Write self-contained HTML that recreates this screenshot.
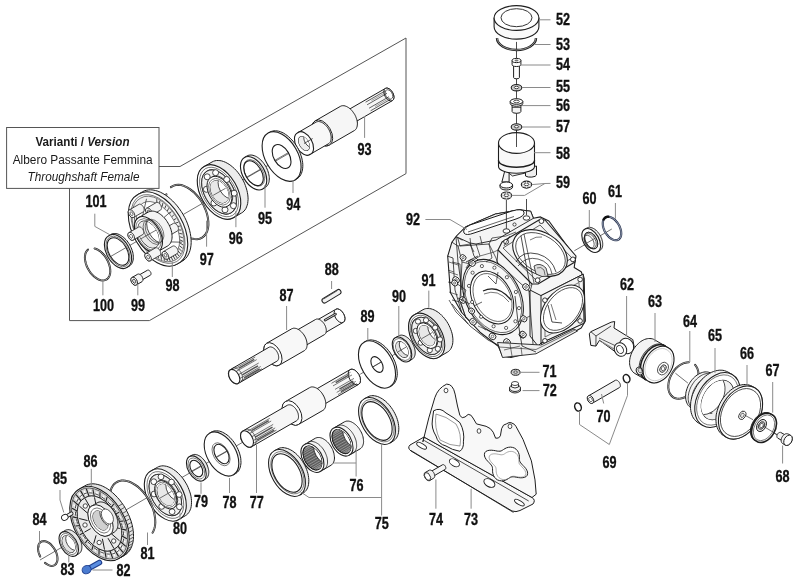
<!DOCTYPE html>
<html><head><meta charset="utf-8"><style>
html,body{margin:0;padding:0;background:#fff;}
svg{display:block;will-change:transform;}
.lb{font-family:"Liberation Sans",sans-serif;font-weight:bold;font-size:16.5px;fill:#111;text-anchor:middle;stroke:#111;stroke-width:0.35px;}
.bx{font-family:"Liberation Sans",sans-serif;font-size:12.6px;fill:#1a1a1a;text-anchor:middle;}
</style></head><body>
<svg width="800" height="587" viewBox="0 0 800 587">
<rect width="800" height="587" fill="#fff"/>
<polyline points="406,38 406,173.6 149.4,320.6 69.5,320.6 69.5,188.4" fill="none" stroke="#555" stroke-width="1"/>
<polyline points="159,166.5 180,166.5 406,38" fill="none" stroke="#555" stroke-width="1"/>
<rect x="6.6" y="127.5" width="152.4" height="60.9" fill="none" stroke="#555" stroke-width="1"/>
<polygon points="456,236.6 466,226.7 495.5,214 519.4,209.8 530.6,211.2 533.4,218.3 540.5,216.9 548.9,221 575.6,257.6 574.2,267.5 581.2,271.7 584,278.7 585.4,321 581.2,328 546,347.6 527.8,353.3 511,357.5 502.5,356 498.3,346.2 480,332.2 461.7,312.5 450.5,292.8 447.7,256.2 451.9,242.2" fill="#f6f6f6" stroke="#1e1e1e" stroke-width="1.1" stroke-linejoin="round"/>
<polyline points="451.9,242.2 458,246 462,262 460,300 466,318" fill="none" stroke="#1e1e1e" stroke-width="0.8" stroke-linejoin="round"/>
<polyline points="456,236.6 462,240 468,238 476,236" fill="none" stroke="#1e1e1e" stroke-width="0.8" stroke-linejoin="round"/>
<polyline points="447.7,256.2 453,258 455,290 461.7,312.5" fill="none" stroke="#1e1e1e" stroke-width="0.8" stroke-linejoin="round"/>
<polyline points="458,246 470,244 474,252" fill="none" stroke="#1e1e1e" stroke-width="0.7" stroke-linejoin="round"/>
<polyline points="449,262 458,265" fill="none" stroke="#1e1e1e" stroke-width="0.6" stroke-linejoin="round"/>
<polyline points="449,272 458,275" fill="none" stroke="#1e1e1e" stroke-width="0.6" stroke-linejoin="round"/>
<polyline points="449,282 458,285" fill="none" stroke="#1e1e1e" stroke-width="0.6" stroke-linejoin="round"/>
<polyline points="449,292 458,295" fill="none" stroke="#1e1e1e" stroke-width="0.6" stroke-linejoin="round"/>
<polyline points="462,262 470,264 472,276" fill="none" stroke="#1e1e1e" stroke-width="0.7" stroke-linejoin="round"/>
<polyline points="452,300 460,302 466,318 474,326" fill="none" stroke="#1e1e1e" stroke-width="0.7" stroke-linejoin="round"/>
<polygon points="456,236.6 466,226.7 495.5,214 519.4,209.8 530.6,211.2 533.4,218.3 520,226 496,240 476,244 470,243" fill="#f4f4f4" stroke="#1e1e1e" stroke-width="0.9" stroke-linejoin="round"/>
<path d="M464,233 Q462,229 470,225 L512,211 Q522,208 524,212 Q525,216 516,219 L474,233 Q466,236 464,233 Z" fill="#fff" stroke="#1e1e1e" stroke-width="1.0"/>
<path d="M468,232 L514,216.5" fill="none" stroke="#1e1e1e" stroke-width="0.7"/>
<polyline points="457.7,238 460,246 489,244 492,238" fill="none" stroke="#1e1e1e" stroke-width="0.8" stroke-linejoin="round"/>
<polyline points="470,238 471,246" fill="none" stroke="#1e1e1e" stroke-width="0.7" stroke-linejoin="round"/>
<polyline points="480,236 482,244" fill="none" stroke="#1e1e1e" stroke-width="0.7" stroke-linejoin="round"/>
<polyline points="470,243 474,256 480,262" fill="none" stroke="#1e1e1e" stroke-width="0.8" stroke-linejoin="round"/>
<polyline points="489,244 496,258 500,270" fill="none" stroke="#1e1e1e" stroke-width="0.7" stroke-linejoin="round"/>
<polyline points="492,238 506,236 516,232" fill="none" stroke="#1e1e1e" stroke-width="0.7" stroke-linejoin="round"/>
<circle cx="514.5" cy="224.5" r="1.6" fill="#fff" stroke="#1e1e1e" stroke-width="0.8"/>
<polyline points="506.4,200.0 506.4,229.0" fill="none" stroke="#1e1e1e" stroke-width="0.8" stroke-linejoin="round"/>
<polyline points="526.5,199.0 526.5,215.0" fill="none" stroke="#1e1e1e" stroke-width="0.8" stroke-linejoin="round"/>
<ellipse cx="506.4" cy="231" rx="3.4" ry="2.2" transform="rotate(0 506.4 231)" fill="#fff" stroke="#1e1e1e" stroke-width="0.9"/>
<ellipse cx="526.5" cy="218" rx="3.4" ry="2.2" transform="rotate(0 526.5 218)" fill="#fff" stroke="#1e1e1e" stroke-width="0.9"/>
<polygon points="498,250 502,242 539,220 545,220 576,256 575,262 538,284 532,284" fill="#f4f4f4" stroke="#1e1e1e" stroke-width="1.1" stroke-linejoin="round"/>
<polyline points="503,248 540,225 572,258 536,280 503,248" fill="none" stroke="#1e1e1e" stroke-width="0.7" stroke-linejoin="round"/>
<polyline points="498,250 497,262 530,292 532,284" fill="none" stroke="#1e1e1e" stroke-width="0.8" stroke-linejoin="round"/>
<ellipse cx="540" cy="253" rx="29.5" ry="20.5" transform="rotate(32 540 253)" fill="#fff" stroke="#1e1e1e" stroke-width="1.1"/>
<ellipse cx="540.5" cy="253.5" rx="27" ry="18" transform="rotate(32 540.5 253.5)" fill="none" stroke="#1e1e1e" stroke-width="0.7"/>
<path d="M521,236 L530,286" stroke="#1e1e1e" stroke-width="0.8"/>
<path d="M524,234 L534,283" stroke="#1e1e1e" stroke-width="0.7"/>
<path d="M516,262 Q522,250 538,254 Q552,258 556,272" fill="none" stroke="#1e1e1e" stroke-width="0.8"/>
<path d="M518,266 Q526,256 538,259 Q550,262 552,274" fill="none" stroke="#1e1e1e" stroke-width="0.7"/>
<path d="M534,266 Q540,262 546,268 L548,276 Q542,278 536,274 Z" fill="#ddd" stroke="#1e1e1e" stroke-width="0.8"/>
<path d="M537,268 Q541,266 544,270 L545,275" fill="none" stroke="#1e1e1e" stroke-width="0.6"/>
<path d="M530,240 Q536,236 542,237" fill="none" stroke="#1e1e1e" stroke-width="0.6"/>
<circle cx="506.1" cy="241.8" r="2.4" fill="#fff" stroke="#1e1e1e" stroke-width="0.9"/>
<circle cx="541.4" cy="221.1" r="2.4" fill="#fff" stroke="#1e1e1e" stroke-width="0.9"/>
<circle cx="572.9" cy="259.4" r="2.4" fill="#fff" stroke="#1e1e1e" stroke-width="0.9"/>
<circle cx="537.6" cy="280.2" r="2.4" fill="#fff" stroke="#1e1e1e" stroke-width="0.9"/>
<ellipse cx="493" cy="297" rx="40" ry="27" transform="rotate(62 493 297)" fill="#f8f8f8" stroke="#1e1e1e" stroke-width="1.1"/>
<ellipse cx="493" cy="297" rx="38" ry="25.5" transform="rotate(62 493 297)" fill="none" stroke="#1e1e1e" stroke-width="0.6"/>
<ellipse cx="492" cy="297.5" rx="28" ry="19.5" transform="rotate(62 492 297.5)" fill="#fff" stroke="#1e1e1e" stroke-width="1.0"/>
<ellipse cx="492.5" cy="297.5" rx="25.5" ry="17.5" transform="rotate(62 492.5 297.5)" fill="none" stroke="#1e1e1e" stroke-width="0.6"/>
<path d="M483,291 Q498,284 511,300" fill="none" stroke="#1e1e1e" stroke-width="1.2"/>
<path d="M484,294 Q498,288 509,302" fill="none" stroke="#1e1e1e" stroke-width="0.6"/>
<polyline points="488,276 496,284 498,272" fill="none" stroke="#1e1e1e" stroke-width="0.7" stroke-linejoin="round"/>
<polyline points="474,306 482,302" fill="none" stroke="#1e1e1e" stroke-width="0.7" stroke-linejoin="round"/>
<circle cx="506.1" cy="327.9" r="1.6" fill="#fff" stroke="#1e1e1e" stroke-width="0.7"/>
<circle cx="493.6" cy="326.3" r="1.6" fill="#fff" stroke="#1e1e1e" stroke-width="0.7"/>
<circle cx="481.1" cy="316.8" r="1.6" fill="#fff" stroke="#1e1e1e" stroke-width="0.7"/>
<circle cx="472.1" cy="302.0" r="1.6" fill="#fff" stroke="#1e1e1e" stroke-width="0.7"/>
<circle cx="469.0" cy="285.9" r="1.6" fill="#fff" stroke="#1e1e1e" stroke-width="0.7"/>
<circle cx="472.6" cy="272.7" r="1.6" fill="#fff" stroke="#1e1e1e" stroke-width="0.7"/>
<circle cx="481.9" cy="266.1" r="1.6" fill="#fff" stroke="#1e1e1e" stroke-width="0.7"/>
<circle cx="494.4" cy="267.7" r="1.6" fill="#fff" stroke="#1e1e1e" stroke-width="0.7"/>
<circle cx="506.9" cy="277.2" r="1.6" fill="#fff" stroke="#1e1e1e" stroke-width="0.7"/>
<circle cx="515.9" cy="292.0" r="1.6" fill="#fff" stroke="#1e1e1e" stroke-width="0.7"/>
<circle cx="519.0" cy="308.1" r="1.6" fill="#fff" stroke="#1e1e1e" stroke-width="0.7"/>
<circle cx="515.4" cy="321.3" r="1.6" fill="#fff" stroke="#1e1e1e" stroke-width="0.7"/>
<ellipse cx="472" cy="263" rx="3.6" ry="3.0" transform="rotate(40 472 263)" fill="#fff" stroke="#1e1e1e" stroke-width="0.9"/>
<circle cx="472" cy="263" r="1.3" fill="#fff" stroke="#1e1e1e" stroke-width="0.6"/>
<ellipse cx="456" cy="280" rx="3.6" ry="3.0" transform="rotate(40 456 280)" fill="#fff" stroke="#1e1e1e" stroke-width="0.9"/>
<circle cx="456" cy="280" r="1.3" fill="#fff" stroke="#1e1e1e" stroke-width="0.6"/>
<ellipse cx="462.7" cy="300" rx="3.6" ry="3.0" transform="rotate(40 462.7 300)" fill="#fff" stroke="#1e1e1e" stroke-width="0.9"/>
<circle cx="462.7" cy="300" r="1.3" fill="#fff" stroke="#1e1e1e" stroke-width="0.6"/>
<ellipse cx="473" cy="321.8" rx="3.6" ry="3.0" transform="rotate(40 473 321.8)" fill="#fff" stroke="#1e1e1e" stroke-width="0.9"/>
<circle cx="473" cy="321.8" r="1.3" fill="#fff" stroke="#1e1e1e" stroke-width="0.6"/>
<ellipse cx="492.5" cy="336.4" rx="3.6" ry="3.0" transform="rotate(40 492.5 336.4)" fill="#fff" stroke="#1e1e1e" stroke-width="0.9"/>
<circle cx="492.5" cy="336.4" r="1.3" fill="#fff" stroke="#1e1e1e" stroke-width="0.6"/>
<ellipse cx="507" cy="342" rx="3.6" ry="3.0" transform="rotate(40 507 342)" fill="#fff" stroke="#1e1e1e" stroke-width="0.9"/>
<circle cx="507" cy="342" r="1.3" fill="#fff" stroke="#1e1e1e" stroke-width="0.6"/>
<ellipse cx="522.5" cy="334.8" rx="3.6" ry="3.0" transform="rotate(40 522.5 334.8)" fill="#fff" stroke="#1e1e1e" stroke-width="0.9"/>
<circle cx="522.5" cy="334.8" r="1.3" fill="#fff" stroke="#1e1e1e" stroke-width="0.6"/>
<ellipse cx="526" cy="287" rx="3.6" ry="3.0" transform="rotate(40 526 287)" fill="#fff" stroke="#1e1e1e" stroke-width="0.9"/>
<circle cx="526" cy="287" r="1.3" fill="#fff" stroke="#1e1e1e" stroke-width="0.6"/>
<ellipse cx="545" cy="344" rx="3.6" ry="3.0" transform="rotate(40 545 344)" fill="#fff" stroke="#1e1e1e" stroke-width="0.9"/>
<circle cx="545" cy="344" r="1.3" fill="#fff" stroke="#1e1e1e" stroke-width="0.6"/>
<polyline points="466,262 478,256" fill="none" stroke="#1e1e1e" stroke-width="0.8" stroke-linejoin="round"/>
<polyline points="458,298 470,304" fill="none" stroke="#1e1e1e" stroke-width="0.8" stroke-linejoin="round"/>
<polyline points="452,304 470,326 488,340 500,346" fill="none" stroke="#1e1e1e" stroke-width="0.8" stroke-linejoin="round"/>
<polyline points="474,318 486,330" fill="none" stroke="#777" stroke-width="1.6" stroke-linejoin="round"/>
<polyline points="478,326 496,334" fill="none" stroke="#1e1e1e" stroke-width="0.6" stroke-linejoin="round"/>
<polyline points="456,283 466,290 462,300" fill="none" stroke="#1e1e1e" stroke-width="0.7" stroke-linejoin="round"/>
<polyline points="452,262 460,264 461,296" fill="none" stroke="#1e1e1e" stroke-width="0.7" stroke-linejoin="round"/>
<polyline points="448,270 454,272" fill="none" stroke="#1e1e1e" stroke-width="0.6" stroke-linejoin="round"/>
<polyline points="448,282 455,284" fill="none" stroke="#1e1e1e" stroke-width="0.6" stroke-linejoin="round"/>
<polygon points="530,290 541,295.6 583.2,274.2 584,278 584,323.2 541,343 538,346 530,336" fill="#f2f2f2" stroke="#1e1e1e" stroke-width="1.0" stroke-linejoin="round"/>
<polygon points="541,295.6 583.2,274.2 584,323.2 541,343" fill="#f4f4f4" stroke="#1e1e1e" stroke-width="1.0" stroke-linejoin="round"/>
<polyline points="545,300 579,282.5 580,319 545,337 545,300" fill="none" stroke="#1e1e1e" stroke-width="0.6" stroke-linejoin="round"/>
<ellipse cx="562.5" cy="309" rx="27.4" ry="17.6" transform="rotate(-51 562.5 309)" fill="#fff" stroke="#1e1e1e" stroke-width="1.0"/>
<ellipse cx="563" cy="309" rx="24.5" ry="15.5" transform="rotate(-51 563 309)" fill="none" stroke="#1e1e1e" stroke-width="0.7"/>
<polyline points="548,305 552,322 562,323" fill="none" stroke="#1e1e1e" stroke-width="0.8" stroke-linejoin="round"/>
<polyline points="551,304 556,320" fill="none" stroke="#1e1e1e" stroke-width="0.6" stroke-linejoin="round"/>
<circle cx="544.9" cy="300.2" r="2.3" fill="#fff" stroke="#1e1e1e" stroke-width="0.9"/>
<circle cx="580.1" cy="279.5" r="2.3" fill="#fff" stroke="#1e1e1e" stroke-width="0.9"/>
<circle cx="580.1" cy="320.9" r="2.3" fill="#fff" stroke="#1e1e1e" stroke-width="0.9"/>
<circle cx="544.9" cy="340.8" r="2.3" fill="#fff" stroke="#1e1e1e" stroke-width="0.9"/>
<polygon points="497.5,342.5 502.5,357.5 536,353.8 577.5,331 574,329 541,345" fill="#f0f0f0" stroke="#1e1e1e" stroke-width="0.9" stroke-linejoin="round"/>
<polyline points="499,347 536,349.5 575,330" fill="none" stroke="#1e1e1e" stroke-width="0.6" stroke-linejoin="round"/>
<polyline points="510,344 512,356" fill="none" stroke="#1e1e1e" stroke-width="0.6" stroke-linejoin="round"/>
<polyline points="521,347 522,355" fill="none" stroke="#1e1e1e" stroke-width="0.6" stroke-linejoin="round"/>
<polyline points="504,350 520,346" fill="none" stroke="#1e1e1e" stroke-width="0.6" stroke-linejoin="round"/>
<polyline points="515,296 518,322 522,346 536,352" fill="none" stroke="#1e1e1e" stroke-width="0.8" stroke-linejoin="round"/>
<polyline points="529,291 531,318 533,344" fill="none" stroke="#1e1e1e" stroke-width="0.8" stroke-linejoin="round"/>
<polyline points="518,322 530,316" fill="none" stroke="#1e1e1e" stroke-width="0.7" stroke-linejoin="round"/>
<ellipse cx="523.75" cy="318.75" rx="3.4" ry="2.8" transform="rotate(40 523.75 318.75)" fill="#fff" stroke="#1e1e1e" stroke-width="0.9"/>
<circle cx="523.75" cy="318.75" r="1.2" fill="#fff" stroke="#1e1e1e" stroke-width="0.6"/>
<ellipse cx="523.1" cy="334.4" rx="3.4" ry="2.8" transform="rotate(40 523.1 334.4)" fill="#fff" stroke="#1e1e1e" stroke-width="0.9"/>
<circle cx="523.1" cy="334.4" r="1.2" fill="#fff" stroke="#1e1e1e" stroke-width="0.6"/>
<polyline points="456,237 458,262 462,290" fill="none" stroke="#1e1e1e" stroke-width="0.8" stroke-linejoin="round"/>
<polyline points="476,244 480,256 470,262 466,268" fill="none" stroke="#1e1e1e" stroke-width="0.7" stroke-linejoin="round"/>
<polyline points="489,244 492,258 486,262" fill="none" stroke="#1e1e1e" stroke-width="0.7" stroke-linejoin="round"/>
<polyline points="480,256 494,252" fill="none" stroke="#1e1e1e" stroke-width="0.6" stroke-linejoin="round"/>
<polyline points="494,252 498,250" fill="none" stroke="#1e1e1e" stroke-width="0.6" stroke-linejoin="round"/>
<polyline points="449,300 456,312 468,324" fill="none" stroke="#1e1e1e" stroke-width="0.7" stroke-linejoin="round"/>
<ellipse cx="463" cy="257.6" rx="3.2" ry="2.7" transform="rotate(40 463 257.6)" fill="#fff" stroke="#1e1e1e" stroke-width="0.9"/>
<circle cx="463" cy="257.6" r="1.1" fill="#fff" stroke="#1e1e1e" stroke-width="0.6"/>
<ellipse cx="454.7" cy="283" rx="3.2" ry="2.7" transform="rotate(40 454.7 283)" fill="#fff" stroke="#1e1e1e" stroke-width="0.9"/>
<circle cx="454.7" cy="283" r="1.1" fill="#fff" stroke="#1e1e1e" stroke-width="0.6"/>
<ellipse cx="471.6" cy="311" rx="3.2" ry="2.7" transform="rotate(40 471.6 311)" fill="#fff" stroke="#1e1e1e" stroke-width="0.9"/>
<circle cx="471.6" cy="311" r="1.1" fill="#fff" stroke="#1e1e1e" stroke-width="0.6"/>
<polyline points="510,236 504,246" fill="none" stroke="#1e1e1e" stroke-width="0.7" stroke-linejoin="round"/>
<polyline points="108.0,258.0 312.0,140.0" fill="none" stroke="#333" stroke-width="0.7" stroke-linejoin="round"/>
<path d="M350.8,124.6 L350.5,124.7 L350.1,124.8 L349.7,124.9 L349.3,124.9 L348.9,124.9 L348.5,124.8 L348.1,124.7 L347.6,124.5 L347.2,124.3 L346.8,124.0 L346.3,123.7 L345.9,123.3 L345.5,123.0 L345.1,122.5 L344.7,122.1 L344.3,121.6 L344.0,121.1 L343.7,120.6 L343.4,120.1 L343.1,119.5 L342.9,119.0 L342.7,118.4 L342.5,117.8 L342.4,117.3 L342.3,116.7 L342.3,116.2 L342.3,115.7 L342.3,115.2 L342.3,114.7 L342.5,114.3 L342.6,113.9 L342.8,113.5 L343.0,113.2 L343.2,112.9 L343.5,112.6 L343.8,112.4 L385.4,88.4 L385.7,88.3 L386.1,88.2 L386.4,88.1 L386.8,88.1 L387.2,88.1 L387.7,88.2 L388.1,88.3 L388.5,88.5 L389.0,88.7 L389.4,89.0 L389.8,89.3 L390.3,89.7 L390.7,90.0 L391.1,90.5 L391.5,90.9 L391.8,91.4 L392.2,91.9 L392.5,92.4 L392.8,92.9 L393.1,93.5 L393.3,94.0 L393.5,94.6 L393.6,95.2 L393.8,95.7 L393.9,96.3 L393.9,96.8 L393.9,97.3 L393.9,97.8 L393.8,98.3 L393.7,98.7 L393.6,99.1 L393.4,99.5 L393.2,99.8 L392.9,100.1 L392.7,100.4 L392.4,100.6Z" fill="#f6f6f6" stroke="#1e1e1e" stroke-width="1.0" stroke-linejoin="round" />
<path d="M392.4,100.6 A7.0,4.2 60.0 1 0 385.4,88.4 A7.0,4.2 60.0 1 0 392.4,100.6Z" fill="#fff" stroke="#1e1e1e" stroke-width="1" stroke-linejoin="round" />
<path d="M391.4,98.8 A5.0,3.0 60.0 1 0 386.4,90.2 A5.0,3.0 60.0 1 0 391.4,98.8Z" fill="#fff" stroke="#1e1e1e" stroke-width="0.7" stroke-linejoin="round" />
<line x1="365.6" y1="102.2" x2="385.5" y2="90.7" stroke="#1e1e1e" stroke-width="0.7"/>
<line x1="367.1" y1="104.8" x2="387.0" y2="93.3" stroke="#1e1e1e" stroke-width="0.7"/>
<line x1="369.1" y1="108.2" x2="389.0" y2="96.7" stroke="#1e1e1e" stroke-width="0.7"/>
<line x1="370.6" y1="110.8" x2="390.5" y2="99.3" stroke="#1e1e1e" stroke-width="0.7"/>
<line x1="371.5" y1="100.5" x2="386.3" y2="92.0" stroke="#666" stroke-width="0.6"/>
<line x1="375.0" y1="106.5" x2="389.8" y2="98.0" stroke="#666" stroke-width="0.6"/>
<path d="M329.2,145.1 L328.5,145.4 L327.8,145.7 L327.1,145.8 L326.3,145.8 L325.5,145.8 L324.6,145.6 L323.7,145.3 L322.9,145.0 L322.0,144.5 L321.1,144.0 L320.2,143.4 L319.4,142.7 L318.6,141.9 L317.7,141.1 L317.0,140.2 L316.2,139.2 L315.5,138.2 L314.9,137.2 L314.3,136.1 L313.8,135.0 L313.3,133.9 L313.0,132.8 L312.6,131.7 L312.4,130.6 L312.2,129.5 L312.1,128.4 L312.1,127.4 L312.1,126.4 L312.3,125.5 L312.5,124.6 L312.8,123.8 L313.1,123.0 L313.5,122.4 L314.0,121.8 L314.6,121.3 L315.2,120.9 L340.3,106.4 L341.0,106.1 L341.7,105.8 L342.4,105.7 L343.2,105.7 L344.0,105.7 L344.9,105.9 L345.7,106.2 L346.6,106.5 L347.5,107.0 L348.4,107.5 L349.2,108.1 L350.1,108.8 L350.9,109.6 L351.7,110.4 L352.5,111.3 L353.2,112.3 L353.9,113.3 L354.6,114.3 L355.2,115.4 L355.7,116.5 L356.1,117.6 L356.5,118.7 L356.9,119.8 L357.1,120.9 L357.3,122.0 L357.4,123.1 L357.4,124.1 L357.3,125.1 L357.2,126.0 L357.0,126.9 L356.7,127.7 L356.4,128.5 L355.9,129.1 L355.5,129.7 L354.9,130.2 L354.3,130.6Z" fill="#f6f6f6" stroke="#1e1e1e" stroke-width="1.0" stroke-linejoin="round" />
<path d="M329.2,145.1 A14.0,8.4 60.0 1 0 315.2,120.9 A14.0,8.4 60.0 1 0 329.2,145.1Z" fill="#fff" stroke="#1e1e1e" stroke-width="1" stroke-linejoin="round" />
<path d="M310.2,154.3 L309.7,154.6 L309.0,154.8 L308.4,154.9 L307.7,155.0 L306.9,154.9 L306.2,154.8 L305.4,154.5 L304.6,154.2 L303.8,153.8 L303.0,153.3 L302.3,152.8 L301.5,152.2 L300.8,151.5 L300.0,150.7 L299.3,149.9 L298.7,149.1 L298.1,148.2 L297.5,147.2 L297.0,146.3 L296.5,145.3 L296.1,144.3 L295.8,143.3 L295.5,142.3 L295.2,141.3 L295.1,140.4 L295.0,139.4 L295.0,138.5 L295.0,137.6 L295.2,136.8 L295.3,136.0 L295.6,135.3 L295.9,134.6 L296.3,134.0 L296.7,133.5 L297.2,133.0 L297.8,132.7 L315.9,122.2 L316.5,121.9 L317.2,121.7 L317.8,121.6 L318.5,121.5 L319.3,121.6 L320.0,121.8 L320.8,122.0 L321.6,122.3 L322.4,122.7 L323.1,123.2 L323.9,123.7 L324.7,124.3 L325.4,125.0 L326.2,125.8 L326.8,126.6 L327.5,127.4 L328.1,128.3 L328.7,129.2 L329.2,130.2 L329.7,131.2 L330.1,132.2 L330.4,133.2 L330.7,134.2 L330.9,135.2 L331.1,136.1 L331.2,137.1 L331.2,138.0 L331.1,138.9 L331.0,139.7 L330.8,140.5 L330.6,141.2 L330.3,141.9 L329.9,142.5 L329.5,143.0 L329.0,143.5 L328.4,143.8Z" fill="#f8f8f8" stroke="#1e1e1e" stroke-width="1.0" stroke-linejoin="round" />
<path d="M310.2,154.3 A12.5,7.5 60.0 1 0 297.8,132.7 A12.5,7.5 60.0 1 0 310.2,154.3ZM307.8,150.0 A7.5,4.5 60.0 1 0 300.2,137.0 A7.5,4.5 60.0 1 0 307.8,150.0Z" fill="#fff" stroke="#1e1e1e" stroke-width="1.1" stroke-linejoin="round" fill-rule="evenodd"/>
<path d="M307.8,150.0 A7.5,4.5 60.0 1 0 300.2,137.0 A7.5,4.5 60.0 1 0 307.8,150.0Z" fill="#eee" stroke="#1e1e1e" stroke-width="0" stroke-linejoin="round" />
<clipPath id="k1"><path d="M307.8,150.0 A7.5,4.5 60.0 1 0 300.2,137.0 A7.5,4.5 60.0 1 0 307.8,150.0Z"/></clipPath>
<path d="M312.9,147.0 A7.5,4.5 60.0 1 0 305.4,134.0 A7.5,4.5 60.0 1 0 312.9,147.0Z" fill="#fff" stroke="#1e1e1e" stroke-width="0.8" stroke-linejoin="round" clip-path="url(#k1)"/>
<line x1="304.0" y1="143.5" x2="312.7" y2="138.5" stroke="#1e1e1e" stroke-width="0.7"/>
<path d="M295.1,179.9 L293.8,180.5 L292.5,180.9 L291.0,181.2 L289.5,181.2 L287.9,181.1 L286.3,180.8 L284.6,180.3 L282.9,179.6 L281.2,178.8 L279.5,177.7 L277.9,176.5 L276.2,175.2 L274.6,173.7 L273.0,172.1 L271.5,170.4 L270.1,168.5 L268.8,166.6 L267.6,164.6 L266.4,162.5 L265.4,160.4 L264.6,158.3 L263.8,156.1 L263.2,154.0 L262.7,151.8 L262.4,149.7 L262.2,147.7 L262.1,145.7 L262.2,143.8 L262.5,142.0 L262.9,140.3 L263.4,138.7 L264.1,137.3 L264.9,136.0 L265.9,134.9 L266.9,133.9 L268.1,133.1 L269.8,132.1 L271.1,131.5 L272.5,131.1 L273.9,130.8 L275.4,130.8 L277.0,130.9 L278.7,131.2 L280.3,131.7 L282.0,132.4 L283.7,133.2 L285.4,134.3 L287.1,135.5 L288.7,136.8 L290.3,138.3 L291.9,139.9 L293.4,141.6 L294.8,143.5 L296.1,145.4 L297.4,147.4 L298.5,149.5 L299.5,151.6 L300.4,153.7 L301.1,155.9 L301.8,158.0 L302.2,160.2 L302.6,162.3 L302.8,164.3 L302.8,166.3 L302.7,168.2 L302.4,170.0 L302.0,171.7 L301.5,173.3 L300.8,174.7 L300.0,176.0 L299.1,177.1 L298.0,178.1 L296.8,178.9ZM288.1,167.8 A13.0,7.8 60.0 1 0 275.1,145.2 A13.0,7.8 60.0 1 0 288.1,167.8Z" fill="#eee" stroke="none" stroke-width="0" stroke-linejoin="round" fill-rule="evenodd"/>
<polyline points="269.8,132.1 271.1,131.5 272.5,131.1 273.9,130.8 275.4,130.8 277.0,130.9 278.7,131.2 280.3,131.7 282.0,132.4 283.7,133.2 285.4,134.3 287.1,135.5 288.7,136.8 290.3,138.3 291.9,139.9 293.4,141.6 294.8,143.5 296.1,145.4 297.4,147.4 298.5,149.5 299.5,151.6 300.4,153.7 301.1,155.9 301.8,158.0 302.2,160.2 302.6,162.3 302.8,164.3 302.8,166.3 302.7,168.2 302.4,170.0 302.0,171.7 301.5,173.3 300.8,174.7 300.0,176.0 299.1,177.1 298.0,178.1 296.8,178.9" fill="none" stroke="#1e1e1e" stroke-width="1.0"/>
<line x1="295.1" y1="179.9" x2="296.8" y2="178.9" stroke="#1e1e1e" stroke-width="1.0"/>
<line x1="268.1" y1="133.1" x2="269.8" y2="132.1" stroke="#1e1e1e" stroke-width="1.0"/>
<path d="M295.1,179.9 A27.0,16.2 60.0 1 0 268.1,133.1 A27.0,16.2 60.0 1 0 295.1,179.9ZM288.1,167.8 A13.0,7.8 60.0 1 0 275.1,145.2 A13.0,7.8 60.0 1 0 288.1,167.8Z" fill="#fff" stroke="#1e1e1e" stroke-width="1.1" stroke-linejoin="round" fill-rule="evenodd"/>
<line x1="274.8" y1="160.4" x2="288.4" y2="152.6" stroke="#333" stroke-width="0.7"/>
<path d="M262.7,189.0 L261.8,189.4 L260.9,189.7 L259.9,189.8 L258.9,189.9 L257.9,189.8 L256.8,189.6 L255.6,189.2 L254.5,188.8 L253.3,188.2 L252.2,187.5 L251.1,186.7 L250.0,185.8 L248.9,184.8 L247.8,183.7 L246.8,182.6 L245.9,181.3 L245.0,180.0 L244.1,178.7 L243.4,177.3 L242.7,175.8 L242.1,174.4 L241.6,172.9 L241.2,171.5 L240.9,170.0 L240.6,168.6 L240.5,167.3 L240.5,165.9 L240.6,164.6 L240.7,163.4 L241.0,162.3 L241.4,161.2 L241.8,160.3 L242.4,159.4 L243.0,158.6 L243.7,158.0 L244.5,157.4 L247.1,155.9 L248.0,155.5 L248.9,155.2 L249.9,155.1 L250.9,155.0 L251.9,155.1 L253.0,155.3 L254.2,155.7 L255.3,156.1 L256.5,156.7 L257.6,157.4 L258.7,158.2 L259.8,159.1 L260.9,160.1 L262.0,161.2 L263.0,162.3 L263.9,163.6 L264.8,164.9 L265.7,166.2 L266.4,167.6 L267.1,169.1 L267.7,170.5 L268.2,172.0 L268.6,173.4 L268.9,174.9 L269.2,176.3 L269.3,177.6 L269.3,179.0 L269.2,180.3 L269.1,181.5 L268.8,182.6 L268.4,183.7 L268.0,184.6 L267.4,185.5 L266.8,186.3 L266.1,186.9 L265.3,187.5ZM260.3,184.9 A13.5,8.1 60.0 1 0 246.8,161.5 A13.5,8.1 60.0 1 0 260.3,184.9Z" fill="#eee" stroke="none" stroke-width="0" stroke-linejoin="round" fill-rule="evenodd"/>
<polyline points="247.1,155.9 248.0,155.5 248.9,155.2 249.9,155.1 250.9,155.0 251.9,155.1 253.0,155.3 254.2,155.7 255.3,156.1 256.5,156.7 257.6,157.4 258.7,158.2 259.8,159.1 260.9,160.1 262.0,161.2 263.0,162.3 263.9,163.6 264.8,164.9 265.7,166.2 266.4,167.6 267.1,169.1 267.7,170.5 268.2,172.0 268.6,173.4 268.9,174.9 269.2,176.3 269.3,177.6 269.3,179.0 269.2,180.3 269.1,181.5 268.8,182.6 268.4,183.7 268.0,184.6 267.4,185.5 266.8,186.3 266.1,186.9 265.3,187.5" fill="none" stroke="#1e1e1e" stroke-width="1.0"/>
<line x1="262.7" y1="189.0" x2="265.3" y2="187.5" stroke="#1e1e1e" stroke-width="1.0"/>
<line x1="244.5" y1="157.4" x2="247.1" y2="155.9" stroke="#1e1e1e" stroke-width="1.0"/>
<path d="M262.7,189.0 A18.2,10.9 60.0 1 0 244.5,157.4 A18.2,10.9 60.0 1 0 262.7,189.0ZM260.3,184.9 A13.5,8.1 60.0 1 0 246.8,161.5 A13.5,8.1 60.0 1 0 260.3,184.9Z" fill="#fff" stroke="#1e1e1e" stroke-width="1.1" stroke-linejoin="round" fill-rule="evenodd"/>
<path d="M261.4,185.5 A14.5,8.7 60.0 1 0 246.9,160.3 A14.5,8.7 60.0 1 0 261.4,185.5Z" fill="none" stroke="#1e1e1e" stroke-width="0.6" stroke-linejoin="round" />
<line x1="246.6" y1="177.2" x2="260.6" y2="169.1" stroke="#333" stroke-width="0.7"/>
<path d="M233.8,217.5 L232.4,218.2 L230.9,218.7 L229.3,219.0 L227.6,219.0 L225.9,218.9 L224.1,218.6 L222.3,218.0 L220.4,217.3 L218.6,216.3 L216.7,215.2 L214.9,213.9 L213.1,212.4 L211.3,210.8 L209.6,209.1 L208.0,207.2 L206.5,205.2 L205.0,203.0 L203.7,200.8 L202.4,198.6 L201.3,196.3 L200.4,193.9 L199.6,191.6 L198.9,189.2 L198.3,186.9 L198.0,184.6 L197.8,182.4 L197.7,180.2 L197.8,178.1 L198.1,176.1 L198.6,174.3 L199.2,172.6 L199.9,171.0 L200.8,169.6 L201.8,168.4 L203.0,167.3 L204.2,166.5 L212.0,162.0 L213.4,161.3 L214.9,160.8 L216.5,160.5 L218.2,160.5 L219.9,160.6 L221.7,160.9 L223.5,161.5 L225.3,162.2 L227.2,163.2 L229.1,164.3 L230.9,165.6 L232.7,167.1 L234.5,168.7 L236.2,170.4 L237.8,172.3 L239.3,174.3 L240.8,176.5 L242.1,178.7 L243.4,180.9 L244.5,183.2 L245.4,185.6 L246.2,187.9 L246.9,190.3 L247.4,192.6 L247.8,194.9 L248.0,197.1 L248.1,199.3 L247.9,201.4 L247.7,203.4 L247.2,205.2 L246.6,206.9 L245.9,208.5 L245.0,209.9 L244.0,211.1 L242.8,212.2 L241.5,213.0Z" fill="#ececec" stroke="#1e1e1e" stroke-width="1.0" stroke-linejoin="round" />
<path d="M233.8,217.5 A29.5,17.7 60.0 1 0 204.2,166.5 A29.5,17.7 60.0 1 0 233.8,217.5ZM231.0,212.8 A24.0,14.4 60.0 1 0 207.0,171.2 A24.0,14.4 60.0 1 0 231.0,212.8Z" fill="#fff" stroke="#1e1e1e" stroke-width="1.1" stroke-linejoin="round" fill-rule="evenodd"/>
<path d="M232.5,215.4 A27.0,16.2 60.0 1 0 205.5,168.6 A27.0,16.2 60.0 1 0 232.5,215.4Z" fill="none" stroke="#1e1e1e" stroke-width="0.6" stroke-linejoin="round" />
<path d="M231.0,212.8 A24.0,14.4 60.0 1 0 207.0,171.2 A24.0,14.4 60.0 1 0 231.0,212.8ZM228.5,205.5 A16.5,9.9 60.0 1 0 212.0,177.0 A16.5,9.9 60.0 1 0 228.5,205.5Z" fill="#f0f0f0" stroke="#1e1e1e" stroke-width="0.8" stroke-linejoin="round" fill-rule="evenodd"/>
<circle cx="233.4" cy="205.7" r="3.0" fill="#fff" stroke="#1e1e1e" stroke-width="0.8"/>
<circle cx="234.1" cy="193.2" r="3.0" fill="#fff" stroke="#1e1e1e" stroke-width="0.8"/>
<circle cx="226.7" cy="179.5" r="3.0" fill="#fff" stroke="#1e1e1e" stroke-width="0.8"/>
<circle cx="215.6" cy="172.7" r="3.0" fill="#fff" stroke="#1e1e1e" stroke-width="0.8"/>
<circle cx="207.2" cy="176.8" r="3.0" fill="#fff" stroke="#1e1e1e" stroke-width="0.8"/>
<circle cx="206.4" cy="189.3" r="3.0" fill="#fff" stroke="#1e1e1e" stroke-width="0.8"/>
<circle cx="213.9" cy="203.0" r="3.0" fill="#fff" stroke="#1e1e1e" stroke-width="0.8"/>
<circle cx="225.0" cy="209.8" r="3.0" fill="#fff" stroke="#1e1e1e" stroke-width="0.8"/>
<path d="M227.7,206.0 A16.5,9.9 60.0 1 0 211.2,177.5 A16.5,9.9 60.0 1 0 227.7,206.0ZM225.4,202.1 A12.0,7.2 60.0 1 0 213.4,181.4 A12.0,7.2 60.0 1 0 225.4,202.1Z" fill="#fff" stroke="#1e1e1e" stroke-width="1" stroke-linejoin="round" fill-rule="evenodd"/>
<path d="M226.5,204.0 A14.2,8.5 60.0 1 0 212.3,179.5 A14.2,8.5 60.0 1 0 226.5,204.0Z" fill="none" stroke="#1e1e1e" stroke-width="0.6" stroke-linejoin="round" />
<path d="M225.4,202.1 A12.0,7.2 60.0 1 0 213.4,181.4 A12.0,7.2 60.0 1 0 225.4,202.1Z" fill="#e8e8e8" stroke="#1e1e1e" stroke-width="0" stroke-linejoin="round" />
<clipPath id="k2"><path d="M225.4,202.1 A12.0,7.2 60.0 1 0 213.4,181.4 A12.0,7.2 60.0 1 0 225.4,202.1Z"/></clipPath>
<path d="M233.2,197.6 A12.0,7.2 60.0 1 0 221.2,176.9 A12.0,7.2 60.0 1 0 233.2,197.6Z" fill="#fff" stroke="#1e1e1e" stroke-width="0.8" stroke-linejoin="round" clip-path="url(#k2)"/>
<line x1="213.2" y1="195.3" x2="225.7" y2="188.2" stroke="#333" stroke-width="0.7"/>
<polyline points="166.4,194.2 165.8,197.4 165.6,200.9 165.8,204.6 166.6,208.5 167.7,212.5 169.3,216.4 171.2,220.3 173.5,224.0 176.1,227.4 178.9,230.5 181.8,233.2 184.9,235.5 188.0,237.2 191.1,238.5 194.2,239.1 197.0,239.2 199.7,238.7 202.1,237.6 204.1,236.0 205.8,233.9 207.1,231.3 208.0,228.2 208.4,224.9 208.3,221.3 207.8,217.4 206.9,213.5 205.5,209.5 203.8,205.6 201.7,201.8 199.2,198.2 196.5,195.0 193.7,192.1 190.6,189.6 187.5,187.6 184.4,186.1 181.3,185.1 178.4,184.8 175.6,185.0 173.1,185.8 170.9,187.2" fill="none" stroke="#1e1e1e" stroke-width="2.0" stroke-linecap="round"/>
<polyline points="166.4,194.2 165.8,197.4 165.6,200.9 165.8,204.6 166.6,208.5 167.7,212.5 169.3,216.4 171.2,220.3 173.5,224.0 176.1,227.4 178.9,230.5 181.8,233.2 184.9,235.5 188.0,237.2 191.1,238.5 194.2,239.1 197.0,239.2 199.7,238.7 202.1,237.6 204.1,236.0 205.8,233.9 207.1,231.3 208.0,228.2 208.4,224.9 208.3,221.3 207.8,217.4 206.9,213.5 205.5,209.5 203.8,205.6 201.7,201.8 199.2,198.2 196.5,195.0 193.7,192.1 190.6,189.6 187.5,187.6 184.4,186.1 181.3,185.1 178.4,184.8 175.6,185.0 173.1,185.8 170.9,187.2" fill="none" stroke="#eee" stroke-width="0.6" stroke-linecap="round"/>
<path d="M178.0,263.6 L176.1,264.6 L174.1,265.2 L171.9,265.6 L169.7,265.7 L167.3,265.5 L164.9,265.0 L162.5,264.3 L160.0,263.3 L157.4,262.0 L154.9,260.5 L152.4,258.7 L150.0,256.7 L147.6,254.5 L145.3,252.1 L143.1,249.6 L141.0,246.8 L139.0,244.0 L137.2,241.0 L135.6,237.9 L134.1,234.8 L132.7,231.6 L131.6,228.4 L130.7,225.2 L130.0,222.1 L129.5,219.0 L129.2,215.9 L129.2,213.0 L129.3,210.2 L129.7,207.5 L130.3,205.0 L131.1,202.7 L132.1,200.6 L133.3,198.6 L134.7,197.0 L136.3,195.5 L138.0,194.4 L142.3,191.9 L144.2,190.9 L146.2,190.3 L148.4,189.9 L150.6,189.8 L153.0,190.0 L155.4,190.5 L157.9,191.2 L160.4,192.2 L162.9,193.5 L165.4,195.0 L167.9,196.8 L170.3,198.8 L172.7,201.0 L175.0,203.4 L177.2,205.9 L179.3,208.7 L181.3,211.5 L183.1,214.5 L184.8,217.6 L186.3,220.7 L187.6,223.9 L188.7,227.1 L189.6,230.3 L190.3,233.4 L190.8,236.5 L191.1,239.6 L191.2,242.5 L191.0,245.3 L190.6,248.0 L190.0,250.5 L189.2,252.8 L188.2,254.9 L187.0,256.9 L185.6,258.5 L184.1,260.0 L182.3,261.1Z" fill="#f2f2f2" stroke="#1e1e1e" stroke-width="1.0" stroke-linejoin="round" />
<path d="M178.0,263.6 A40.0,24.0 60.0 1 0 138.0,194.4 A40.0,24.0 60.0 1 0 178.0,263.6Z" fill="#fff" stroke="#1e1e1e" stroke-width="1.1" stroke-linejoin="round" />
<path d="M176.8,261.5 A37.5,22.5 60.0 1 0 139.2,196.5 A37.5,22.5 60.0 1 0 176.8,261.5Z" fill="none" stroke="#1e1e1e" stroke-width="0.6" stroke-linejoin="round" />
<path d="M175.8,259.7 A35.5,21.3 60.0 1 0 140.2,198.3 A35.5,21.3 60.0 1 0 175.8,259.7ZM173.0,255.0 A30.0,18.0 60.0 1 0 143.0,203.0 A30.0,18.0 60.0 1 0 173.0,255.0Z" fill="#f0f0f0" stroke="#1e1e1e" stroke-width="0.6" stroke-linejoin="round" fill-rule="evenodd"/>
<line x1="155.7" y1="253.0" x2="155.3" y2="256.5" stroke="#333" stroke-width="0.9"/>
<line x1="158.3" y1="254.6" x2="158.4" y2="258.3" stroke="#333" stroke-width="0.9"/>
<line x1="161.0" y1="255.7" x2="161.5" y2="259.7" stroke="#333" stroke-width="0.9"/>
<line x1="163.7" y1="256.5" x2="164.5" y2="260.6" stroke="#333" stroke-width="0.9"/>
<line x1="166.2" y1="256.9" x2="167.4" y2="261.0" stroke="#333" stroke-width="0.9"/>
<line x1="168.6" y1="256.9" x2="170.2" y2="261.0" stroke="#333" stroke-width="0.9"/>
<line x1="170.9" y1="256.4" x2="172.8" y2="260.5" stroke="#333" stroke-width="0.9"/>
<line x1="173.0" y1="255.6" x2="175.2" y2="259.5" stroke="#333" stroke-width="0.9"/>
<line x1="174.8" y1="254.3" x2="177.3" y2="258.0" stroke="#333" stroke-width="0.9"/>
<line x1="176.4" y1="252.7" x2="179.1" y2="256.2" stroke="#333" stroke-width="0.9"/>
<line x1="177.8" y1="250.7" x2="180.7" y2="253.9" stroke="#333" stroke-width="0.9"/>
<line x1="178.8" y1="248.4" x2="181.8" y2="251.2" stroke="#333" stroke-width="0.9"/>
<line x1="179.5" y1="245.8" x2="182.7" y2="248.3" stroke="#333" stroke-width="0.9"/>
<line x1="179.9" y1="242.9" x2="183.1" y2="245.0" stroke="#333" stroke-width="0.9"/>
<line x1="180.0" y1="239.9" x2="183.2" y2="241.5" stroke="#333" stroke-width="0.9"/>
<line x1="179.7" y1="236.7" x2="182.9" y2="237.8" stroke="#333" stroke-width="0.9"/>
<line x1="179.2" y1="233.3" x2="182.3" y2="234.0" stroke="#333" stroke-width="0.9"/>
<line x1="178.3" y1="229.9" x2="181.3" y2="230.1" stroke="#333" stroke-width="0.9"/>
<line x1="177.1" y1="226.5" x2="179.9" y2="226.1" stroke="#333" stroke-width="0.9"/>
<line x1="175.6" y1="223.1" x2="178.2" y2="222.3" stroke="#333" stroke-width="0.9"/>
<line x1="173.8" y1="219.8" x2="176.2" y2="218.5" stroke="#333" stroke-width="0.9"/>
<line x1="171.9" y1="216.7" x2="173.9" y2="214.9" stroke="#333" stroke-width="0.9"/>
<line x1="169.7" y1="213.7" x2="171.4" y2="211.5" stroke="#333" stroke-width="0.9"/>
<line x1="167.3" y1="211.0" x2="168.7" y2="208.3" stroke="#333" stroke-width="0.9"/>
<line x1="164.8" y1="208.5" x2="165.8" y2="205.5" stroke="#333" stroke-width="0.9"/>
<line x1="162.2" y1="206.4" x2="162.9" y2="203.0" stroke="#333" stroke-width="0.9"/>
<line x1="159.6" y1="204.5" x2="159.8" y2="200.9" stroke="#333" stroke-width="0.9"/>
<line x1="156.9" y1="203.1" x2="156.7" y2="199.2" stroke="#333" stroke-width="0.9"/>
<line x1="161.5" y1="241.7" x2="181.8" y2="242.2" stroke="#1e1e1e" stroke-width="0.7"/>
<line x1="155.2" y1="225.2" x2="170.3" y2="212.0" stroke="#1e1e1e" stroke-width="0.7"/>
<line x1="142.2" y1="218.0" x2="146.5" y2="198.8" stroke="#1e1e1e" stroke-width="0.7"/>
<line x1="135.5" y1="227.3" x2="134.2" y2="215.8" stroke="#1e1e1e" stroke-width="0.7"/>
<line x1="141.8" y1="243.8" x2="145.7" y2="246.0" stroke="#1e1e1e" stroke-width="0.7"/>
<line x1="154.7" y1="251.0" x2="169.5" y2="259.2" stroke="#1e1e1e" stroke-width="0.7"/>
<path d="M167.6,259.1 L167.4,259.2 L167.2,259.3 L167.0,259.3 L166.7,259.3 L166.5,259.3 L166.2,259.2 L165.9,259.2 L165.7,259.1 L165.4,258.9 L165.1,258.8 L164.9,258.6 L164.6,258.3 L164.3,258.1 L164.1,257.9 L163.9,257.6 L163.6,257.3 L163.4,257.0 L163.2,256.7 L163.0,256.3 L162.9,256.0 L162.7,255.7 L162.6,255.3 L162.5,255.0 L162.4,254.6 L162.4,254.3 L162.4,254.0 L162.4,253.6 L162.4,253.3 L162.4,253.1 L162.5,252.8 L162.6,252.5 L162.7,252.3 L162.8,252.1 L162.9,251.9 L163.1,251.8 L163.3,251.6 L172.8,246.1 L173.0,246.0 L173.3,246.0 L173.5,245.9 L173.7,245.9 L174.0,245.9 L174.2,246.0 L174.5,246.1 L174.8,246.2 L175.0,246.3 L175.3,246.5 L175.6,246.7 L175.8,246.9 L176.1,247.1 L176.3,247.4 L176.6,247.7 L176.8,248.0 L177.0,248.3 L177.2,248.6 L177.4,248.9 L177.6,249.2 L177.7,249.6 L177.8,249.9 L177.9,250.3 L178.0,250.6 L178.0,250.9 L178.1,251.3 L178.1,251.6 L178.1,251.9 L178.0,252.2 L178.0,252.4 L177.9,252.7 L177.8,252.9 L177.6,253.1 L177.5,253.3 L177.3,253.5 L177.1,253.6Z" fill="#f4f4f4" stroke="#1e1e1e" stroke-width="0.8" stroke-linejoin="round" />
<path d="M167.6,259.1 A4.3,2.6 60.0 1 0 163.3,251.6 A4.3,2.6 60.0 1 0 167.6,259.1Z" fill="#fff" stroke="#1e1e1e" stroke-width="0.9" stroke-linejoin="round" />
<path d="M166.5,257.1 A2.0,1.2 60.0 1 0 164.5,253.6 A2.0,1.2 60.0 1 0 166.5,257.1Z" fill="#fff" stroke="#1e1e1e" stroke-width="0.7" stroke-linejoin="round" />
<path d="M168.0,236.4 L167.8,236.5 L167.6,236.6 L167.3,236.6 L167.1,236.6 L166.8,236.6 L166.6,236.6 L166.3,236.5 L166.0,236.4 L165.8,236.2 L165.5,236.1 L165.2,235.9 L165.0,235.7 L164.7,235.4 L164.5,235.2 L164.2,234.9 L164.0,234.6 L163.8,234.3 L163.6,234.0 L163.4,233.7 L163.3,233.3 L163.1,233.0 L163.0,232.6 L162.9,232.3 L162.8,232.0 L162.8,231.6 L162.7,231.3 L162.7,231.0 L162.8,230.7 L162.8,230.4 L162.9,230.1 L162.9,229.9 L163.1,229.6 L163.2,229.4 L163.3,229.3 L163.5,229.1 L163.7,229.0 L173.2,223.5 L173.4,223.4 L173.6,223.3 L173.9,223.3 L174.1,223.3 L174.4,223.3 L174.6,223.3 L174.9,223.4 L175.2,223.5 L175.4,223.6 L175.7,223.8 L176.0,224.0 L176.2,224.2 L176.5,224.5 L176.7,224.7 L177.0,225.0 L177.2,225.3 L177.4,225.6 L177.6,225.9 L177.8,226.2 L177.9,226.6 L178.1,226.9 L178.2,227.3 L178.3,227.6 L178.4,227.9 L178.4,228.3 L178.5,228.6 L178.5,228.9 L178.4,229.2 L178.4,229.5 L178.3,229.8 L178.3,230.0 L178.1,230.3 L178.0,230.5 L177.9,230.6 L177.7,230.8 L177.5,230.9Z" fill="#f4f4f4" stroke="#1e1e1e" stroke-width="0.8" stroke-linejoin="round" />
<path d="M168.0,236.4 A4.3,2.6 60.0 1 0 163.7,229.0 A4.3,2.6 60.0 1 0 168.0,236.4Z" fill="#fff" stroke="#1e1e1e" stroke-width="0.9" stroke-linejoin="round" />
<path d="M166.8,234.4 A2.0,1.2 60.0 1 0 164.8,231.0 A2.0,1.2 60.0 1 0 166.8,234.4Z" fill="#fff" stroke="#1e1e1e" stroke-width="0.7" stroke-linejoin="round" />
<path d="M151.0,215.6 L150.8,215.6 L150.6,215.7 L150.4,215.8 L150.1,215.8 L149.9,215.7 L149.6,215.7 L149.3,215.6 L149.1,215.5 L148.8,215.4 L148.5,215.2 L148.3,215.0 L148.0,214.8 L147.7,214.6 L147.5,214.3 L147.3,214.0 L147.0,213.7 L146.8,213.4 L146.6,213.1 L146.4,212.8 L146.3,212.4 L146.1,212.1 L146.0,211.8 L145.9,211.4 L145.8,211.1 L145.8,210.7 L145.8,210.4 L145.8,210.1 L145.8,209.8 L145.8,209.5 L145.9,209.2 L146.0,209.0 L146.1,208.8 L146.2,208.6 L146.3,208.4 L146.5,208.2 L146.7,208.1 L156.2,202.6 L156.4,202.5 L156.7,202.4 L156.9,202.4 L157.1,202.4 L157.4,202.4 L157.6,202.5 L157.9,202.5 L158.2,202.6 L158.4,202.8 L158.7,202.9 L159.0,203.1 L159.2,203.3 L159.5,203.6 L159.7,203.8 L160.0,204.1 L160.2,204.4 L160.4,204.7 L160.6,205.0 L160.8,205.4 L161.0,205.7 L161.1,206.0 L161.2,206.4 L161.3,206.7 L161.4,207.1 L161.4,207.4 L161.5,207.7 L161.5,208.0 L161.5,208.3 L161.4,208.6 L161.4,208.9 L161.3,209.2 L161.2,209.4 L161.0,209.6 L160.9,209.8 L160.7,209.9 L160.5,210.1Z" fill="#f4f4f4" stroke="#1e1e1e" stroke-width="0.8" stroke-linejoin="round" />
<path d="M151.0,215.6 A4.3,2.6 60.0 1 0 146.7,208.1 A4.3,2.6 60.0 1 0 151.0,215.6Z" fill="#fff" stroke="#1e1e1e" stroke-width="0.9" stroke-linejoin="round" />
<path d="M149.9,213.6 A2.0,1.2 60.0 1 0 147.9,210.1 A2.0,1.2 60.0 1 0 149.9,213.6Z" fill="#fff" stroke="#1e1e1e" stroke-width="0.7" stroke-linejoin="round" />
<path d="M158.2,251.4 L157.3,251.8 L156.3,252.1 L155.3,252.3 L154.2,252.4 L153.0,252.3 L151.9,252.1 L150.6,251.7 L149.4,251.2 L148.2,250.6 L147.0,249.8 L145.8,249.0 L144.6,248.0 L143.4,246.9 L142.3,245.8 L141.2,244.5 L140.2,243.2 L139.2,241.8 L138.3,240.3 L137.5,238.9 L136.8,237.3 L136.2,235.8 L135.6,234.2 L135.2,232.7 L134.8,231.1 L134.6,229.6 L134.4,228.1 L134.4,226.7 L134.5,225.3 L134.7,224.0 L135.0,222.8 L135.4,221.7 L135.8,220.6 L136.4,219.7 L137.1,218.9 L137.9,218.2 L138.7,217.6 L148.2,212.1 L149.2,211.7 L150.2,211.4 L151.2,211.2 L152.3,211.1 L153.4,211.2 L154.6,211.4 L155.8,211.8 L157.0,212.3 L158.3,212.9 L159.5,213.7 L160.7,214.5 L161.9,215.5 L163.1,216.6 L164.2,217.7 L165.3,219.0 L166.3,220.3 L167.2,221.7 L168.1,223.2 L168.9,224.6 L169.7,226.2 L170.3,227.7 L170.9,229.3 L171.3,230.8 L171.7,232.4 L171.9,233.9 L172.0,235.4 L172.1,236.8 L172.0,238.2 L171.8,239.5 L171.5,240.7 L171.1,241.8 L170.6,242.9 L170.0,243.8 L169.4,244.6 L168.6,245.3 L167.8,245.9Z" fill="#f4f4f4" stroke="#1e1e1e" stroke-width="1.0" stroke-linejoin="round" />
<path d="M158.2,251.4 A19.5,11.7 60.0 1 0 138.7,217.6 A19.5,11.7 60.0 1 0 158.2,251.4ZM155.7,247.1 A14.5,8.7 60.0 1 0 141.2,221.9 A14.5,8.7 60.0 1 0 155.7,247.1Z" fill="#fff" stroke="#1e1e1e" stroke-width="1.1" stroke-linejoin="round" fill-rule="evenodd"/>
<path d="M157.0,249.2 A17.0,10.2 60.0 1 0 140.0,219.8 A17.0,10.2 60.0 1 0 157.0,249.2Z" fill="none" stroke="#1e1e1e" stroke-width="0.6" stroke-linejoin="round" />
<path d="M155.7,247.1 A14.5,8.7 60.0 1 0 141.2,221.9 A14.5,8.7 60.0 1 0 155.7,247.1Z" fill="#eaeaea" stroke="#1e1e1e" stroke-width="0" stroke-linejoin="round" />
<clipPath id="k3"><path d="M155.7,247.1 A14.5,8.7 60.0 1 0 141.2,221.9 A14.5,8.7 60.0 1 0 155.7,247.1Z"/></clipPath>
<path d="M164.4,242.1 A14.5,8.7 60.0 1 0 149.9,216.9 A14.5,8.7 60.0 1 0 164.4,242.1Z" fill="#fff" stroke="#1e1e1e" stroke-width="0.8" stroke-linejoin="round" clip-path="url(#k3)"/>
<path d="M159.6,243.7 A13.5,8.1 60.0 1 0 146.1,220.3 A13.5,8.1 60.0 1 0 159.6,243.7Z" fill="none" stroke="#1e1e1e" stroke-width="0.6" stroke-linejoin="round" />
<path d="M160.8,241.8 A12.5,7.5 60.0 1 0 148.3,220.2 A12.5,7.5 60.0 1 0 160.8,241.8Z" fill="none" stroke="#1e1e1e" stroke-width="0.6" stroke-linejoin="round" />
<path d="M133.6,217.4 L133.4,217.5 L133.2,217.5 L133.0,217.6 L132.8,217.6 L132.5,217.6 L132.2,217.5 L132.0,217.4 L131.7,217.3 L131.4,217.2 L131.2,217.0 L130.9,216.8 L130.6,216.6 L130.4,216.4 L130.1,216.1 L129.9,215.8 L129.7,215.5 L129.5,215.2 L129.3,214.9 L129.1,214.6 L128.9,214.3 L128.8,213.9 L128.7,213.6 L128.6,213.2 L128.5,212.9 L128.4,212.6 L128.4,212.2 L128.4,211.9 L128.4,211.6 L128.5,211.3 L128.5,211.1 L128.6,210.8 L128.7,210.6 L128.8,210.4 L129.0,210.2 L129.2,210.0 L129.3,209.9 L138.9,204.4 L139.1,204.3 L139.3,204.2 L139.5,204.2 L139.8,204.2 L140.0,204.2 L140.3,204.3 L140.5,204.3 L140.8,204.4 L141.1,204.6 L141.3,204.7 L141.6,204.9 L141.9,205.2 L142.1,205.4 L142.4,205.6 L142.6,205.9 L142.8,206.2 L143.1,206.5 L143.3,206.8 L143.4,207.2 L143.6,207.5 L143.7,207.8 L143.9,208.2 L144.0,208.5 L144.0,208.9 L144.1,209.2 L144.1,209.5 L144.1,209.9 L144.1,210.2 L144.1,210.4 L144.0,210.7 L143.9,211.0 L143.8,211.2 L143.7,211.4 L143.5,211.6 L143.4,211.7 L143.2,211.9Z" fill="#f4f4f4" stroke="#1e1e1e" stroke-width="0.8" stroke-linejoin="round" />
<path d="M133.6,217.4 A4.3,2.6 60.0 1 0 129.3,209.9 A4.3,2.6 60.0 1 0 133.6,217.4Z" fill="#fff" stroke="#1e1e1e" stroke-width="0.9" stroke-linejoin="round" />
<path d="M132.5,215.4 A2.0,1.2 60.0 1 0 130.5,211.9 A2.0,1.2 60.0 1 0 132.5,215.4Z" fill="#fff" stroke="#1e1e1e" stroke-width="0.7" stroke-linejoin="round" />
<path d="M133.3,240.0 L133.1,240.1 L132.8,240.2 L132.6,240.2 L132.4,240.2 L132.1,240.2 L131.9,240.2 L131.6,240.1 L131.3,240.0 L131.1,239.9 L130.8,239.7 L130.5,239.5 L130.3,239.3 L130.0,239.0 L129.7,238.8 L129.5,238.5 L129.3,238.2 L129.1,237.9 L128.9,237.6 L128.7,237.3 L128.5,236.9 L128.4,236.6 L128.3,236.2 L128.2,235.9 L128.1,235.6 L128.0,235.2 L128.0,234.9 L128.0,234.6 L128.0,234.3 L128.1,234.0 L128.1,233.7 L128.2,233.5 L128.3,233.2 L128.5,233.0 L128.6,232.9 L128.8,232.7 L129.0,232.6 L138.5,227.1 L138.7,227.0 L138.9,226.9 L139.1,226.9 L139.4,226.9 L139.6,226.9 L139.9,226.9 L140.2,227.0 L140.4,227.1 L140.7,227.3 L141.0,227.4 L141.2,227.6 L141.5,227.8 L141.8,228.1 L142.0,228.3 L142.2,228.6 L142.5,228.9 L142.7,229.2 L142.9,229.5 L143.1,229.8 L143.2,230.2 L143.4,230.5 L143.5,230.9 L143.6,231.2 L143.6,231.5 L143.7,231.9 L143.7,232.2 L143.7,232.5 L143.7,232.8 L143.7,233.1 L143.6,233.4 L143.5,233.6 L143.4,233.9 L143.3,234.1 L143.1,234.2 L143.0,234.4 L142.8,234.5Z" fill="#f4f4f4" stroke="#1e1e1e" stroke-width="0.8" stroke-linejoin="round" />
<path d="M133.3,240.0 A4.3,2.6 60.0 1 0 129.0,232.6 A4.3,2.6 60.0 1 0 133.3,240.0Z" fill="#fff" stroke="#1e1e1e" stroke-width="0.9" stroke-linejoin="round" />
<path d="M132.1,238.0 A2.0,1.2 60.0 1 0 130.1,234.6 A2.0,1.2 60.0 1 0 132.1,238.0Z" fill="#fff" stroke="#1e1e1e" stroke-width="0.7" stroke-linejoin="round" />
<path d="M150.2,260.9 L150.0,261.0 L149.8,261.1 L149.6,261.1 L149.3,261.1 L149.1,261.1 L148.8,261.0 L148.6,261.0 L148.3,260.9 L148.0,260.7 L147.8,260.6 L147.5,260.4 L147.2,260.2 L147.0,259.9 L146.7,259.7 L146.5,259.4 L146.3,259.1 L146.1,258.8 L145.9,258.5 L145.7,258.1 L145.5,257.8 L145.4,257.5 L145.3,257.1 L145.2,256.8 L145.1,256.4 L145.0,256.1 L145.0,255.8 L145.0,255.5 L145.0,255.2 L145.0,254.9 L145.1,254.6 L145.2,254.3 L145.3,254.1 L145.4,253.9 L145.6,253.7 L145.8,253.6 L145.9,253.4 L155.5,247.9 L155.7,247.9 L155.9,247.8 L156.1,247.7 L156.4,247.7 L156.6,247.8 L156.9,247.8 L157.1,247.9 L157.4,248.0 L157.7,248.1 L157.9,248.3 L158.2,248.5 L158.5,248.7 L158.7,248.9 L159.0,249.2 L159.2,249.5 L159.4,249.8 L159.7,250.1 L159.9,250.4 L160.0,250.7 L160.2,251.1 L160.3,251.4 L160.5,251.7 L160.6,252.1 L160.6,252.4 L160.7,252.8 L160.7,253.1 L160.7,253.4 L160.7,253.7 L160.7,254.0 L160.6,254.3 L160.5,254.5 L160.4,254.7 L160.3,254.9 L160.1,255.1 L160.0,255.3 L159.8,255.4Z" fill="#f4f4f4" stroke="#1e1e1e" stroke-width="0.8" stroke-linejoin="round" />
<path d="M150.2,260.9 A4.3,2.6 60.0 1 0 145.9,253.4 A4.3,2.6 60.0 1 0 150.2,260.9Z" fill="#fff" stroke="#1e1e1e" stroke-width="0.9" stroke-linejoin="round" />
<path d="M149.1,258.9 A2.0,1.2 60.0 1 0 147.1,255.4 A2.0,1.2 60.0 1 0 149.1,258.9Z" fill="#fff" stroke="#1e1e1e" stroke-width="0.7" stroke-linejoin="round" />
<line x1="140.9" y1="238.8" x2="156.0" y2="230.2" stroke="#333" stroke-width="0.7"/>
<path d="M140.8,280.7 L140.7,280.8 L140.6,280.8 L140.4,280.9 L140.2,280.9 L140.1,280.8 L139.9,280.8 L139.7,280.8 L139.5,280.7 L139.4,280.6 L139.2,280.5 L139.0,280.4 L138.8,280.2 L138.6,280.0 L138.5,279.9 L138.3,279.7 L138.2,279.5 L138.0,279.3 L137.9,279.1 L137.8,278.8 L137.7,278.6 L137.6,278.4 L137.5,278.2 L137.4,277.9 L137.4,277.7 L137.3,277.5 L137.3,277.3 L137.3,277.0 L137.3,276.8 L137.3,276.6 L137.4,276.5 L137.4,276.3 L137.5,276.1 L137.6,276.0 L137.7,275.9 L137.8,275.8 L137.9,275.7 L147.5,270.2 L147.6,270.1 L147.8,270.1 L147.9,270.0 L148.1,270.0 L148.2,270.1 L148.4,270.1 L148.6,270.1 L148.8,270.2 L149.0,270.3 L149.1,270.4 L149.3,270.5 L149.5,270.7 L149.7,270.9 L149.8,271.0 L150.0,271.2 L150.2,271.4 L150.3,271.6 L150.4,271.8 L150.5,272.1 L150.7,272.3 L150.8,272.5 L150.8,272.7 L150.9,273.0 L151.0,273.2 L151.0,273.4 L151.0,273.6 L151.0,273.9 L151.0,274.1 L151.0,274.3 L150.9,274.4 L150.9,274.6 L150.8,274.8 L150.7,274.9 L150.6,275.0 L150.5,275.1 L150.4,275.2Z" fill="#f6f6f6" stroke="#1e1e1e" stroke-width="1.0" stroke-linejoin="round" />
<path d="M140.8,280.7 A2.9,1.7 60.0 1 0 137.9,275.7 A2.9,1.7 60.0 1 0 140.8,280.7Z" fill="#fff" stroke="#1e1e1e" stroke-width="1.0" stroke-linejoin="round" />
<path d="M136.3,284.9 L136.1,285.0 L135.9,285.1 L135.7,285.1 L135.5,285.1 L135.2,285.1 L134.9,285.1 L134.7,285.0 L134.4,284.9 L134.1,284.7 L133.9,284.6 L133.6,284.4 L133.3,284.2 L133.1,283.9 L132.8,283.7 L132.6,283.4 L132.4,283.1 L132.2,282.8 L132.0,282.5 L131.8,282.2 L131.6,281.8 L131.5,281.5 L131.4,281.1 L131.3,280.8 L131.2,280.5 L131.1,280.1 L131.1,279.8 L131.1,279.5 L131.1,279.2 L131.2,278.9 L131.2,278.6 L131.3,278.4 L131.4,278.1 L131.5,277.9 L131.7,277.8 L131.9,277.6 L132.0,277.5 L137.7,274.2 L137.9,274.1 L138.1,274.1 L138.3,274.0 L138.6,274.0 L138.8,274.0 L139.1,274.1 L139.3,274.2 L139.6,274.3 L139.9,274.4 L140.2,274.6 L140.4,274.8 L140.7,275.0 L140.9,275.2 L141.2,275.5 L141.4,275.7 L141.7,276.0 L141.9,276.3 L142.1,276.7 L142.2,277.0 L142.4,277.3 L142.5,277.7 L142.7,278.0 L142.8,278.4 L142.8,278.7 L142.9,279.0 L142.9,279.4 L142.9,279.7 L142.9,280.0 L142.9,280.3 L142.8,280.5 L142.7,280.8 L142.6,281.0 L142.5,281.2 L142.3,281.4 L142.2,281.5 L142.0,281.7Z" fill="#f4f4f4" stroke="#1e1e1e" stroke-width="1.0" stroke-linejoin="round" />
<path d="M136.3,284.9 A4.3,2.6 60.0 1 0 132.0,277.5 A4.3,2.6 60.0 1 0 136.3,284.9Z" fill="#fff" stroke="#1e1e1e" stroke-width="1.0" stroke-linejoin="round" />
<path d="M135.3,283.1 A2.2,1.3 60.0 1 0 133.1,279.3 A2.2,1.3 60.0 1 0 135.3,283.1Z" fill="#ddd" stroke="#1e1e1e" stroke-width="0.8" stroke-linejoin="round" />
<path d="M127.2,267.3 L126.3,267.8 L125.4,268.1 L124.4,268.2 L123.3,268.3 L122.3,268.2 L121.2,268.0 L120.0,267.6 L118.9,267.2 L117.7,266.6 L116.6,265.9 L115.5,265.1 L114.3,264.2 L113.2,263.2 L112.2,262.1 L111.2,260.9 L110.2,259.7 L109.3,258.4 L108.5,257.0 L107.7,255.6 L107.0,254.2 L106.4,252.7 L105.9,251.2 L105.5,249.8 L105.2,248.3 L105.0,246.9 L104.8,245.5 L104.8,244.2 L104.9,242.9 L105.1,241.7 L105.3,240.5 L105.7,239.5 L106.1,238.5 L106.7,237.6 L107.3,236.8 L108.1,236.2 L108.8,235.7 L111.0,234.4 L111.9,234.0 L112.8,233.7 L113.8,233.5 L114.8,233.5 L115.9,233.6 L117.0,233.8 L118.1,234.1 L119.3,234.6 L120.4,235.2 L121.6,235.9 L122.7,236.7 L123.8,237.6 L124.9,238.6 L126.0,239.7 L127.0,240.8 L127.9,242.1 L128.8,243.4 L129.7,244.8 L130.4,246.2 L131.1,247.6 L131.7,249.0 L132.2,250.5 L132.7,252.0 L133.0,253.4 L133.2,254.8 L133.3,256.2 L133.4,257.6 L133.3,258.9 L133.1,260.1 L132.8,261.2 L132.5,262.3 L132.0,263.3 L131.5,264.1 L130.8,264.9 L130.1,265.6 L129.3,266.1ZM125.5,264.5 A15.0,9.0 60.0 1 0 110.5,238.5 A15.0,9.0 60.0 1 0 125.5,264.5Z" fill="#e8e8e8" stroke="none" stroke-width="0" stroke-linejoin="round" fill-rule="evenodd"/>
<polyline points="111.0,234.4 111.9,234.0 112.8,233.7 113.8,233.5 114.8,233.5 115.9,233.6 117.0,233.8 118.1,234.1 119.3,234.6 120.4,235.2 121.6,235.9 122.7,236.7 123.8,237.6 124.9,238.6 126.0,239.7 127.0,240.8 127.9,242.1 128.8,243.4 129.7,244.8 130.4,246.2 131.1,247.6 131.7,249.0 132.2,250.5 132.7,252.0 133.0,253.4 133.2,254.8 133.3,256.2 133.4,257.6 133.3,258.9 133.1,260.1 132.8,261.2 132.5,262.3 132.0,263.3 131.5,264.1 130.8,264.9 130.1,265.6 129.3,266.1" fill="none" stroke="#1e1e1e" stroke-width="1.0"/>
<line x1="127.2" y1="267.3" x2="129.3" y2="266.1" stroke="#1e1e1e" stroke-width="1.0"/>
<line x1="108.8" y1="235.7" x2="111.0" y2="234.4" stroke="#1e1e1e" stroke-width="1.0"/>
<path d="M127.2,267.3 A18.3,11.0 60.0 1 0 108.8,235.7 A18.3,11.0 60.0 1 0 127.2,267.3ZM125.5,264.5 A15.0,9.0 60.0 1 0 110.5,238.5 A15.0,9.0 60.0 1 0 125.5,264.5Z" fill="#fff" stroke="#1e1e1e" stroke-width="1.1" stroke-linejoin="round" fill-rule="evenodd"/>
<path d="M126.3,266.0 A16.7,10.0 60.0 1 0 109.7,237.0 A16.7,10.0 60.0 1 0 126.3,266.0Z" fill="none" stroke="#1e1e1e" stroke-width="0.6" stroke-linejoin="round" />
<polyline points="88.0,249.6 87.0,250.7 86.1,252.0 85.4,253.6 85.1,255.4 84.9,257.4 85.0,259.5 85.4,261.8 86.0,264.0 86.8,266.3 87.9,268.6 89.2,270.7 90.6,272.8 92.1,274.6 93.8,276.3 95.6,277.7 97.4,278.8 99.2,279.7 100.9,280.2 102.6,280.4 104.2,280.3 105.7,279.9 107.0,279.2 108.1,278.1 109.0,276.8 109.7,275.3 110.1,273.5 110.3,271.5 110.2,269.4 109.9,267.2 109.3,264.9 108.5,262.6 107.5,260.4 106.3,258.2 104.9,256.1 103.3,254.3 101.6,252.6 99.9,251.1 98.1,249.9 96.3,249.0 94.6,248.5" fill="none" stroke="#1e1e1e" stroke-width="2.0" stroke-linecap="round"/>
<polyline points="88.0,249.6 87.0,250.7 86.1,252.0 85.4,253.6 85.1,255.4 84.9,257.4 85.0,259.5 85.4,261.8 86.0,264.0 86.8,266.3 87.9,268.6 89.2,270.7 90.6,272.8 92.1,274.6 93.8,276.3 95.6,277.7 97.4,278.8 99.2,279.7 100.9,280.2 102.6,280.4 104.2,280.3 105.7,279.9 107.0,279.2 108.1,278.1 109.0,276.8 109.7,275.3 110.1,273.5 110.3,271.5 110.2,269.4 109.9,267.2 109.3,264.9 108.5,262.6 107.5,260.4 106.3,258.2 104.9,256.1 103.3,254.3 101.6,252.6 99.9,251.1 98.1,249.9 96.3,249.0 94.6,248.5" fill="none" stroke="#eee" stroke-width="0.6" stroke-linecap="round"/>
<polyline points="516.5,41.9 516.5,140.0" fill="none" stroke="#1e1e1e" stroke-width="0.8" stroke-linejoin="round"/>
<path d="M497.0,38 A19.5 12 0 0 0 536.0,38" fill="none" stroke="#1e1e1e" stroke-width="2.4" stroke-linejoin="round" />
<path d="M497.0,38 A19.5 12 0 0 0 536.0,38" fill="none" stroke="#bbb" stroke-width="0.7" stroke-linejoin="round" />
<path d="M494.1,18 L494.1,26.7 A22.4 12.4 0 0 0 538.9,26.7 L538.9,18 Z" fill="#fafafa" stroke="#1e1e1e" stroke-width="1.1" stroke-linejoin="round" />
<ellipse cx="516.5" cy="18" rx="22.4" ry="12.4" fill="#fff" stroke="#1e1e1e" stroke-width="1.1"/>
<ellipse cx="516.5" cy="17.7" rx="15.5" ry="9" fill="#fff" stroke="#1e1e1e" stroke-width="0.9"/>
<path d="M513.6,64 L513.6,77.5 A2.9 1.3 0 0 0 519.4,77.5 L519.4,64 Z" fill="#fff" stroke="#1e1e1e" stroke-width="1" stroke-linejoin="round" />
<path d="M512.1,60.5 L512.1,64.5 A4.4 2 0 0 0 520.9,64.5 L520.9,60.5 Z" fill="#fff" stroke="#1e1e1e" stroke-width="1" stroke-linejoin="round" />
<ellipse cx="516.5" cy="60.5" rx="4.4" ry="2.1" fill="#fff" stroke="#1e1e1e" stroke-width="1"/>
<ellipse cx="516.5" cy="60.5" rx="2" ry="1" fill="#777"/>
<ellipse cx="516.5" cy="87.7" rx="5.3" ry="3.2" fill="#ccc" stroke="#1e1e1e" stroke-width="1.1"/>
<ellipse cx="516.5" cy="87.5" rx="2.2" ry="1.2" fill="#fff" stroke="#1e1e1e" stroke-width="0.8"/>
<path d="M512.1,105 L512.1,111.5 A4.4 1.8 0 0 0 520.9,111.5 L520.9,105 Z" fill="#f4f4f4" stroke="#1e1e1e" stroke-width="1" stroke-linejoin="round" />
<polyline points="512.1,107.5 520.9,107.5" fill="none" stroke="#1e1e1e" stroke-width="0.7" stroke-linejoin="round"/>
<path d="M510.2,101.5 L510.2,103.5 A6.3 2.8 0 0 0 522.8,103.5 L522.8,101.5 Z" fill="#eee" stroke="#1e1e1e" stroke-width="1" stroke-linejoin="round" />
<ellipse cx="516.5" cy="101.5" rx="6.3" ry="2.8" fill="#fff" stroke="#1e1e1e" stroke-width="1"/>
<ellipse cx="516.5" cy="101.5" rx="2.8" ry="1.3" fill="#fff" stroke="#1e1e1e" stroke-width="0.8"/>
<ellipse cx="516.5" cy="126.9" rx="5.3" ry="3.2" fill="#ccc" stroke="#1e1e1e" stroke-width="1.1"/>
<ellipse cx="516.5" cy="126.7" rx="2.2" ry="1.2" fill="#fff" stroke="#1e1e1e" stroke-width="0.8"/>
<path d="M525.5,168 L525.5,176 A6 2.5 0 0 0 536.5,175 L536.5,166 Z" fill="#eee" stroke="#1e1e1e" stroke-width="1" stroke-linejoin="round" />
<path d="M502.5,168 L512.5,176 L525.5,173 L526.5,168 Z" fill="#eee" stroke="#1e1e1e" stroke-width="0.9" stroke-linejoin="round" />
<path d="M505.5,168 L501.9,182 L509.1,182 L509.1,168 Z" fill="#f4f4f4" stroke="#1e1e1e" stroke-width="1" stroke-linejoin="round" />
<path d="M500,185 L500,187 A6.3 3 0 0 0 512.6,187 L512.6,185 Z" fill="#eee" stroke="#1e1e1e" stroke-width="1" stroke-linejoin="round" />
<ellipse cx="506.3" cy="185" rx="6.3" ry="3" fill="#fff" stroke="#1e1e1e" stroke-width="1"/>
<path d="M498.5,143 L498.5,166.5 A18 6.8 0 0 0 534.5,166.5 L534.5,143 Z" fill="#f8f8f8" stroke="#1e1e1e" stroke-width="1.1" stroke-linejoin="round" />
<path d="M498.5,160.5 A18 6.8 0 0 0 534.5,160.5" fill="none" stroke="#1e1e1e" stroke-width="1.5" stroke-linejoin="round" />
<ellipse cx="516.5" cy="143" rx="18" ry="10.4" fill="#fff" stroke="#1e1e1e" stroke-width="1.1"/>
<polyline points="516.5,130.0 516.5,147.0" fill="none" stroke="#1e1e1e" stroke-width="0.8" stroke-linejoin="round"/>
<ellipse cx="526.5" cy="184.6" rx="5.2" ry="3.5" fill="#ccc" stroke="#1e1e1e" stroke-width="1.1"/>
<ellipse cx="526.5" cy="184.29999999999998" rx="2.2" ry="1.4" fill="#fff" stroke="#1e1e1e" stroke-width="0.8"/>
<line x1="528.8" y1="185.4" x2="530.7" y2="186.2" stroke="#fff" stroke-width="0.9"/>
<line x1="526.5" y1="186.3" x2="526.5" y2="187.7" stroke="#fff" stroke-width="0.9"/>
<line x1="524.2" y1="185.4" x2="522.3" y2="186.2" stroke="#fff" stroke-width="0.9"/>
<line x1="524.2" y1="183.8" x2="522.3" y2="183.0" stroke="#fff" stroke-width="0.9"/>
<line x1="526.5" y1="182.9" x2="526.5" y2="181.5" stroke="#fff" stroke-width="0.9"/>
<line x1="528.8" y1="183.8" x2="530.7" y2="183.0" stroke="#fff" stroke-width="0.9"/>
<ellipse cx="506.4" cy="195.5" rx="5.2" ry="3.5" fill="#ccc" stroke="#1e1e1e" stroke-width="1.1"/>
<ellipse cx="506.4" cy="195.2" rx="2.2" ry="1.4" fill="#fff" stroke="#1e1e1e" stroke-width="0.8"/>
<line x1="508.7" y1="196.3" x2="510.6" y2="197.1" stroke="#fff" stroke-width="0.9"/>
<line x1="506.4" y1="197.2" x2="506.4" y2="198.6" stroke="#fff" stroke-width="0.9"/>
<line x1="504.1" y1="196.3" x2="502.2" y2="197.1" stroke="#fff" stroke-width="0.9"/>
<line x1="504.1" y1="194.7" x2="502.2" y2="193.9" stroke="#fff" stroke-width="0.9"/>
<line x1="506.4" y1="193.8" x2="506.4" y2="192.4" stroke="#fff" stroke-width="0.9"/>
<line x1="508.7" y1="194.7" x2="510.6" y2="193.9" stroke="#fff" stroke-width="0.9"/>
<polyline points="360.2,374.2 440.0,328.0" fill="none" stroke="#333" stroke-width="0.7" stroke-linejoin="round"/>
<path d="M438.9,357.1 L437.7,357.7 L436.5,358.1 L435.1,358.3 L433.8,358.4 L432.3,358.2 L430.8,357.9 L429.3,357.5 L427.8,356.9 L426.3,356.1 L424.7,355.2 L423.2,354.1 L421.7,352.9 L420.2,351.5 L418.8,350.1 L417.5,348.5 L416.2,346.8 L415.0,345.1 L413.9,343.2 L412.9,341.4 L411.9,339.5 L411.1,337.5 L410.4,335.5 L409.9,333.6 L409.5,331.7 L409.1,329.8 L409.0,327.9 L408.9,326.1 L409.0,324.4 L409.3,322.7 L409.6,321.2 L410.1,319.8 L410.7,318.5 L411.5,317.3 L412.3,316.3 L413.3,315.4 L414.4,314.7 L423.0,309.7 L424.2,309.1 L425.4,308.7 L426.7,308.5 L428.1,308.4 L429.5,308.6 L431.0,308.8 L432.5,309.3 L434.1,309.9 L435.6,310.7 L437.1,311.6 L438.7,312.7 L440.2,313.9 L441.6,315.3 L443.0,316.7 L444.4,318.3 L445.7,320.0 L446.9,321.7 L448.0,323.5 L449.0,325.4 L449.9,327.3 L450.7,329.3 L451.4,331.3 L452.0,333.2 L452.4,335.1 L452.7,337.0 L452.9,338.9 L452.9,340.7 L452.8,342.4 L452.6,344.1 L452.2,345.6 L451.7,347.0 L451.1,348.3 L450.4,349.5 L449.5,350.5 L448.6,351.4 L447.5,352.1Z" fill="#ececec" stroke="#1e1e1e" stroke-width="1.0" stroke-linejoin="round" />
<path d="M438.9,357.1 A24.5,14.7 60.0 1 0 414.4,314.7 A24.5,14.7 60.0 1 0 438.9,357.1ZM436.6,353.2 A20.0,12.0 60.0 1 0 416.6,318.6 A20.0,12.0 60.0 1 0 436.6,353.2Z" fill="#fff" stroke="#1e1e1e" stroke-width="1.1" stroke-linejoin="round" fill-rule="evenodd"/>
<path d="M437.8,355.2 A22.3,13.4 60.0 1 0 415.5,316.6 A22.3,13.4 60.0 1 0 437.8,355.2Z" fill="none" stroke="#1e1e1e" stroke-width="0.6" stroke-linejoin="round" />
<path d="M436.6,353.2 A20.0,12.0 60.0 1 0 416.6,318.6 A20.0,12.0 60.0 1 0 436.6,353.2ZM434.9,347.3 A14.0,8.4 60.0 1 0 420.9,323.0 A14.0,8.4 60.0 1 0 434.9,347.3Z" fill="#f0f0f0" stroke="#1e1e1e" stroke-width="0.8" stroke-linejoin="round" fill-rule="evenodd"/>
<circle cx="437.8" cy="348.8" r="2.6" fill="#fff" stroke="#1e1e1e" stroke-width="0.8"/>
<circle cx="440.0" cy="339.4" r="2.6" fill="#fff" stroke="#1e1e1e" stroke-width="0.8"/>
<circle cx="435.1" cy="327.6" r="2.6" fill="#fff" stroke="#1e1e1e" stroke-width="0.8"/>
<circle cx="426.0" cy="320.2" r="2.6" fill="#fff" stroke="#1e1e1e" stroke-width="0.8"/>
<circle cx="418.0" cy="321.5" r="2.6" fill="#fff" stroke="#1e1e1e" stroke-width="0.8"/>
<circle cx="415.8" cy="330.9" r="2.6" fill="#fff" stroke="#1e1e1e" stroke-width="0.8"/>
<circle cx="420.7" cy="342.7" r="2.6" fill="#fff" stroke="#1e1e1e" stroke-width="0.8"/>
<circle cx="429.8" cy="350.1" r="2.6" fill="#fff" stroke="#1e1e1e" stroke-width="0.8"/>
<path d="M434.0,347.8 A14.0,8.4 60.0 1 0 420.0,323.5 A14.0,8.4 60.0 1 0 434.0,347.8ZM432.5,345.2 A11.0,6.6 60.0 1 0 421.5,326.1 A11.0,6.6 60.0 1 0 432.5,345.2Z" fill="#fff" stroke="#1e1e1e" stroke-width="1" stroke-linejoin="round" fill-rule="evenodd"/>
<path d="M432.5,345.2 A11.0,6.6 60.0 1 0 421.5,326.1 A11.0,6.6 60.0 1 0 432.5,345.2Z" fill="#e8e8e8" stroke="#1e1e1e" stroke-width="0" stroke-linejoin="round" />
<clipPath id="k4"><path d="M432.5,345.2 A11.0,6.6 60.0 1 0 421.5,326.1 A11.0,6.6 60.0 1 0 432.5,345.2Z"/></clipPath>
<path d="M441.2,340.2 A11.0,6.6 60.0 1 0 430.2,321.1 A11.0,6.6 60.0 1 0 441.2,340.2Z" fill="#fff" stroke="#1e1e1e" stroke-width="0.8" stroke-linejoin="round" clip-path="url(#k4)"/>
<line x1="421.3" y1="338.9" x2="432.7" y2="332.3" stroke="#333" stroke-width="0.7"/>
<path d="M408.8,361.2 L408.1,361.5 L407.4,361.7 L406.7,361.8 L405.9,361.9 L405.2,361.8 L404.3,361.6 L403.5,361.4 L402.7,361.1 L401.8,360.6 L401.0,360.1 L400.1,359.5 L399.3,358.9 L398.5,358.1 L397.7,357.3 L397.0,356.4 L396.3,355.5 L395.6,354.6 L395.0,353.6 L394.4,352.5 L393.9,351.5 L393.5,350.4 L393.1,349.3 L392.8,348.2 L392.6,347.2 L392.4,346.1 L392.3,345.1 L392.3,344.1 L392.3,343.1 L392.4,342.2 L392.6,341.4 L392.9,340.6 L393.3,339.9 L393.7,339.3 L394.1,338.7 L394.7,338.2 L395.2,337.8 L398.7,335.8 L399.4,335.5 L400.0,335.3 L400.8,335.2 L401.5,335.1 L402.3,335.2 L403.1,335.4 L404.0,335.6 L404.8,335.9 L405.7,336.4 L406.5,336.9 L407.3,337.5 L408.2,338.1 L409.0,338.9 L409.7,339.7 L410.5,340.6 L411.2,341.5 L411.9,342.4 L412.5,343.4 L413.0,344.5 L413.5,345.5 L414.0,346.6 L414.4,347.7 L414.7,348.8 L414.9,349.8 L415.1,350.9 L415.2,351.9 L415.2,352.9 L415.1,353.9 L415.0,354.8 L414.8,355.6 L414.5,356.4 L414.2,357.1 L413.8,357.7 L413.3,358.3 L412.8,358.8 L412.2,359.2ZM406.2,356.9 A8.5,5.1 60.0 1 0 397.8,342.1 A8.5,5.1 60.0 1 0 406.2,356.9Z" fill="#e6e6e6" stroke="none" stroke-width="0" stroke-linejoin="round" fill-rule="evenodd"/>
<polyline points="398.7,335.8 399.4,335.5 400.0,335.3 400.8,335.2 401.5,335.1 402.3,335.2 403.1,335.4 404.0,335.6 404.8,335.9 405.7,336.4 406.5,336.9 407.3,337.5 408.2,338.1 409.0,338.9 409.7,339.7 410.5,340.6 411.2,341.5 411.9,342.4 412.5,343.4 413.0,344.5 413.5,345.5 414.0,346.6 414.4,347.7 414.7,348.8 414.9,349.8 415.1,350.9 415.2,351.9 415.2,352.9 415.1,353.9 415.0,354.8 414.8,355.6 414.5,356.4 414.2,357.1 413.8,357.7 413.3,358.3 412.8,358.8 412.2,359.2" fill="none" stroke="#1e1e1e" stroke-width="1.0"/>
<line x1="408.8" y1="361.2" x2="412.2" y2="359.2" stroke="#1e1e1e" stroke-width="1.0"/>
<line x1="395.2" y1="337.8" x2="398.7" y2="335.8" stroke="#1e1e1e" stroke-width="1.0"/>
<path d="M408.8,361.2 A13.5,8.1 60.0 1 0 395.2,337.8 A13.5,8.1 60.0 1 0 408.8,361.2ZM406.2,356.9 A8.5,5.1 60.0 1 0 397.8,342.1 A8.5,5.1 60.0 1 0 406.2,356.9Z" fill="#fff" stroke="#1e1e1e" stroke-width="1.1" stroke-linejoin="round" fill-rule="evenodd"/>
<path d="M407.9,359.7 A11.8,7.1 60.0 1 0 396.1,339.3 A11.8,7.1 60.0 1 0 407.9,359.7Z" fill="none" stroke="#1e1e1e" stroke-width="0.6" stroke-linejoin="round" />
<path d="M406.2,356.9 A8.5,5.1 60.0 1 0 397.8,342.1 A8.5,5.1 60.0 1 0 406.2,356.9Z" fill="#e2e2e2" stroke="#1e1e1e" stroke-width="0" stroke-linejoin="round" />
<clipPath id="k5"><path d="M406.2,356.9 A8.5,5.1 60.0 1 0 397.8,342.1 A8.5,5.1 60.0 1 0 406.2,356.9Z"/></clipPath>
<path d="M409.7,354.9 A8.5,5.1 60.0 1 0 401.2,340.1 A8.5,5.1 60.0 1 0 409.7,354.9Z" fill="#fff" stroke="#1e1e1e" stroke-width="0.8" stroke-linejoin="round" clip-path="url(#k5)"/>
<line x1="397.6" y1="352.1" x2="406.4" y2="346.9" stroke="#333" stroke-width="0.7"/>
<path d="M389.9,386.8 L388.6,387.3 L387.3,387.8 L386.0,388.0 L384.5,388.1 L383.0,387.9 L381.5,387.6 L379.9,387.2 L378.3,386.5 L376.6,385.7 L375.0,384.7 L373.4,383.6 L371.9,382.3 L370.3,380.9 L368.8,379.4 L367.4,377.7 L366.1,376.0 L364.8,374.1 L363.6,372.2 L362.6,370.2 L361.6,368.2 L360.8,366.2 L360.1,364.1 L359.5,362.1 L359.0,360.0 L358.7,358.0 L358.5,356.1 L358.5,354.2 L358.6,352.4 L358.8,350.7 L359.2,349.1 L359.7,347.6 L360.4,346.2 L361.1,345.0 L362.0,343.9 L363.0,343.0 L364.1,342.2 L365.9,341.2 L367.1,340.7 L368.4,340.2 L369.8,340.0 L371.2,339.9 L372.7,340.1 L374.3,340.4 L375.9,340.8 L377.5,341.5 L379.1,342.3 L380.7,343.3 L382.3,344.4 L383.9,345.7 L385.4,347.1 L386.9,348.6 L388.3,350.3 L389.7,352.0 L390.9,353.9 L392.1,355.8 L393.2,357.8 L394.1,359.8 L395.0,361.8 L395.7,363.9 L396.3,365.9 L396.7,368.0 L397.0,370.0 L397.2,371.9 L397.3,373.8 L397.2,375.6 L396.9,377.3 L396.5,378.9 L396.0,380.4 L395.4,381.8 L394.6,383.0 L393.7,384.1 L392.7,385.0 L391.6,385.8ZM381.2,371.9 A8.5,5.1 60.0 1 0 372.8,357.1 A8.5,5.1 60.0 1 0 381.2,371.9Z" fill="#eee" stroke="none" stroke-width="0" stroke-linejoin="round" fill-rule="evenodd"/>
<polyline points="365.9,341.2 367.1,340.7 368.4,340.2 369.8,340.0 371.2,339.9 372.7,340.1 374.3,340.4 375.9,340.8 377.5,341.5 379.1,342.3 380.7,343.3 382.3,344.4 383.9,345.7 385.4,347.1 386.9,348.6 388.3,350.3 389.7,352.0 390.9,353.9 392.1,355.8 393.2,357.8 394.1,359.8 395.0,361.8 395.7,363.9 396.3,365.9 396.7,368.0 397.0,370.0 397.2,371.9 397.3,373.8 397.2,375.6 396.9,377.3 396.5,378.9 396.0,380.4 395.4,381.8 394.6,383.0 393.7,384.1 392.7,385.0 391.6,385.8" fill="none" stroke="#1e1e1e" stroke-width="1.0"/>
<line x1="389.9" y1="386.8" x2="391.6" y2="385.8" stroke="#1e1e1e" stroke-width="1.0"/>
<line x1="364.1" y1="342.2" x2="365.9" y2="341.2" stroke="#1e1e1e" stroke-width="1.0"/>
<path d="M389.9,386.8 A25.7,15.4 60.0 1 0 364.1,342.2 A25.7,15.4 60.0 1 0 389.9,386.8ZM381.2,371.9 A8.5,5.1 60.0 1 0 372.8,357.1 A8.5,5.1 60.0 1 0 381.2,371.9Z" fill="#fff" stroke="#1e1e1e" stroke-width="1.1" stroke-linejoin="round" fill-rule="evenodd"/>
<line x1="372.6" y1="367.1" x2="381.4" y2="361.9" stroke="#333" stroke-width="0.7"/>
<path d="M324.5,300.5 L338.5,292" stroke="#1e1e1e" stroke-width="6" stroke-linecap="round"/>
<path d="M324.5,300.5 L338.5,292" stroke="#f2f2f2" stroke-width="4" stroke-linecap="round"/>
<path d="M323.5,299 L337.5,290.5" stroke="#1e1e1e" stroke-width="0.7"/>
<path d="M323.7,333.6 L323.3,333.8 L323.0,333.9 L322.6,334.0 L322.1,334.0 L321.7,333.9 L321.2,333.9 L320.8,333.7 L320.3,333.5 L319.8,333.3 L319.4,333.0 L318.9,332.7 L318.4,332.3 L318.0,331.9 L317.6,331.4 L317.1,331.0 L316.7,330.4 L316.4,329.9 L316.0,329.4 L315.7,328.8 L315.4,328.2 L315.2,327.6 L315.0,327.0 L314.8,326.4 L314.7,325.8 L314.6,325.2 L314.5,324.6 L314.5,324.1 L314.6,323.6 L314.6,323.1 L314.7,322.6 L314.9,322.2 L315.1,321.8 L315.3,321.4 L315.6,321.1 L315.9,320.8 L316.2,320.6 L335.8,309.3 L336.1,309.1 L336.5,309.0 L336.9,308.9 L337.3,308.9 L337.8,309.0 L338.2,309.1 L338.7,309.2 L339.1,309.4 L339.6,309.6 L340.1,309.9 L340.6,310.2 L341.0,310.6 L341.5,311.0 L341.9,311.5 L342.3,311.9 L342.7,312.5 L343.1,313.0 L343.4,313.6 L343.7,314.1 L344.0,314.7 L344.2,315.3 L344.5,315.9 L344.6,316.5 L344.8,317.1 L344.9,317.7 L344.9,318.3 L344.9,318.8 L344.9,319.3 L344.8,319.8 L344.7,320.3 L344.6,320.7 L344.4,321.1 L344.1,321.5 L343.9,321.8 L343.6,322.1 L343.3,322.3Z" fill="#f6f6f6" stroke="#1e1e1e" stroke-width="1.0" stroke-linejoin="round" />
<path d="M343.3,322.3 A7.5,4.5 60.0 1 0 335.8,309.3 A7.5,4.5 60.0 1 0 343.3,322.3Z" fill="#fff" stroke="#1e1e1e" stroke-width="1" stroke-linejoin="round" />
<path d="M325.1,320.1 L335.5,314.1" stroke="#1e1e1e" stroke-width="2.6" stroke-linecap="round"/>
<path d="M325.1,320.1 L335.5,314.1" stroke="#ccc" stroke-width="1.0" stroke-linecap="round"/>
<path d="M302.4,347.4 L302.0,347.6 L301.6,347.7 L301.1,347.8 L300.6,347.8 L300.1,347.8 L299.6,347.7 L299.0,347.5 L298.5,347.3 L297.9,347.0 L297.4,346.7 L296.8,346.3 L296.3,345.8 L295.7,345.4 L295.2,344.8 L294.7,344.3 L294.3,343.7 L293.9,343.0 L293.5,342.4 L293.1,341.7 L292.8,341.0 L292.5,340.3 L292.2,339.6 L292.0,338.9 L291.9,338.2 L291.8,337.5 L291.7,336.9 L291.7,336.2 L291.7,335.6 L291.8,335.0 L291.9,334.5 L292.1,334.0 L292.3,333.5 L292.6,333.1 L292.9,332.7 L293.2,332.4 L293.6,332.1 L315.5,319.5 L316.0,319.3 L316.4,319.1 L316.9,319.1 L317.4,319.0 L317.9,319.1 L318.4,319.2 L319.0,319.3 L319.5,319.6 L320.1,319.8 L320.6,320.2 L321.2,320.6 L321.7,321.0 L322.2,321.5 L322.7,322.0 L323.2,322.6 L323.7,323.2 L324.1,323.8 L324.5,324.5 L324.9,325.1 L325.2,325.8 L325.5,326.5 L325.7,327.2 L325.9,327.9 L326.1,328.6 L326.2,329.3 L326.3,330.0 L326.3,330.6 L326.2,331.2 L326.2,331.8 L326.0,332.4 L325.9,332.9 L325.6,333.4 L325.4,333.8 L325.1,334.1 L324.7,334.5 L324.3,334.7Z" fill="#f6f6f6" stroke="#1e1e1e" stroke-width="1.0" stroke-linejoin="round" />
<path d="M279.2,365.2 L278.6,365.4 L278.0,365.7 L277.3,365.8 L276.6,365.8 L275.9,365.7 L275.1,365.6 L274.3,365.4 L273.5,365.0 L272.7,364.6 L271.9,364.2 L271.2,363.6 L270.4,363.0 L269.6,362.3 L268.9,361.5 L268.2,360.7 L267.6,359.9 L266.9,359.0 L266.4,358.0 L265.8,357.1 L265.4,356.1 L265.0,355.1 L264.6,354.1 L264.3,353.1 L264.1,352.1 L263.9,351.1 L263.8,350.1 L263.8,349.2 L263.9,348.3 L264.0,347.5 L264.2,346.7 L264.4,346.0 L264.8,345.3 L265.1,344.7 L265.6,344.2 L266.1,343.7 L266.6,343.3 L291.7,328.8 L292.3,328.6 L293.0,328.3 L293.6,328.2 L294.3,328.2 L295.1,328.3 L295.8,328.4 L296.6,328.6 L297.4,329.0 L298.2,329.4 L299.0,329.8 L299.8,330.4 L300.5,331.0 L301.3,331.7 L302.0,332.5 L302.7,333.3 L303.4,334.1 L304.0,335.0 L304.6,336.0 L305.1,336.9 L305.6,337.9 L306.0,338.9 L306.3,339.9 L306.6,340.9 L306.8,341.9 L307.0,342.9 L307.1,343.9 L307.1,344.8 L307.1,345.7 L306.9,346.5 L306.8,347.3 L306.5,348.0 L306.2,348.7 L305.8,349.3 L305.4,349.8 L304.9,350.3 L304.3,350.7Z" fill="#f8f8f8" stroke="#1e1e1e" stroke-width="1.0" stroke-linejoin="round" />
<path d="M279.2,365.2 A12.6,7.6 60.0 1 0 266.6,343.3 A12.6,7.6 60.0 1 0 279.2,365.2Z" fill="#fff" stroke="#1e1e1e" stroke-width="1" stroke-linejoin="round" />
<path d="M238.2,383.5 L237.8,383.7 L237.4,383.8 L237.0,383.9 L236.5,383.9 L236.1,383.9 L235.6,383.8 L235.1,383.7 L234.6,383.5 L234.1,383.2 L233.6,382.9 L233.1,382.5 L232.6,382.1 L232.1,381.7 L231.7,381.2 L231.2,380.7 L230.8,380.2 L230.4,379.6 L230.0,379.0 L229.7,378.4 L229.4,377.8 L229.1,377.1 L228.9,376.5 L228.7,375.8 L228.6,375.2 L228.5,374.6 L228.4,374.0 L228.4,373.4 L228.5,372.8 L228.5,372.3 L228.7,371.8 L228.8,371.3 L229.0,370.9 L229.3,370.5 L229.5,370.2 L229.9,369.9 L230.2,369.7 L268.9,347.3 L269.3,347.1 L269.7,347.0 L270.1,346.9 L270.6,346.9 L271.0,347.0 L271.5,347.1 L272.0,347.2 L272.5,347.4 L273.0,347.7 L273.5,348.0 L274.0,348.3 L274.5,348.7 L275.0,349.1 L275.4,349.6 L275.9,350.1 L276.3,350.7 L276.7,351.3 L277.1,351.9 L277.4,352.5 L277.7,353.1 L278.0,353.7 L278.2,354.4 L278.4,355.0 L278.5,355.6 L278.6,356.3 L278.7,356.9 L278.7,357.5 L278.6,358.0 L278.6,358.5 L278.5,359.1 L278.3,359.5 L278.1,359.9 L277.9,360.3 L277.6,360.7 L277.3,360.9 L276.9,361.2Z" fill="#f6f6f6" stroke="#1e1e1e" stroke-width="1.0" stroke-linejoin="round" />
<line x1="234.4" y1="369.0" x2="255.2" y2="357.0" stroke="#1e1e1e" stroke-width="0.6"/>
<line x1="235.9" y1="371.6" x2="256.7" y2="359.6" stroke="#1e1e1e" stroke-width="0.6"/>
<line x1="237.9" y1="375.0" x2="258.7" y2="363.0" stroke="#1e1e1e" stroke-width="0.6"/>
<line x1="239.9" y1="378.5" x2="260.7" y2="366.5" stroke="#1e1e1e" stroke-width="0.6"/>
<line x1="241.2" y1="380.7" x2="261.9" y2="368.7" stroke="#1e1e1e" stroke-width="0.6"/>
<line x1="238.6" y1="368.3" x2="254.2" y2="359.3" stroke="#555" stroke-width="1.5"/>
<line x1="242.4" y1="374.8" x2="258.0" y2="365.8" stroke="#555" stroke-width="1.5"/>
<line x1="244.1" y1="377.8" x2="259.7" y2="368.8" stroke="#555" stroke-width="1.5"/>
<path d="M238.1,383.4 A7.8,4.7 60.0 1 0 230.3,369.8 A7.8,4.7 60.0 1 0 238.1,383.4Z" fill="#fff" stroke="#1e1e1e" stroke-width="1.1" stroke-linejoin="round" />
<polyline points="240.8,382.0 241.1,381.8 241.4,381.6 241.7,381.3 241.9,380.9 242.1,380.6 242.2,380.2 242.4,379.8 242.5,379.3 242.5,378.8 242.6,378.3 242.6,377.8 242.5,377.2 242.4,376.7 242.3,376.1 242.2,375.5 242.0,375.0 241.8,374.4 241.5,373.8 241.3,373.3 241.0,372.7 240.6,372.2 240.3,371.6 239.9,371.1 239.5,370.7 239.1,370.2 238.7,369.8 238.3,369.4 237.8,369.1 237.4,368.8 236.9,368.5 236.5,368.3 236.0,368.1 235.6,367.9 235.1,367.8 234.7,367.8 234.3,367.8 233.9,367.8 233.5,367.9 233.1,368.0 232.8,368.2" fill="none" stroke="#1e1e1e" stroke-width="0.7" stroke-linecap="round"/>
<polyline points="40.0,560.0 125.0,510.5" fill="none" stroke="#333" stroke-width="0.7" stroke-linejoin="round"/>
<polyline points="125.0,510.5 250.0,438.0" fill="none" stroke="#333" stroke-width="0.7" stroke-linejoin="round"/>
<path d="M389.8,443.1 L388.5,443.7 L387.3,444.1 L385.9,444.3 L384.4,444.4 L383.0,444.2 L381.4,443.9 L379.8,443.5 L378.3,442.8 L376.6,442.0 L375.0,441.1 L373.5,439.9 L371.9,438.7 L370.4,437.3 L368.9,435.7 L367.5,434.1 L366.2,432.4 L364.9,430.5 L363.7,428.6 L362.7,426.7 L361.7,424.7 L360.9,422.7 L360.2,420.6 L359.6,418.6 L359.1,416.6 L358.8,414.6 L358.7,412.7 L358.6,410.8 L358.7,409.0 L359.0,407.3 L359.3,405.7 L359.8,404.2 L360.5,402.9 L361.3,401.6 L362.1,400.6 L363.1,399.7 L364.2,398.9 L367.7,396.9 L368.9,396.3 L370.2,395.9 L371.6,395.7 L373.0,395.6 L374.5,395.8 L376.0,396.1 L377.6,396.5 L379.2,397.2 L380.8,398.0 L382.4,398.9 L384.0,400.1 L385.6,401.3 L387.1,402.7 L388.6,404.3 L390.0,405.9 L391.3,407.6 L392.6,409.5 L393.7,411.4 L394.8,413.3 L395.7,415.3 L396.6,417.3 L397.3,419.4 L397.9,421.4 L398.3,423.4 L398.6,425.4 L398.8,427.3 L398.8,429.2 L398.7,431.0 L398.5,432.7 L398.1,434.3 L397.6,435.8 L397.0,437.1 L396.2,438.4 L395.3,439.4 L394.3,440.3 L393.2,441.1ZM387.5,439.2 A21.0,12.6 60.0 1 0 366.5,402.8 A21.0,12.6 60.0 1 0 387.5,439.2Z" fill="#ececec" stroke="none" stroke-width="0" stroke-linejoin="round" fill-rule="evenodd"/>
<polyline points="367.7,396.9 368.9,396.3 370.2,395.9 371.6,395.7 373.0,395.6 374.5,395.8 376.0,396.1 377.6,396.5 379.2,397.2 380.8,398.0 382.4,398.9 384.0,400.1 385.6,401.3 387.1,402.7 388.6,404.3 390.0,405.9 391.3,407.6 392.6,409.5 393.7,411.4 394.8,413.3 395.7,415.3 396.6,417.3 397.3,419.4 397.9,421.4 398.3,423.4 398.6,425.4 398.8,427.3 398.8,429.2 398.7,431.0 398.5,432.7 398.1,434.3 397.6,435.8 397.0,437.1 396.2,438.4 395.3,439.4 394.3,440.3 393.2,441.1" fill="none" stroke="#1e1e1e" stroke-width="1.0"/>
<line x1="389.8" y1="443.1" x2="393.2" y2="441.1" stroke="#1e1e1e" stroke-width="1.0"/>
<line x1="364.2" y1="398.9" x2="367.7" y2="396.9" stroke="#1e1e1e" stroke-width="1.0"/>
<path d="M389.8,443.1 A25.5,15.3 60.0 1 0 364.2,398.9 A25.5,15.3 60.0 1 0 389.8,443.1ZM387.5,439.2 A21.0,12.6 60.0 1 0 366.5,402.8 A21.0,12.6 60.0 1 0 387.5,439.2Z" fill="#fff" stroke="#1e1e1e" stroke-width="1.1" stroke-linejoin="round" fill-rule="evenodd"/>
<path d="M388.9,440.7 A23.0,13.8 60.0 1 0 365.9,400.8 A23.0,13.8 60.0 1 0 388.9,440.7Z" fill="none" stroke="#1e1e1e" stroke-width="0.6" stroke-linejoin="round" />
<path d="M349.3,455.1 L348.6,455.5 L347.8,455.7 L346.9,455.9 L346.1,455.9 L345.1,455.8 L344.2,455.6 L343.2,455.4 L342.3,455.0 L341.3,454.5 L340.3,453.9 L339.3,453.2 L338.4,452.4 L337.4,451.6 L336.6,450.6 L335.7,449.6 L334.9,448.6 L334.1,447.4 L333.4,446.3 L332.7,445.1 L332.2,443.9 L331.7,442.6 L331.2,441.4 L330.9,440.1 L330.6,438.9 L330.4,437.7 L330.3,436.5 L330.3,435.4 L330.3,434.3 L330.5,433.2 L330.7,432.2 L331.0,431.3 L331.4,430.5 L331.9,429.8 L332.4,429.1 L333.0,428.5 L333.7,428.1 L344.5,421.8 L345.3,421.5 L346.1,421.2 L346.9,421.1 L347.8,421.1 L348.7,421.1 L349.6,421.3 L350.6,421.6 L351.6,422.0 L352.5,422.5 L353.5,423.1 L354.5,423.8 L355.4,424.5 L356.4,425.4 L357.3,426.3 L358.1,427.3 L359.0,428.4 L359.7,429.5 L360.4,430.7 L361.1,431.9 L361.7,433.1 L362.2,434.3 L362.6,435.6 L363.0,436.8 L363.2,438.1 L363.4,439.3 L363.5,440.4 L363.6,441.6 L363.5,442.7 L363.4,443.7 L363.1,444.7 L362.8,445.6 L362.4,446.4 L362.0,447.2 L361.4,447.8 L360.8,448.4 L360.1,448.9ZM348.0,452.9 A13.0,7.8 60.0 1 0 335.0,430.3 A13.0,7.8 60.0 1 0 348.0,452.9Z" fill="#f4f4f4" stroke="none" stroke-width="0" stroke-linejoin="round" fill-rule="evenodd"/>
<polyline points="344.5,421.8 345.3,421.5 346.1,421.2 346.9,421.1 347.8,421.1 348.7,421.1 349.6,421.3 350.6,421.6 351.6,422.0 352.5,422.5 353.5,423.1 354.5,423.8 355.4,424.5 356.4,425.4 357.3,426.3 358.1,427.3 359.0,428.4 359.7,429.5 360.4,430.7 361.1,431.9 361.7,433.1 362.2,434.3 362.6,435.6 363.0,436.8 363.2,438.1 363.4,439.3 363.5,440.4 363.6,441.6 363.5,442.7 363.4,443.7 363.1,444.7 362.8,445.6 362.4,446.4 362.0,447.2 361.4,447.8 360.8,448.4 360.1,448.9" fill="none" stroke="#1e1e1e" stroke-width="1.0"/>
<line x1="349.3" y1="455.1" x2="360.1" y2="448.9" stroke="#1e1e1e" stroke-width="1.0"/>
<line x1="333.7" y1="428.1" x2="344.5" y2="421.8" stroke="#1e1e1e" stroke-width="1.0"/>
<path d="M349.3,455.1 A15.6,9.4 60.0 1 0 333.7,428.1 A15.6,9.4 60.0 1 0 349.3,455.1ZM348.0,452.9 A13.0,7.8 60.0 1 0 335.0,430.3 A13.0,7.8 60.0 1 0 348.0,452.9Z" fill="#fff" stroke="#1e1e1e" stroke-width="1.1" stroke-linejoin="round" fill-rule="evenodd"/>
<polyline points="353.2,452.9 353.8,452.5 354.4,452.0 354.9,451.4 355.3,450.8 355.7,450.0 356.0,449.3 356.3,448.4 356.5,447.5 356.6,446.6 356.6,445.6 356.6,444.6 356.5,443.5 356.4,442.4 356.2,441.3 355.9,440.2 355.5,439.1 355.1,438.0 354.6,436.8 354.1,435.7 353.5,434.7 352.9,433.6 352.2,432.6 351.5,431.6 350.7,430.7 349.9,429.9 349.1,429.0 348.2,428.3 347.4,427.6 346.5,427.0 345.6,426.5 344.7,426.0 343.9,425.7 343.0,425.4 342.1,425.2 341.3,425.1 340.5,425.1 339.7,425.1 339.0,425.3 338.3,425.5 337.6,425.8" fill="none" stroke="#1e1e1e" stroke-width="0.8" stroke-linecap="round"/>
<path d="M348.0,452.9 A13.0,7.8 60.0 1 0 335.0,430.3 A13.0,7.8 60.0 1 0 348.0,452.9Z" fill="#5e5e5e" stroke="#1e1e1e" stroke-width="1.0" stroke-linejoin="round" />
<clipPath id="k6"><path d="M348.0,452.9 A13.0,7.8 60.0 1 0 335.0,430.3 A13.0,7.8 60.0 1 0 348.0,452.9Z"/></clipPath>
<g clip-path="url(#k6)">
<line x1="347.7" y1="452.3" x2="358.5" y2="446.1" stroke="#aaa" stroke-width="0.7"/>
<line x1="348.9" y1="451.3" x2="359.7" y2="445.1" stroke="#aaa" stroke-width="0.7"/>
<line x1="349.8" y1="449.9" x2="360.6" y2="443.6" stroke="#aaa" stroke-width="0.7"/>
<line x1="350.3" y1="448.1" x2="361.1" y2="441.9" stroke="#aaa" stroke-width="0.7"/>
<line x1="350.4" y1="446.0" x2="361.3" y2="439.8" stroke="#aaa" stroke-width="0.7"/>
<line x1="350.2" y1="443.7" x2="361.0" y2="437.5" stroke="#aaa" stroke-width="0.7"/>
<line x1="349.5" y1="441.4" x2="360.4" y2="435.1" stroke="#aaa" stroke-width="0.7"/>
<line x1="348.6" y1="439.0" x2="359.4" y2="432.8" stroke="#aaa" stroke-width="0.7"/>
<line x1="347.3" y1="436.8" x2="358.1" y2="430.5" stroke="#aaa" stroke-width="0.7"/>
<line x1="345.7" y1="434.7" x2="356.5" y2="428.5" stroke="#aaa" stroke-width="0.7"/>
<line x1="344.0" y1="433.0" x2="354.8" y2="426.8" stroke="#aaa" stroke-width="0.7"/>
<line x1="342.1" y1="431.6" x2="353.0" y2="425.4" stroke="#aaa" stroke-width="0.7"/>
<line x1="340.3" y1="430.7" x2="351.1" y2="424.5" stroke="#aaa" stroke-width="0.7"/>
<line x1="338.5" y1="430.3" x2="349.3" y2="424.0" stroke="#aaa" stroke-width="0.7"/>
<line x1="336.8" y1="430.3" x2="347.6" y2="424.1" stroke="#aaa" stroke-width="0.7"/>
<line x1="335.3" y1="430.9" x2="346.1" y2="424.6" stroke="#aaa" stroke-width="0.7"/>
<line x1="334.1" y1="431.9" x2="344.9" y2="425.6" stroke="#aaa" stroke-width="0.7"/>
<line x1="333.2" y1="433.3" x2="344.0" y2="427.1" stroke="#aaa" stroke-width="0.7"/>
<line x1="332.7" y1="435.1" x2="343.5" y2="428.8" stroke="#aaa" stroke-width="0.7"/>
<line x1="332.6" y1="437.2" x2="343.4" y2="430.9" stroke="#aaa" stroke-width="0.7"/>
<line x1="332.8" y1="439.5" x2="343.6" y2="433.2" stroke="#aaa" stroke-width="0.7"/>
<line x1="333.5" y1="441.8" x2="344.3" y2="435.6" stroke="#aaa" stroke-width="0.7"/>
<line x1="334.4" y1="444.2" x2="345.3" y2="437.9" stroke="#aaa" stroke-width="0.7"/>
<line x1="335.7" y1="446.4" x2="346.6" y2="440.2" stroke="#aaa" stroke-width="0.7"/>
<line x1="337.3" y1="448.5" x2="348.1" y2="442.2" stroke="#aaa" stroke-width="0.7"/>
<line x1="339.0" y1="450.2" x2="349.8" y2="443.9" stroke="#aaa" stroke-width="0.7"/>
<line x1="340.9" y1="451.6" x2="351.7" y2="445.3" stroke="#aaa" stroke-width="0.7"/>
<line x1="342.7" y1="452.5" x2="353.6" y2="446.2" stroke="#aaa" stroke-width="0.7"/>
<line x1="344.5" y1="452.9" x2="355.4" y2="446.7" stroke="#aaa" stroke-width="0.7"/>
<line x1="346.2" y1="452.9" x2="357.1" y2="446.6" stroke="#aaa" stroke-width="0.7"/>
<path d="M358.8,446.6 A13.0,7.8 60.0 1 0 345.8,424.1 A13.0,7.8 60.0 1 0 358.8,446.6Z" fill="#fff" stroke="#1e1e1e" stroke-width="0.8" stroke-linejoin="round" />
</g>
<path d="M320.2,471.5 L319.5,471.9 L318.7,472.1 L317.8,472.3 L317.0,472.3 L316.0,472.2 L315.1,472.0 L314.1,471.8 L313.2,471.4 L312.2,470.9 L311.2,470.3 L310.2,469.6 L309.3,468.8 L308.3,468.0 L307.5,467.0 L306.6,466.0 L305.8,465.0 L305.0,463.8 L304.3,462.7 L303.6,461.5 L303.1,460.3 L302.6,459.0 L302.1,457.8 L301.8,456.5 L301.5,455.3 L301.3,454.1 L301.2,452.9 L301.2,451.8 L301.2,450.7 L301.4,449.6 L301.6,448.6 L301.9,447.7 L302.3,446.9 L302.8,446.2 L303.3,445.5 L303.9,444.9 L304.6,444.5 L315.4,438.2 L316.2,437.9 L317.0,437.6 L317.8,437.5 L318.7,437.5 L319.6,437.5 L320.5,437.7 L321.5,438.0 L322.5,438.4 L323.4,438.9 L324.4,439.5 L325.4,440.2 L326.3,440.9 L327.3,441.8 L328.2,442.7 L329.0,443.7 L329.9,444.8 L330.6,445.9 L331.3,447.1 L332.0,448.3 L332.6,449.5 L333.1,450.7 L333.5,452.0 L333.9,453.2 L334.1,454.5 L334.3,455.7 L334.4,456.8 L334.5,458.0 L334.4,459.1 L334.3,460.1 L334.0,461.1 L333.7,462.0 L333.3,462.8 L332.9,463.6 L332.3,464.2 L331.7,464.8 L331.0,465.3ZM318.9,469.3 A13.0,7.8 60.0 1 0 305.9,446.7 A13.0,7.8 60.0 1 0 318.9,469.3Z" fill="#f4f4f4" stroke="none" stroke-width="0" stroke-linejoin="round" fill-rule="evenodd"/>
<polyline points="315.4,438.2 316.2,437.9 317.0,437.6 317.8,437.5 318.7,437.5 319.6,437.5 320.5,437.7 321.5,438.0 322.5,438.4 323.4,438.9 324.4,439.5 325.4,440.2 326.3,440.9 327.3,441.8 328.2,442.7 329.0,443.7 329.9,444.8 330.6,445.9 331.3,447.1 332.0,448.3 332.6,449.5 333.1,450.7 333.5,452.0 333.9,453.2 334.1,454.5 334.3,455.7 334.4,456.8 334.5,458.0 334.4,459.1 334.3,460.1 334.0,461.1 333.7,462.0 333.3,462.8 332.9,463.6 332.3,464.2 331.7,464.8 331.0,465.3" fill="none" stroke="#1e1e1e" stroke-width="1.0"/>
<line x1="320.2" y1="471.5" x2="331.0" y2="465.3" stroke="#1e1e1e" stroke-width="1.0"/>
<line x1="304.6" y1="444.5" x2="315.4" y2="438.2" stroke="#1e1e1e" stroke-width="1.0"/>
<path d="M320.2,471.5 A15.6,9.4 60.0 1 0 304.6,444.5 A15.6,9.4 60.0 1 0 320.2,471.5ZM318.9,469.3 A13.0,7.8 60.0 1 0 305.9,446.7 A13.0,7.8 60.0 1 0 318.9,469.3Z" fill="#fff" stroke="#1e1e1e" stroke-width="1.1" stroke-linejoin="round" fill-rule="evenodd"/>
<polyline points="324.1,469.3 324.7,468.9 325.3,468.4 325.8,467.8 326.2,467.2 326.6,466.4 326.9,465.7 327.2,464.8 327.4,463.9 327.5,463.0 327.5,462.0 327.5,461.0 327.4,459.9 327.3,458.8 327.1,457.7 326.8,456.6 326.4,455.5 326.0,454.4 325.5,453.2 325.0,452.1 324.4,451.1 323.8,450.0 323.1,449.0 322.4,448.0 321.6,447.1 320.8,446.3 320.0,445.4 319.1,444.7 318.3,444.0 317.4,443.4 316.5,442.9 315.6,442.4 314.8,442.1 313.9,441.8 313.0,441.6 312.2,441.5 311.4,441.5 310.6,441.5 309.9,441.7 309.2,441.9 308.5,442.2" fill="none" stroke="#1e1e1e" stroke-width="0.8" stroke-linecap="round"/>
<path d="M318.9,469.3 A13.0,7.8 60.0 1 0 305.9,446.7 A13.0,7.8 60.0 1 0 318.9,469.3Z" fill="#5e5e5e" stroke="#1e1e1e" stroke-width="1.0" stroke-linejoin="round" />
<clipPath id="k7"><path d="M318.9,469.3 A13.0,7.8 60.0 1 0 305.9,446.7 A13.0,7.8 60.0 1 0 318.9,469.3Z"/></clipPath>
<g clip-path="url(#k7)">
<line x1="318.6" y1="468.7" x2="329.4" y2="462.5" stroke="#aaa" stroke-width="0.7"/>
<line x1="319.8" y1="467.7" x2="330.6" y2="461.5" stroke="#aaa" stroke-width="0.7"/>
<line x1="320.7" y1="466.3" x2="331.5" y2="460.0" stroke="#aaa" stroke-width="0.7"/>
<line x1="321.2" y1="464.5" x2="332.0" y2="458.3" stroke="#aaa" stroke-width="0.7"/>
<line x1="321.3" y1="462.4" x2="332.2" y2="456.2" stroke="#aaa" stroke-width="0.7"/>
<line x1="321.1" y1="460.1" x2="331.9" y2="453.9" stroke="#aaa" stroke-width="0.7"/>
<line x1="320.4" y1="457.8" x2="331.3" y2="451.5" stroke="#aaa" stroke-width="0.7"/>
<line x1="319.5" y1="455.4" x2="330.3" y2="449.2" stroke="#aaa" stroke-width="0.7"/>
<line x1="318.2" y1="453.2" x2="329.0" y2="446.9" stroke="#aaa" stroke-width="0.7"/>
<line x1="316.6" y1="451.1" x2="327.4" y2="444.9" stroke="#aaa" stroke-width="0.7"/>
<line x1="314.9" y1="449.4" x2="325.7" y2="443.2" stroke="#aaa" stroke-width="0.7"/>
<line x1="313.0" y1="448.0" x2="323.9" y2="441.8" stroke="#aaa" stroke-width="0.7"/>
<line x1="311.2" y1="447.1" x2="322.0" y2="440.9" stroke="#aaa" stroke-width="0.7"/>
<line x1="309.4" y1="446.7" x2="320.2" y2="440.4" stroke="#aaa" stroke-width="0.7"/>
<line x1="307.7" y1="446.7" x2="318.5" y2="440.5" stroke="#aaa" stroke-width="0.7"/>
<line x1="306.2" y1="447.3" x2="317.0" y2="441.0" stroke="#aaa" stroke-width="0.7"/>
<line x1="305.0" y1="448.3" x2="315.8" y2="442.0" stroke="#aaa" stroke-width="0.7"/>
<line x1="304.1" y1="449.7" x2="314.9" y2="443.5" stroke="#aaa" stroke-width="0.7"/>
<line x1="303.6" y1="451.5" x2="314.4" y2="445.2" stroke="#aaa" stroke-width="0.7"/>
<line x1="303.5" y1="453.6" x2="314.3" y2="447.3" stroke="#aaa" stroke-width="0.7"/>
<line x1="303.7" y1="455.9" x2="314.5" y2="449.6" stroke="#aaa" stroke-width="0.7"/>
<line x1="304.4" y1="458.2" x2="315.2" y2="452.0" stroke="#aaa" stroke-width="0.7"/>
<line x1="305.3" y1="460.6" x2="316.2" y2="454.3" stroke="#aaa" stroke-width="0.7"/>
<line x1="306.6" y1="462.8" x2="317.5" y2="456.6" stroke="#aaa" stroke-width="0.7"/>
<line x1="308.2" y1="464.9" x2="319.0" y2="458.6" stroke="#aaa" stroke-width="0.7"/>
<line x1="309.9" y1="466.6" x2="320.7" y2="460.3" stroke="#aaa" stroke-width="0.7"/>
<line x1="311.8" y1="468.0" x2="322.6" y2="461.7" stroke="#aaa" stroke-width="0.7"/>
<line x1="313.6" y1="468.9" x2="324.5" y2="462.6" stroke="#aaa" stroke-width="0.7"/>
<line x1="315.4" y1="469.3" x2="326.3" y2="463.1" stroke="#aaa" stroke-width="0.7"/>
<line x1="317.1" y1="469.3" x2="328.0" y2="463.0" stroke="#aaa" stroke-width="0.7"/>
<path d="M329.7,463.0 A13.0,7.8 60.0 1 0 316.7,440.5 A13.0,7.8 60.0 1 0 329.7,463.0Z" fill="#fff" stroke="#1e1e1e" stroke-width="0.8" stroke-linejoin="round" />
</g>
<path d="M320.5,406.4 L320.1,406.6 L319.7,406.7 L319.2,406.8 L318.8,406.8 L318.3,406.7 L317.8,406.6 L317.2,406.5 L316.7,406.3 L316.2,406.0 L315.6,405.7 L315.1,405.3 L314.6,404.9 L314.1,404.4 L313.6,403.9 L313.1,403.4 L312.7,402.8 L312.3,402.2 L311.9,401.6 L311.5,400.9 L311.2,400.2 L310.9,399.6 L310.7,398.9 L310.5,398.2 L310.3,397.5 L310.2,396.9 L310.2,396.2 L310.2,395.6 L310.2,395.0 L310.3,394.4 L310.4,393.9 L310.6,393.4 L310.8,393.0 L311.0,392.5 L311.3,392.2 L311.7,391.9 L312.0,391.6 L350.1,369.6 L350.5,369.4 L351.0,369.3 L351.4,369.2 L351.9,369.2 L352.4,369.3 L352.9,369.4 L353.4,369.5 L354.0,369.7 L354.5,370.0 L355.0,370.3 L355.6,370.7 L356.1,371.1 L356.6,371.6 L357.1,372.1 L357.6,372.6 L358.0,373.2 L358.4,373.8 L358.8,374.4 L359.2,375.1 L359.5,375.8 L359.8,376.4 L360.0,377.1 L360.2,377.8 L360.3,378.5 L360.4,379.1 L360.5,379.8 L360.5,380.4 L360.5,381.0 L360.4,381.6 L360.3,382.1 L360.1,382.6 L359.9,383.0 L359.6,383.5 L359.3,383.8 L359.0,384.1 L358.6,384.4Z" fill="#f6f6f6" stroke="#1e1e1e" stroke-width="1.0" stroke-linejoin="round" />
<path d="M358.6,384.4 A8.5,5.1 60.0 1 0 350.1,369.6 A8.5,5.1 60.0 1 0 358.6,384.4Z" fill="#fff" stroke="#1e1e1e" stroke-width="1" stroke-linejoin="round" />
<line x1="331.5" y1="383.3" x2="350.5" y2="372.3" stroke="#1e1e1e" stroke-width="0.6"/>
<line x1="333.0" y1="385.9" x2="352.0" y2="374.9" stroke="#1e1e1e" stroke-width="0.6"/>
<line x1="335.0" y1="389.4" x2="354.0" y2="378.4" stroke="#1e1e1e" stroke-width="0.6"/>
<line x1="336.7" y1="392.4" x2="355.8" y2="381.4" stroke="#1e1e1e" stroke-width="0.6"/>
<line x1="338.0" y1="394.6" x2="357.0" y2="383.6" stroke="#1e1e1e" stroke-width="0.6"/>
<line x1="335.7" y1="382.6" x2="349.5" y2="374.6" stroke="#555" stroke-width="1.4"/>
<line x1="339.4" y1="389.1" x2="353.3" y2="381.1" stroke="#555" stroke-width="1.4"/>
<line x1="340.9" y1="391.7" x2="354.8" y2="383.7" stroke="#555" stroke-width="1.4"/>
<path d="M298.6,424.4 L298.0,424.7 L297.3,424.9 L296.6,425.1 L295.9,425.1 L295.1,425.0 L294.3,424.9 L293.5,424.6 L292.7,424.3 L291.9,423.9 L291.0,423.4 L290.2,422.8 L289.4,422.1 L288.6,421.4 L287.8,420.6 L287.1,419.8 L286.4,418.9 L285.8,417.9 L285.2,417.0 L284.6,415.9 L284.1,414.9 L283.7,413.9 L283.3,412.8 L283.0,411.8 L282.8,410.7 L282.6,409.7 L282.5,408.7 L282.5,407.7 L282.6,406.8 L282.7,405.9 L282.9,405.1 L283.2,404.3 L283.5,403.6 L283.9,403.0 L284.3,402.4 L284.9,402.0 L285.4,401.6 L309.7,387.6 L310.3,387.3 L311.0,387.1 L311.7,386.9 L312.4,386.9 L313.2,387.0 L314.0,387.1 L314.8,387.4 L315.6,387.7 L316.5,388.1 L317.3,388.6 L318.1,389.2 L318.9,389.9 L319.7,390.6 L320.5,391.4 L321.2,392.2 L321.9,393.1 L322.5,394.1 L323.1,395.0 L323.7,396.1 L324.2,397.1 L324.6,398.1 L325.0,399.2 L325.3,400.2 L325.5,401.3 L325.7,402.3 L325.8,403.3 L325.8,404.3 L325.7,405.2 L325.6,406.1 L325.4,406.9 L325.2,407.7 L324.8,408.4 L324.4,409.0 L324.0,409.6 L323.5,410.0 L322.9,410.4Z" fill="#f8f8f8" stroke="#1e1e1e" stroke-width="1.0" stroke-linejoin="round" />
<path d="M298.6,424.4 A13.2,7.9 60.0 1 0 285.4,401.6 A13.2,7.9 60.0 1 0 298.6,424.4Z" fill="#fff" stroke="#1e1e1e" stroke-width="1" stroke-linejoin="round" />
<path d="M251.5,446.8 L251.1,447.0 L250.6,447.1 L250.1,447.2 L249.6,447.2 L249.1,447.2 L248.6,447.1 L248.0,446.9 L247.4,446.7 L246.9,446.4 L246.3,446.1 L245.8,445.7 L245.2,445.2 L244.7,444.7 L244.1,444.2 L243.6,443.6 L243.2,443.0 L242.7,442.4 L242.3,441.7 L241.9,441.0 L241.6,440.3 L241.3,439.6 L241.1,438.9 L240.9,438.2 L240.7,437.4 L240.6,436.7 L240.5,436.1 L240.5,435.4 L240.5,434.8 L240.6,434.2 L240.8,433.6 L240.9,433.1 L241.2,432.6 L241.4,432.2 L241.8,431.8 L242.1,431.5 L242.5,431.2 L287.5,405.2 L288.0,405.0 L288.4,404.9 L288.9,404.8 L289.4,404.8 L289.9,404.8 L290.5,404.9 L291.0,405.1 L291.6,405.3 L292.2,405.6 L292.7,405.9 L293.3,406.3 L293.8,406.8 L294.4,407.3 L294.9,407.8 L295.4,408.4 L295.9,409.0 L296.3,409.6 L296.7,410.3 L297.1,411.0 L297.4,411.7 L297.7,412.4 L298.0,413.1 L298.2,413.8 L298.3,414.6 L298.4,415.3 L298.5,415.9 L298.5,416.6 L298.5,417.2 L298.4,417.8 L298.3,418.4 L298.1,418.9 L297.9,419.4 L297.6,419.8 L297.3,420.2 L296.9,420.5 L296.5,420.8Z" fill="#f6f6f6" stroke="#1e1e1e" stroke-width="1.0" stroke-linejoin="round" />
<line x1="247.2" y1="431.4" x2="269.7" y2="418.4" stroke="#1e1e1e" stroke-width="0.6"/>
<line x1="248.7" y1="434.0" x2="271.2" y2="421.0" stroke="#1e1e1e" stroke-width="0.6"/>
<line x1="250.7" y1="437.4" x2="273.2" y2="424.4" stroke="#1e1e1e" stroke-width="0.6"/>
<line x1="252.7" y1="440.9" x2="275.2" y2="427.9" stroke="#1e1e1e" stroke-width="0.6"/>
<line x1="254.0" y1="443.1" x2="276.5" y2="430.1" stroke="#1e1e1e" stroke-width="0.6"/>
<line x1="251.4" y1="430.7" x2="268.7" y2="420.7" stroke="#555" stroke-width="1.5"/>
<line x1="255.2" y1="437.2" x2="272.5" y2="427.2" stroke="#555" stroke-width="1.5"/>
<line x1="256.9" y1="440.2" x2="274.2" y2="430.2" stroke="#555" stroke-width="1.5"/>
<path d="M251.5,446.8 A9.0,5.4 60.0 1 0 242.5,431.2 A9.0,5.4 60.0 1 0 251.5,446.8Z" fill="#fff" stroke="#1e1e1e" stroke-width="1.1" stroke-linejoin="round" />
<polyline points="254.1,445.3 254.5,445.1 254.8,444.8 255.1,444.4 255.3,444.1 255.5,443.7 255.7,443.2 255.9,442.7 256.0,442.2 256.1,441.7 256.1,441.1 256.1,440.5 256.0,439.9 255.9,439.3 255.8,438.6 255.6,438.0 255.4,437.3 255.2,436.7 254.9,436.1 254.6,435.4 254.3,434.8 253.9,434.2 253.5,433.6 253.1,433.1 252.7,432.5 252.2,432.0 251.7,431.6 251.2,431.1 250.7,430.7 250.2,430.4 249.7,430.1 249.2,429.8 248.7,429.6 248.2,429.4 247.7,429.3 247.2,429.3 246.8,429.3 246.3,429.3 245.9,429.4 245.5,429.5 245.1,429.7" fill="none" stroke="#1e1e1e" stroke-width="0.7" stroke-linecap="round"/>
<path d="M299.8,495.1 L298.5,495.7 L297.3,496.1 L295.9,496.3 L294.4,496.4 L293.0,496.2 L291.4,495.9 L289.8,495.5 L288.3,494.8 L286.6,494.0 L285.0,493.1 L283.5,491.9 L281.9,490.7 L280.4,489.3 L278.9,487.7 L277.5,486.1 L276.2,484.4 L274.9,482.5 L273.7,480.6 L272.7,478.7 L271.7,476.7 L270.9,474.7 L270.2,472.6 L269.6,470.6 L269.1,468.6 L268.8,466.6 L268.7,464.7 L268.6,462.8 L268.7,461.0 L269.0,459.3 L269.3,457.7 L269.8,456.2 L270.5,454.9 L271.3,453.6 L272.1,452.6 L273.1,451.7 L274.2,450.9 L277.7,448.9 L278.9,448.3 L280.2,447.9 L281.6,447.7 L283.0,447.6 L284.5,447.8 L286.0,448.1 L287.6,448.5 L289.2,449.2 L290.8,450.0 L292.4,450.9 L294.0,452.1 L295.6,453.3 L297.1,454.7 L298.6,456.3 L300.0,457.9 L301.3,459.6 L302.6,461.5 L303.7,463.4 L304.8,465.3 L305.7,467.3 L306.6,469.3 L307.3,471.4 L307.9,473.4 L308.3,475.4 L308.6,477.4 L308.8,479.3 L308.8,481.2 L308.7,483.0 L308.5,484.7 L308.1,486.3 L307.6,487.8 L307.0,489.1 L306.2,490.4 L305.3,491.4 L304.3,492.3 L303.2,493.1ZM297.5,491.2 A21.0,12.6 60.0 1 0 276.5,454.8 A21.0,12.6 60.0 1 0 297.5,491.2Z" fill="#ececec" stroke="none" stroke-width="0" stroke-linejoin="round" fill-rule="evenodd"/>
<polyline points="277.7,448.9 278.9,448.3 280.2,447.9 281.6,447.7 283.0,447.6 284.5,447.8 286.0,448.1 287.6,448.5 289.2,449.2 290.8,450.0 292.4,450.9 294.0,452.1 295.6,453.3 297.1,454.7 298.6,456.3 300.0,457.9 301.3,459.6 302.6,461.5 303.7,463.4 304.8,465.3 305.7,467.3 306.6,469.3 307.3,471.4 307.9,473.4 308.3,475.4 308.6,477.4 308.8,479.3 308.8,481.2 308.7,483.0 308.5,484.7 308.1,486.3 307.6,487.8 307.0,489.1 306.2,490.4 305.3,491.4 304.3,492.3 303.2,493.1" fill="none" stroke="#1e1e1e" stroke-width="1.0"/>
<line x1="299.8" y1="495.1" x2="303.2" y2="493.1" stroke="#1e1e1e" stroke-width="1.0"/>
<line x1="274.2" y1="450.9" x2="277.7" y2="448.9" stroke="#1e1e1e" stroke-width="1.0"/>
<path d="M299.8,495.1 A25.5,15.3 60.0 1 0 274.2,450.9 A25.5,15.3 60.0 1 0 299.8,495.1ZM297.5,491.2 A21.0,12.6 60.0 1 0 276.5,454.8 A21.0,12.6 60.0 1 0 297.5,491.2Z" fill="#fff" stroke="#1e1e1e" stroke-width="1.1" stroke-linejoin="round" fill-rule="evenodd"/>
<path d="M298.9,492.7 A23.0,13.8 60.0 1 0 275.9,452.8 A23.0,13.8 60.0 1 0 298.9,492.7Z" fill="none" stroke="#1e1e1e" stroke-width="0.6" stroke-linejoin="round" />
<path d="M233.5,474.8 L232.4,475.3 L231.2,475.7 L229.9,475.9 L228.5,476.0 L227.1,475.9 L225.7,475.6 L224.2,475.2 L222.7,474.6 L221.2,473.8 L219.7,472.9 L218.2,471.8 L216.7,470.6 L215.3,469.3 L213.9,467.9 L212.6,466.3 L211.3,464.7 L210.1,463.0 L209.0,461.2 L208.0,459.4 L207.1,457.5 L206.3,455.6 L205.7,453.7 L205.1,451.7 L204.7,449.8 L204.4,448.0 L204.2,446.2 L204.2,444.4 L204.3,442.7 L204.5,441.1 L204.9,439.6 L205.4,438.2 L206.0,436.9 L206.7,435.8 L207.5,434.8 L208.5,433.9 L209.5,433.2 L211.7,432.0 L212.8,431.4 L214.0,431.0 L215.3,430.8 L216.7,430.8 L218.1,430.9 L219.5,431.1 L221.0,431.6 L222.5,432.2 L224.0,433.0 L225.5,433.9 L227.0,434.9 L228.5,436.1 L229.9,437.4 L231.3,438.9 L232.6,440.4 L233.9,442.1 L235.0,443.8 L236.1,445.6 L237.1,447.4 L238.0,449.3 L238.8,451.2 L239.5,453.1 L240.0,455.0 L240.5,456.9 L240.8,458.8 L240.9,460.6 L241.0,462.4 L240.9,464.0 L240.6,465.6 L240.3,467.1 L239.8,468.5 L239.2,469.8 L238.5,471.0 L237.6,472.0 L236.7,472.8 L235.7,473.5ZM226.8,463.1 A10.5,6.3 60.0 1 0 216.2,444.9 A10.5,6.3 60.0 1 0 226.8,463.1Z" fill="#eee" stroke="none" stroke-width="0" stroke-linejoin="round" fill-rule="evenodd"/>
<polyline points="211.7,432.0 212.8,431.4 214.0,431.0 215.3,430.8 216.7,430.8 218.1,430.9 219.5,431.1 221.0,431.6 222.5,432.2 224.0,433.0 225.5,433.9 227.0,434.9 228.5,436.1 229.9,437.4 231.3,438.9 232.6,440.4 233.9,442.1 235.0,443.8 236.1,445.6 237.1,447.4 238.0,449.3 238.8,451.2 239.5,453.1 240.0,455.0 240.5,456.9 240.8,458.8 240.9,460.6 241.0,462.4 240.9,464.0 240.6,465.6 240.3,467.1 239.8,468.5 239.2,469.8 238.5,471.0 237.6,472.0 236.7,472.8 235.7,473.5" fill="none" stroke="#1e1e1e" stroke-width="1.0"/>
<line x1="233.5" y1="474.8" x2="235.7" y2="473.5" stroke="#1e1e1e" stroke-width="1.0"/>
<line x1="209.5" y1="433.2" x2="211.7" y2="432.0" stroke="#1e1e1e" stroke-width="1.0"/>
<path d="M233.5,474.8 A24.0,14.4 60.0 1 0 209.5,433.2 A24.0,14.4 60.0 1 0 233.5,474.8ZM226.8,463.1 A10.5,6.3 60.0 1 0 216.2,444.9 A10.5,6.3 60.0 1 0 226.8,463.1Z" fill="#fff" stroke="#1e1e1e" stroke-width="1.1" stroke-linejoin="round" fill-rule="evenodd"/>
<path d="M227.3,465.1 A12.5,7.5 60.0 1 0 214.8,443.4 A12.5,7.5 60.0 1 0 227.3,465.1Z" fill="none" stroke="#1e1e1e" stroke-width="0.6" stroke-linejoin="round" />
<line x1="216.0" y1="457.1" x2="227.0" y2="450.9" stroke="#333" stroke-width="0.7"/>
<path d="M203.2,480.4 L202.5,480.7 L201.8,480.9 L201.1,481.0 L200.3,481.1 L199.5,481.0 L198.7,480.8 L197.8,480.6 L197.0,480.2 L196.1,479.8 L195.2,479.3 L194.4,478.7 L193.6,478.0 L192.7,477.2 L192.0,476.4 L191.2,475.5 L190.5,474.6 L189.8,473.6 L189.2,472.6 L188.6,471.6 L188.1,470.5 L187.7,469.4 L187.3,468.3 L187.0,467.2 L186.7,466.1 L186.5,465.1 L186.4,464.0 L186.4,463.0 L186.5,462.1 L186.6,461.1 L186.8,460.3 L187.1,459.5 L187.4,458.8 L187.8,458.1 L188.3,457.5 L188.9,457.0 L189.5,456.6 L192.0,455.1 L192.7,454.8 L193.4,454.6 L194.1,454.5 L194.9,454.4 L195.7,454.5 L196.5,454.7 L197.4,454.9 L198.2,455.3 L199.1,455.7 L199.9,456.2 L200.8,456.8 L201.6,457.5 L202.5,458.3 L203.2,459.1 L204.0,460.0 L204.7,460.9 L205.4,461.9 L206.0,462.9 L206.6,463.9 L207.1,465.0 L207.5,466.1 L207.9,467.2 L208.2,468.3 L208.5,469.4 L208.7,470.4 L208.8,471.5 L208.8,472.5 L208.7,473.4 L208.6,474.4 L208.4,475.2 L208.1,476.0 L207.8,476.7 L207.4,477.4 L206.9,478.0 L206.3,478.5 L205.7,478.9ZM200.8,476.3 A9.0,5.4 60.0 1 0 191.8,460.7 A9.0,5.4 60.0 1 0 200.8,476.3Z" fill="#e6e6e6" stroke="none" stroke-width="0" stroke-linejoin="round" fill-rule="evenodd"/>
<polyline points="192.0,455.1 192.7,454.8 193.4,454.6 194.1,454.5 194.9,454.4 195.7,454.5 196.5,454.7 197.4,454.9 198.2,455.3 199.1,455.7 199.9,456.2 200.8,456.8 201.6,457.5 202.5,458.3 203.2,459.1 204.0,460.0 204.7,460.9 205.4,461.9 206.0,462.9 206.6,463.9 207.1,465.0 207.5,466.1 207.9,467.2 208.2,468.3 208.5,469.4 208.7,470.4 208.8,471.5 208.8,472.5 208.7,473.4 208.6,474.4 208.4,475.2 208.1,476.0 207.8,476.7 207.4,477.4 206.9,478.0 206.3,478.5 205.7,478.9" fill="none" stroke="#1e1e1e" stroke-width="1.0"/>
<line x1="203.2" y1="480.4" x2="205.7" y2="478.9" stroke="#1e1e1e" stroke-width="1.0"/>
<line x1="189.5" y1="456.6" x2="192.0" y2="455.1" stroke="#1e1e1e" stroke-width="1.0"/>
<path d="M203.2,480.4 A13.7,8.2 60.0 1 0 189.5,456.6 A13.7,8.2 60.0 1 0 203.2,480.4ZM200.8,476.3 A9.0,5.4 60.0 1 0 191.8,460.7 A9.0,5.4 60.0 1 0 200.8,476.3Z" fill="#fff" stroke="#1e1e1e" stroke-width="1.1" stroke-linejoin="round" fill-rule="evenodd"/>
<path d="M202.1,478.5 A11.5,6.9 60.0 1 0 190.6,458.5 A11.5,6.9 60.0 1 0 202.1,478.5Z" fill="none" stroke="#1e1e1e" stroke-width="0.6" stroke-linejoin="round" />
<line x1="191.6" y1="471.2" x2="201.0" y2="465.8" stroke="#333" stroke-width="0.7"/>
<path d="M179.3,519.2 L178.0,519.9 L176.6,520.3 L175.1,520.6 L173.5,520.7 L171.8,520.5 L170.1,520.2 L168.4,519.7 L166.7,519.0 L164.9,518.1 L163.2,517.0 L161.4,515.8 L159.7,514.4 L158.0,512.9 L156.4,511.2 L154.9,509.4 L153.4,507.5 L152.0,505.5 L150.8,503.4 L149.6,501.3 L148.5,499.1 L147.6,496.8 L146.8,494.6 L146.2,492.4 L145.7,490.2 L145.4,488.0 L145.2,485.8 L145.1,483.8 L145.2,481.8 L145.5,480.0 L145.9,478.2 L146.5,476.6 L147.2,475.1 L148.0,473.8 L149.0,472.6 L150.1,471.6 L151.3,470.8 L157.4,467.3 L158.7,466.6 L160.1,466.2 L161.6,465.9 L163.2,465.8 L164.8,466.0 L166.5,466.3 L168.2,466.8 L170.0,467.5 L171.8,468.4 L173.5,469.5 L175.3,470.7 L177.0,472.1 L178.6,473.6 L180.2,475.3 L181.8,477.1 L183.3,479.0 L184.6,481.0 L185.9,483.1 L187.1,485.2 L188.1,487.4 L189.0,489.7 L189.8,491.9 L190.5,494.1 L191.0,496.3 L191.3,498.5 L191.5,500.7 L191.5,502.7 L191.4,504.7 L191.2,506.5 L190.8,508.3 L190.2,509.9 L189.5,511.4 L188.7,512.7 L187.7,513.9 L186.6,514.9 L185.4,515.7Z" fill="#ececec" stroke="#1e1e1e" stroke-width="1.0" stroke-linejoin="round" />
<path d="M179.3,519.2 A28.0,16.8 60.0 1 0 151.3,470.8 A28.0,16.8 60.0 1 0 179.3,519.2ZM176.6,514.5 A22.5,13.5 60.0 1 0 154.1,475.5 A22.5,13.5 60.0 1 0 176.6,514.5Z" fill="#fff" stroke="#1e1e1e" stroke-width="1.1" stroke-linejoin="round" fill-rule="evenodd"/>
<path d="M178.1,517.1 A25.5,15.3 60.0 1 0 152.6,472.9 A25.5,15.3 60.0 1 0 178.1,517.1Z" fill="none" stroke="#1e1e1e" stroke-width="0.6" stroke-linejoin="round" />
<path d="M176.6,514.5 A22.5,13.5 60.0 1 0 154.1,475.5 A22.5,13.5 60.0 1 0 176.6,514.5ZM174.3,507.7 A15.5,9.3 60.0 1 0 158.8,480.8 A15.5,9.3 60.0 1 0 174.3,507.7Z" fill="#f0f0f0" stroke="#1e1e1e" stroke-width="0.8" stroke-linejoin="round" fill-rule="evenodd"/>
<circle cx="179.4" cy="506.8" r="2.9" fill="#fff" stroke="#1e1e1e" stroke-width="0.8"/>
<circle cx="179.1" cy="494.5" r="2.9" fill="#fff" stroke="#1e1e1e" stroke-width="0.8"/>
<circle cx="171.5" cy="482.1" r="2.9" fill="#fff" stroke="#1e1e1e" stroke-width="0.8"/>
<circle cx="161.0" cy="476.8" r="2.9" fill="#fff" stroke="#1e1e1e" stroke-width="0.8"/>
<circle cx="153.8" cy="481.7" r="2.9" fill="#fff" stroke="#1e1e1e" stroke-width="0.8"/>
<circle cx="154.1" cy="494.0" r="2.9" fill="#fff" stroke="#1e1e1e" stroke-width="0.8"/>
<circle cx="161.7" cy="506.4" r="2.9" fill="#fff" stroke="#1e1e1e" stroke-width="0.8"/>
<circle cx="172.1" cy="511.7" r="2.9" fill="#fff" stroke="#1e1e1e" stroke-width="0.8"/>
<path d="M173.5,508.2 A15.5,9.3 60.0 1 0 158.0,481.3 A15.5,9.3 60.0 1 0 173.5,508.2ZM171.5,504.7 A11.5,6.9 60.0 1 0 160.0,484.8 A11.5,6.9 60.0 1 0 171.5,504.7Z" fill="#fff" stroke="#1e1e1e" stroke-width="1" stroke-linejoin="round" fill-rule="evenodd"/>
<path d="M172.5,506.4 A13.5,8.1 60.0 1 0 159.0,483.1 A13.5,8.1 60.0 1 0 172.5,506.4Z" fill="none" stroke="#1e1e1e" stroke-width="0.6" stroke-linejoin="round" />
<path d="M171.5,504.7 A11.5,6.9 60.0 1 0 160.0,484.8 A11.5,6.9 60.0 1 0 171.5,504.7Z" fill="#e8e8e8" stroke="#1e1e1e" stroke-width="0" stroke-linejoin="round" />
<clipPath id="k8"><path d="M171.5,504.7 A11.5,6.9 60.0 1 0 160.0,484.8 A11.5,6.9 60.0 1 0 171.5,504.7Z"/></clipPath>
<path d="M180.1,499.7 A11.5,6.9 60.0 1 0 168.6,479.8 A11.5,6.9 60.0 1 0 180.1,499.7Z" fill="#fff" stroke="#1e1e1e" stroke-width="0.8" stroke-linejoin="round" clip-path="url(#k8)"/>
<line x1="159.8" y1="498.2" x2="171.7" y2="491.3" stroke="#333" stroke-width="0.7"/>
<polyline points="152.6,532.6 153.5,530.9 154.2,529.0 154.8,527.0 155.1,524.8 155.3,522.5 155.2,520.1 155.0,517.6 154.6,515.0 154.0,512.3 153.3,509.7 152.3,507.0 151.2,504.4 149.9,501.8 148.5,499.3 146.9,496.9 145.3,494.5 143.5,492.3 141.6,490.3 139.7,488.4 137.7,486.6 135.6,485.1 133.5,483.8 131.4,482.7 129.4,481.8 127.3,481.1 125.3,480.7 123.4,480.5 121.5,480.6 119.7,480.9 118.0,481.5 116.5,482.3 115.1,483.3 113.8,484.5 112.7,486.0 111.7,487.6 111.0,489.4 110.4,491.4 110.0,493.6 109.8,495.8 109.7,498.2" fill="none" stroke="#1e1e1e" stroke-width="2.0" stroke-linecap="round"/>
<polyline points="152.6,532.6 153.5,530.9 154.2,529.0 154.8,527.0 155.1,524.8 155.3,522.5 155.2,520.1 155.0,517.6 154.6,515.0 154.0,512.3 153.3,509.7 152.3,507.0 151.2,504.4 149.9,501.8 148.5,499.3 146.9,496.9 145.3,494.5 143.5,492.3 141.6,490.3 139.7,488.4 137.7,486.6 135.6,485.1 133.5,483.8 131.4,482.7 129.4,481.8 127.3,481.1 125.3,480.7 123.4,480.5 121.5,480.6 119.7,480.9 118.0,481.5 116.5,482.3 115.1,483.3 113.8,484.5 112.7,486.0 111.7,487.6 111.0,489.4 110.4,491.4 110.0,493.6 109.8,495.8 109.7,498.2" fill="none" stroke="#eee" stroke-width="0.6" stroke-linecap="round"/>
<path d="M119.5,558.1 L117.6,559.1 L115.6,559.7 L113.4,560.1 L111.2,560.2 L108.8,560.0 L106.4,559.5 L104.0,558.8 L101.5,557.8 L98.9,556.5 L96.4,555.0 L93.9,553.2 L91.5,551.2 L89.1,549.0 L86.8,546.6 L84.6,544.1 L82.5,541.3 L80.5,538.5 L78.7,535.5 L77.1,532.4 L75.6,529.3 L74.2,526.1 L73.1,522.9 L72.2,519.7 L71.5,516.6 L71.0,513.5 L70.7,510.4 L70.7,507.5 L70.8,504.7 L71.2,502.0 L71.8,499.5 L72.6,497.2 L73.6,495.1 L74.8,493.1 L76.2,491.5 L77.8,490.0 L79.5,488.9 L84.7,485.9 L86.6,484.9 L88.6,484.3 L90.8,483.9 L93.0,483.8 L95.4,484.0 L97.8,484.5 L100.2,485.2 L102.7,486.2 L105.3,487.5 L107.8,489.0 L110.3,490.8 L112.7,492.8 L115.1,495.0 L117.4,497.4 L119.6,499.9 L121.7,502.7 L123.7,505.5 L125.5,508.5 L127.1,511.6 L128.6,514.7 L129.9,517.9 L131.1,521.1 L132.0,524.3 L132.7,527.4 L133.2,530.5 L133.5,533.6 L133.5,536.5 L133.4,539.3 L133.0,542.0 L132.4,544.5 L131.6,546.8 L130.6,548.9 L129.4,550.9 L128.0,552.5 L126.4,554.0 L124.7,555.1Z" fill="#e4e4e4" stroke="#1e1e1e" stroke-width="1.0" stroke-linejoin="round" />
<line x1="75.6" y1="529.3" x2="80.3" y2="526.6" stroke="#222" stroke-width="0.7"/>
<line x1="77.4" y1="533.1" x2="82.1" y2="530.3" stroke="#222" stroke-width="0.7"/>
<line x1="79.4" y1="536.7" x2="84.2" y2="534.0" stroke="#222" stroke-width="0.7"/>
<line x1="81.7" y1="540.2" x2="86.5" y2="537.5" stroke="#222" stroke-width="0.7"/>
<line x1="84.2" y1="543.5" x2="88.9" y2="540.8" stroke="#222" stroke-width="0.7"/>
<line x1="86.8" y1="546.6" x2="91.6" y2="543.9" stroke="#222" stroke-width="0.7"/>
<line x1="89.6" y1="549.5" x2="94.3" y2="546.7" stroke="#222" stroke-width="0.7"/>
<line x1="92.5" y1="552.0" x2="97.2" y2="549.3" stroke="#222" stroke-width="0.7"/>
<line x1="95.4" y1="554.3" x2="100.2" y2="551.5" stroke="#222" stroke-width="0.7"/>
<line x1="98.4" y1="556.2" x2="103.2" y2="553.4" stroke="#222" stroke-width="0.7"/>
<line x1="101.5" y1="557.8" x2="106.2" y2="555.0" stroke="#222" stroke-width="0.7"/>
<line x1="104.5" y1="558.9" x2="109.2" y2="556.2" stroke="#222" stroke-width="0.7"/>
<line x1="107.4" y1="559.7" x2="112.2" y2="557.0" stroke="#222" stroke-width="0.7"/>
<line x1="110.3" y1="560.1" x2="115.0" y2="557.4" stroke="#222" stroke-width="0.7"/>
<line x1="113.0" y1="560.1" x2="117.8" y2="557.4" stroke="#222" stroke-width="0.7"/>
<line x1="115.6" y1="559.7" x2="120.4" y2="556.9" stroke="#222" stroke-width="0.7"/>
<line x1="118.0" y1="558.9" x2="122.8" y2="556.1" stroke="#222" stroke-width="0.7"/>
<line x1="120.2" y1="557.7" x2="125.0" y2="555.0" stroke="#222" stroke-width="0.7"/>
<line x1="122.2" y1="556.1" x2="127.0" y2="553.4" stroke="#222" stroke-width="0.7"/>
<line x1="123.9" y1="554.2" x2="128.7" y2="551.5" stroke="#222" stroke-width="0.7"/>
<line x1="125.4" y1="551.9" x2="130.2" y2="549.2" stroke="#222" stroke-width="0.7"/>
<line x1="126.6" y1="549.4" x2="131.4" y2="546.6" stroke="#222" stroke-width="0.7"/>
<line x1="127.5" y1="546.5" x2="132.2" y2="543.8" stroke="#222" stroke-width="0.7"/>
<line x1="128.1" y1="543.4" x2="132.8" y2="540.7" stroke="#222" stroke-width="0.7"/>
<line x1="128.3" y1="540.1" x2="133.1" y2="537.3" stroke="#222" stroke-width="0.7"/>
<line x1="128.3" y1="536.6" x2="133.0" y2="533.8" stroke="#222" stroke-width="0.7"/>
<line x1="127.9" y1="532.9" x2="132.7" y2="530.2" stroke="#222" stroke-width="0.7"/>
<line x1="127.2" y1="529.2" x2="132.0" y2="526.4" stroke="#222" stroke-width="0.7"/>
<line x1="126.3" y1="525.4" x2="131.0" y2="522.6" stroke="#222" stroke-width="0.7"/>
<line x1="125.0" y1="521.5" x2="129.8" y2="518.8" stroke="#222" stroke-width="0.7"/>
<line x1="123.4" y1="517.7" x2="128.2" y2="514.9" stroke="#222" stroke-width="0.7"/>
<line x1="121.6" y1="513.9" x2="126.4" y2="511.2" stroke="#222" stroke-width="0.7"/>
<line x1="119.6" y1="510.3" x2="124.3" y2="507.5" stroke="#222" stroke-width="0.7"/>
<line x1="117.3" y1="506.8" x2="122.1" y2="504.0" stroke="#222" stroke-width="0.7"/>
<path d="M119.5,558.1 A40.0,24.0 60.0 1 0 79.5,488.9 A40.0,24.0 60.0 1 0 119.5,558.1Z" fill="#efefef" stroke="#1e1e1e" stroke-width="1.1" stroke-linejoin="round" />
<path d="M118.8,556.8 A38.5,23.1 60.0 1 0 80.2,490.2 A38.5,23.1 60.0 1 0 118.8,556.8ZM114.2,549.0 A29.5,17.7 60.0 1 0 84.8,498.0 A29.5,17.7 60.0 1 0 114.2,549.0Z" fill="#d6d6d6" stroke="#1e1e1e" stroke-width="0.7" stroke-linejoin="round" fill-rule="evenodd"/>
<line x1="114.5" y1="549.5" x2="118.5" y2="556.4" stroke="#1e1e1e" stroke-width="1.1"/>
<line x1="117.1" y1="549.4" x2="119.9" y2="553.5" stroke="#fff" stroke-width="1.4"/>
<line x1="117.1" y1="551.9" x2="119.3" y2="550.1" stroke="#1e1e1e" stroke-width="0.8"/>
<line x1="118.0" y1="546.3" x2="123.0" y2="552.3" stroke="#1e1e1e" stroke-width="1.1"/>
<line x1="120.2" y1="545.3" x2="123.5" y2="548.7" stroke="#fff" stroke-width="1.4"/>
<line x1="120.8" y1="548.0" x2="122.2" y2="545.2" stroke="#1e1e1e" stroke-width="0.8"/>
<line x1="120.3" y1="541.5" x2="125.8" y2="546.3" stroke="#1e1e1e" stroke-width="1.1"/>
<line x1="121.9" y1="539.6" x2="125.5" y2="542.2" stroke="#fff" stroke-width="1.4"/>
<line x1="123.0" y1="542.4" x2="123.6" y2="538.8" stroke="#1e1e1e" stroke-width="0.8"/>
<line x1="121.1" y1="535.5" x2="126.9" y2="538.7" stroke="#1e1e1e" stroke-width="1.1"/>
<line x1="122.1" y1="532.8" x2="125.7" y2="534.3" stroke="#fff" stroke-width="1.4"/>
<line x1="123.6" y1="535.4" x2="123.3" y2="531.4" stroke="#1e1e1e" stroke-width="0.8"/>
<line x1="120.5" y1="528.7" x2="126.1" y2="530.1" stroke="#1e1e1e" stroke-width="1.1"/>
<line x1="120.7" y1="525.5" x2="124.1" y2="525.8" stroke="#fff" stroke-width="1.4"/>
<line x1="122.6" y1="527.7" x2="121.4" y2="523.4" stroke="#1e1e1e" stroke-width="0.8"/>
<line x1="118.4" y1="521.5" x2="123.5" y2="521.0" stroke="#1e1e1e" stroke-width="1.1"/>
<line x1="117.9" y1="517.9" x2="120.8" y2="517.1" stroke="#fff" stroke-width="1.4"/>
<line x1="120.0" y1="519.7" x2="118.0" y2="515.5" stroke="#1e1e1e" stroke-width="0.8"/>
<line x1="115.1" y1="514.5" x2="119.2" y2="512.1" stroke="#1e1e1e" stroke-width="1.1"/>
<line x1="113.8" y1="510.8" x2="116.1" y2="508.8" stroke="#fff" stroke-width="1.4"/>
<line x1="116.0" y1="511.9" x2="113.4" y2="508.1" stroke="#1e1e1e" stroke-width="0.8"/>
<line x1="110.7" y1="508.1" x2="113.7" y2="504.0" stroke="#1e1e1e" stroke-width="1.1"/>
<line x1="108.8" y1="504.5" x2="110.2" y2="501.5" stroke="#fff" stroke-width="1.4"/>
<line x1="110.9" y1="505.0" x2="107.8" y2="501.7" stroke="#1e1e1e" stroke-width="0.8"/>
<line x1="105.5" y1="502.7" x2="107.1" y2="497.2" stroke="#1e1e1e" stroke-width="1.1"/>
<line x1="103.1" y1="499.5" x2="103.7" y2="495.7" stroke="#fff" stroke-width="1.4"/>
<line x1="105.0" y1="499.3" x2="101.6" y2="496.9" stroke="#1e1e1e" stroke-width="0.8"/>
<line x1="99.9" y1="498.8" x2="100.0" y2="492.2" stroke="#1e1e1e" stroke-width="1.1"/>
<line x1="97.2" y1="496.2" x2="96.8" y2="491.8" stroke="#fff" stroke-width="1.4"/>
<line x1="98.7" y1="495.2" x2="95.3" y2="493.8" stroke="#1e1e1e" stroke-width="0.8"/>
<line x1="94.3" y1="496.5" x2="92.9" y2="489.3" stroke="#1e1e1e" stroke-width="1.1"/>
<line x1="91.4" y1="494.7" x2="90.1" y2="490.1" stroke="#fff" stroke-width="1.4"/>
<line x1="92.5" y1="493.1" x2="89.3" y2="492.8" stroke="#1e1e1e" stroke-width="0.8"/>
<line x1="89.0" y1="496.1" x2="86.3" y2="488.8" stroke="#1e1e1e" stroke-width="1.1"/>
<line x1="86.2" y1="495.2" x2="84.1" y2="490.7" stroke="#fff" stroke-width="1.4"/>
<line x1="86.7" y1="493.0" x2="84.0" y2="493.9" stroke="#1e1e1e" stroke-width="0.8"/>
<line x1="84.5" y1="497.5" x2="80.5" y2="490.6" stroke="#1e1e1e" stroke-width="1.1"/>
<line x1="81.9" y1="497.6" x2="79.1" y2="493.5" stroke="#fff" stroke-width="1.4"/>
<line x1="81.9" y1="495.1" x2="79.7" y2="496.9" stroke="#1e1e1e" stroke-width="0.8"/>
<line x1="81.0" y1="500.7" x2="76.0" y2="494.7" stroke="#1e1e1e" stroke-width="1.1"/>
<line x1="78.8" y1="501.7" x2="75.5" y2="498.3" stroke="#fff" stroke-width="1.4"/>
<line x1="78.2" y1="499.0" x2="76.8" y2="501.8" stroke="#1e1e1e" stroke-width="0.8"/>
<line x1="78.7" y1="505.5" x2="73.2" y2="500.7" stroke="#1e1e1e" stroke-width="1.1"/>
<line x1="77.1" y1="507.4" x2="73.5" y2="504.8" stroke="#fff" stroke-width="1.4"/>
<line x1="76.0" y1="504.6" x2="75.4" y2="508.2" stroke="#1e1e1e" stroke-width="0.8"/>
<line x1="77.9" y1="511.5" x2="72.1" y2="508.3" stroke="#1e1e1e" stroke-width="1.1"/>
<line x1="76.9" y1="514.2" x2="73.3" y2="512.7" stroke="#fff" stroke-width="1.4"/>
<line x1="75.4" y1="511.6" x2="75.7" y2="515.6" stroke="#1e1e1e" stroke-width="0.8"/>
<line x1="78.5" y1="518.3" x2="72.9" y2="516.9" stroke="#1e1e1e" stroke-width="1.1"/>
<line x1="78.3" y1="521.5" x2="74.9" y2="521.2" stroke="#fff" stroke-width="1.4"/>
<line x1="76.4" y1="519.3" x2="77.6" y2="523.6" stroke="#1e1e1e" stroke-width="0.8"/>
<line x1="80.6" y1="525.5" x2="75.5" y2="526.0" stroke="#1e1e1e" stroke-width="1.1"/>
<line x1="81.1" y1="529.1" x2="78.2" y2="529.9" stroke="#fff" stroke-width="1.4"/>
<line x1="79.0" y1="527.3" x2="81.0" y2="531.5" stroke="#1e1e1e" stroke-width="0.8"/>
<line x1="83.9" y1="532.5" x2="79.8" y2="534.9" stroke="#1e1e1e" stroke-width="1.1"/>
<line x1="85.2" y1="536.2" x2="82.9" y2="538.2" stroke="#fff" stroke-width="1.4"/>
<line x1="83.0" y1="535.1" x2="85.6" y2="538.9" stroke="#1e1e1e" stroke-width="0.8"/>
<line x1="88.3" y1="538.9" x2="85.3" y2="543.0" stroke="#1e1e1e" stroke-width="1.1"/>
<line x1="90.2" y1="542.5" x2="88.8" y2="545.5" stroke="#fff" stroke-width="1.4"/>
<line x1="88.1" y1="542.0" x2="91.2" y2="545.3" stroke="#1e1e1e" stroke-width="0.8"/>
<line x1="93.5" y1="544.3" x2="91.9" y2="549.8" stroke="#1e1e1e" stroke-width="1.1"/>
<line x1="95.9" y1="547.5" x2="95.3" y2="551.3" stroke="#fff" stroke-width="1.4"/>
<line x1="94.0" y1="547.7" x2="97.4" y2="550.1" stroke="#1e1e1e" stroke-width="0.8"/>
<line x1="99.1" y1="548.2" x2="99.0" y2="554.8" stroke="#1e1e1e" stroke-width="1.1"/>
<line x1="101.8" y1="550.8" x2="102.2" y2="555.2" stroke="#fff" stroke-width="1.4"/>
<line x1="100.3" y1="551.8" x2="103.7" y2="553.2" stroke="#1e1e1e" stroke-width="0.8"/>
<line x1="104.7" y1="550.5" x2="106.1" y2="557.7" stroke="#1e1e1e" stroke-width="1.1"/>
<line x1="107.6" y1="552.3" x2="108.9" y2="556.9" stroke="#fff" stroke-width="1.4"/>
<line x1="106.5" y1="553.9" x2="109.7" y2="554.2" stroke="#1e1e1e" stroke-width="0.8"/>
<line x1="110.0" y1="550.9" x2="112.7" y2="558.2" stroke="#1e1e1e" stroke-width="1.1"/>
<line x1="112.8" y1="551.8" x2="114.9" y2="556.3" stroke="#fff" stroke-width="1.4"/>
<line x1="112.3" y1="554.0" x2="115.0" y2="553.1" stroke="#1e1e1e" stroke-width="0.8"/>
<path d="M114.2,549.0 A29.5,17.7 60.0 1 0 84.8,498.0 A29.5,17.7 60.0 1 0 114.2,549.0Z" fill="#ebebeb" stroke="#1e1e1e" stroke-width="0.9" stroke-linejoin="round" />
<line x1="108.0" y1="538.2" x2="114.0" y2="548.6" stroke="#1e1e1e" stroke-width="1.0"/>
<line x1="111.3" y1="533.7" x2="119.6" y2="540.9" stroke="#1e1e1e" stroke-width="1.0"/>
<line x1="111.4" y1="526.4" x2="119.8" y2="528.5" stroke="#1e1e1e" stroke-width="1.0"/>
<line x1="108.3" y1="518.4" x2="114.6" y2="514.8" stroke="#1e1e1e" stroke-width="1.0"/>
<line x1="102.9" y1="511.7" x2="105.3" y2="503.4" stroke="#1e1e1e" stroke-width="1.0"/>
<line x1="96.6" y1="508.2" x2="94.5" y2="497.4" stroke="#1e1e1e" stroke-width="1.0"/>
<line x1="91.0" y1="508.8" x2="85.0" y2="498.4" stroke="#1e1e1e" stroke-width="1.0"/>
<line x1="87.7" y1="513.3" x2="79.4" y2="506.1" stroke="#1e1e1e" stroke-width="1.0"/>
<line x1="87.6" y1="520.6" x2="79.2" y2="518.5" stroke="#1e1e1e" stroke-width="1.0"/>
<line x1="90.7" y1="528.6" x2="84.4" y2="532.2" stroke="#1e1e1e" stroke-width="1.0"/>
<line x1="96.1" y1="535.3" x2="93.7" y2="543.6" stroke="#1e1e1e" stroke-width="1.0"/>
<line x1="102.4" y1="538.8" x2="104.5" y2="549.6" stroke="#1e1e1e" stroke-width="1.0"/>
<circle cx="113.7" cy="541.0" r="2.2" fill="#fff" stroke="#1e1e1e" stroke-width="0.8"/>
<circle cx="114.0" cy="522.0" r="2.2" fill="#fff" stroke="#1e1e1e" stroke-width="0.8"/>
<circle cx="99.8" cy="504.5" r="2.2" fill="#fff" stroke="#1e1e1e" stroke-width="0.8"/>
<circle cx="85.3" cy="506.0" r="2.2" fill="#fff" stroke="#1e1e1e" stroke-width="0.8"/>
<circle cx="85.0" cy="525.0" r="2.2" fill="#fff" stroke="#1e1e1e" stroke-width="0.8"/>
<circle cx="99.2" cy="542.5" r="2.2" fill="#fff" stroke="#1e1e1e" stroke-width="0.8"/>
<path d="M109.0,535.2 L108.2,535.6 L107.3,535.9 L106.4,536.0 L105.5,536.1 L104.5,536.0 L103.4,535.8 L102.4,535.5 L101.3,535.1 L100.3,534.5 L99.2,533.9 L98.1,533.1 L97.1,532.3 L96.1,531.3 L95.1,530.3 L94.2,529.2 L93.3,528.1 L92.4,526.9 L91.7,525.6 L91.0,524.3 L90.3,523.0 L89.8,521.6 L89.3,520.3 L88.9,518.9 L88.6,517.6 L88.4,516.2 L88.3,514.9 L88.2,513.7 L88.3,512.5 L88.5,511.4 L88.7,510.3 L89.1,509.3 L89.5,508.4 L90.0,507.6 L90.6,506.9 L91.3,506.3 L92.0,505.8 L97.2,502.8 L98.0,502.4 L98.9,502.1 L99.8,502.0 L100.7,501.9 L101.7,502.0 L102.8,502.2 L103.8,502.5 L104.9,502.9 L105.9,503.5 L107.0,504.1 L108.1,504.9 L109.1,505.7 L110.1,506.7 L111.1,507.7 L112.0,508.8 L112.9,509.9 L113.8,511.1 L114.5,512.4 L115.2,513.7 L115.9,515.0 L116.4,516.4 L116.9,517.7 L117.3,519.1 L117.6,520.4 L117.8,521.8 L117.9,523.1 L118.0,524.3 L117.9,525.5 L117.7,526.6 L117.5,527.7 L117.1,528.7 L116.7,529.6 L116.2,530.4 L115.6,531.1 L114.9,531.7 L114.2,532.2Z" fill="#e8e8e8" stroke="#1e1e1e" stroke-width="1.0" stroke-linejoin="round" />
<path d="M109.0,535.2 A17.0,10.2 60.0 1 0 92.0,505.8 A17.0,10.2 60.0 1 0 109.0,535.2ZM105.8,529.6 A10.5,6.3 60.0 1 0 95.2,511.4 A10.5,6.3 60.0 1 0 105.8,529.6Z" fill="#fff" stroke="#1e1e1e" stroke-width="1.0" stroke-linejoin="round" fill-rule="evenodd"/>
<path d="M107.2,532.2 A13.5,8.1 60.0 1 0 93.8,508.8 A13.5,8.1 60.0 1 0 107.2,532.2Z" fill="none" stroke="#1e1e1e" stroke-width="0.6" stroke-linejoin="round" />
<path d="M105.8,529.6 A10.5,6.3 60.0 1 0 95.2,511.4 A10.5,6.3 60.0 1 0 105.8,529.6Z" fill="#d0d0d0" stroke="#1e1e1e" stroke-width="0" stroke-linejoin="round" />
<clipPath id="k9"><path d="M105.8,529.6 A10.5,6.3 60.0 1 0 95.2,511.4 A10.5,6.3 60.0 1 0 105.8,529.6Z"/></clipPath>
<path d="M112.7,525.6 A10.5,6.3 60.0 1 0 102.2,507.4 A10.5,6.3 60.0 1 0 112.7,525.6Z" fill="#fff" stroke="#1e1e1e" stroke-width="0.8" stroke-linejoin="round" clip-path="url(#k9)"/>
<path d="M111.4,523.4 A8.0,4.8 60.0 1 0 103.4,509.6 A8.0,4.8 60.0 1 0 111.4,523.4Z" fill="#fff" stroke="#1e1e1e" stroke-width="0.7" stroke-linejoin="round" />
<path d="M65.5,517 L71.5,513.5" stroke="#1e1e1e" stroke-width="4" stroke-linecap="round"/>
<path d="M65.5,517 L71.5,513.5" stroke="#eee" stroke-width="2.2" stroke-linecap="round"/>
<ellipse cx="64.8" cy="517.4" rx="2.8" ry="3.4" transform="rotate(60 64.8 517.4)" fill="#fff" stroke="#1e1e1e" stroke-width="0.9"/>
<path d="M75.5,555.7 L74.8,556.0 L74.1,556.2 L73.4,556.3 L72.6,556.4 L71.9,556.3 L71.0,556.1 L70.2,555.9 L69.4,555.6 L68.5,555.1 L67.7,554.6 L66.8,554.0 L66.0,553.4 L65.2,552.6 L64.4,551.8 L63.7,550.9 L63.0,550.0 L62.3,549.1 L61.7,548.0 L61.1,547.0 L60.6,546.0 L60.2,544.9 L59.8,543.8 L59.5,542.7 L59.2,541.7 L59.1,540.6 L59.0,539.6 L59.0,538.6 L59.0,537.6 L59.1,536.7 L59.3,535.9 L59.6,535.1 L60.0,534.4 L60.4,533.8 L60.8,533.2 L61.4,532.7 L62.0,532.3 L65.4,530.3 L66.1,530.0 L66.7,529.8 L67.5,529.7 L68.2,529.6 L69.0,529.7 L69.8,529.9 L70.7,530.1 L71.5,530.4 L72.4,530.9 L73.2,531.4 L74.0,532.0 L74.9,532.6 L75.7,533.4 L76.4,534.2 L77.2,535.1 L77.9,536.0 L78.6,536.9 L79.2,538.0 L79.7,539.0 L80.2,540.0 L80.7,541.1 L81.1,542.2 L81.4,543.3 L81.6,544.3 L81.8,545.4 L81.9,546.4 L81.9,547.4 L81.8,548.4 L81.7,549.3 L81.5,550.1 L81.2,550.9 L80.9,551.6 L80.5,552.2 L80.0,552.8 L79.5,553.3 L78.9,553.7ZM73.2,551.8 A9.0,5.4 60.0 1 0 64.2,536.2 A9.0,5.4 60.0 1 0 73.2,551.8Z" fill="#e6e6e6" stroke="none" stroke-width="0" stroke-linejoin="round" fill-rule="evenodd"/>
<polyline points="65.4,530.3 66.1,530.0 66.7,529.8 67.5,529.7 68.2,529.6 69.0,529.7 69.8,529.9 70.7,530.1 71.5,530.4 72.4,530.9 73.2,531.4 74.0,532.0 74.9,532.6 75.7,533.4 76.4,534.2 77.2,535.1 77.9,536.0 78.6,536.9 79.2,538.0 79.7,539.0 80.2,540.0 80.7,541.1 81.1,542.2 81.4,543.3 81.6,544.3 81.8,545.4 81.9,546.4 81.9,547.4 81.8,548.4 81.7,549.3 81.5,550.1 81.2,550.9 80.9,551.6 80.5,552.2 80.0,552.8 79.5,553.3 78.9,553.7" fill="none" stroke="#1e1e1e" stroke-width="1.0"/>
<line x1="75.5" y1="555.7" x2="78.9" y2="553.7" stroke="#1e1e1e" stroke-width="1.0"/>
<line x1="62.0" y1="532.3" x2="65.4" y2="530.3" stroke="#1e1e1e" stroke-width="1.0"/>
<path d="M75.5,555.7 A13.5,8.1 60.0 1 0 62.0,532.3 A13.5,8.1 60.0 1 0 75.5,555.7ZM73.2,551.8 A9.0,5.4 60.0 1 0 64.2,536.2 A9.0,5.4 60.0 1 0 73.2,551.8Z" fill="#fff" stroke="#1e1e1e" stroke-width="1.1" stroke-linejoin="round" fill-rule="evenodd"/>
<path d="M74.5,554.0 A11.5,6.9 60.0 1 0 63.0,534.0 A11.5,6.9 60.0 1 0 74.5,554.0Z" fill="none" stroke="#1e1e1e" stroke-width="0.6" stroke-linejoin="round" />
<path d="M73.2,551.8 A9.0,5.4 60.0 1 0 64.2,536.2 A9.0,5.4 60.0 1 0 73.2,551.8Z" fill="#e4e4e4" stroke="#1e1e1e" stroke-width="0" stroke-linejoin="round" />
<clipPath id="k10"><path d="M73.2,551.8 A9.0,5.4 60.0 1 0 64.2,536.2 A9.0,5.4 60.0 1 0 73.2,551.8Z"/></clipPath>
<path d="M76.7,549.8 A9.0,5.4 60.0 1 0 67.7,534.2 A9.0,5.4 60.0 1 0 76.7,549.8Z" fill="#fff" stroke="#1e1e1e" stroke-width="0.8" stroke-linejoin="round" clip-path="url(#k10)"/>
<polyline points="45.0,562.9 46.4,563.9 47.8,564.7 49.2,565.4 50.5,565.7 51.8,565.9 53.0,565.8 54.1,565.4 55.1,564.8 55.9,564.0 56.6,562.9 57.1,561.7 57.4,560.3 57.5,558.8 57.4,557.1 57.1,555.4 56.7,553.7 56.0,551.9 55.2,550.2 54.2,548.6 53.1,547.0 51.9,545.6 50.7,544.3 49.3,543.2 47.9,542.4 46.6,541.7 45.2,541.3 43.9,541.1 42.7,541.2 41.6,541.5 40.6,542.1 39.7,542.9 39.0,543.9 38.5,545.1 38.2,546.5 38.0,548.0 38.1,549.6 38.3,551.3 38.8,553.0 39.4,554.8 40.2,556.5" fill="none" stroke="#1e1e1e" stroke-width="2.0" stroke-linecap="round"/>
<polyline points="45.0,562.9 46.4,563.9 47.8,564.7 49.2,565.4 50.5,565.7 51.8,565.9 53.0,565.8 54.1,565.4 55.1,564.8 55.9,564.0 56.6,562.9 57.1,561.7 57.4,560.3 57.5,558.8 57.4,557.1 57.1,555.4 56.7,553.7 56.0,551.9 55.2,550.2 54.2,548.6 53.1,547.0 51.9,545.6 50.7,544.3 49.3,543.2 47.9,542.4 46.6,541.7 45.2,541.3 43.9,541.1 42.7,541.2 41.6,541.5 40.6,542.1 39.7,542.9 39.0,543.9 38.5,545.1 38.2,546.5 38.0,548.0 38.1,549.6 38.3,551.3 38.8,553.0 39.4,554.8 40.2,556.5" fill="none" stroke="#eee" stroke-width="0.6" stroke-linecap="round"/>
<path d="M88,568.8 L99.5,562.5" stroke="#1f3f8f" stroke-width="5.5" stroke-linecap="round"/>
<path d="M88,568.8 L99.5,562.5" stroke="#5a8de0" stroke-width="3.2" stroke-linecap="round"/>
<ellipse cx="86.6" cy="569.6" rx="4" ry="4.6" transform="rotate(60 86.6 569.6)" fill="#4a7bd0" stroke="#1f3f8f" stroke-width="1"/>
<path d="M424,437 L532,497.5 Q536,500 533,504 L520,510.5 Q516,512.5 512,511 L411,451 Q407,448 410,445 Z" fill="#f6f6f6" stroke="#1e1e1e" stroke-width="1.0" stroke-linejoin="round"/>
<polyline points="411,450.5 513.5,512.5" fill="none" stroke="#1e1e1e" stroke-width="0.8" stroke-linejoin="round"/>
<path d="M422.9,441.8 L428.8,417.9 L434.8,397.7 Q438,388 446.7,384.1 Q453,384 455.1,394.1 L457.5,406 L459.9,415.5 Q462,419 465,417 L468.2,414.4 Q471,414 473,418 L476.5,423.9 L486.1,426.3 Q491,428 493.2,432.2 L495.6,438.2 Q499,439 500.4,435.8 L501.6,428.7 Q503,424 506.4,423.9 Q509,422 511.1,422.7 Q515,424 515.9,426.3 L523,439.4 L531.4,460.9 L535,479.9 L536.2,494.2 L532,497.5 L424,437 Z" fill="#f8f8f8" stroke="#1e1e1e" stroke-width="1.0" stroke-linejoin="round"/>
<polyline points="424.2,440.5 528.7,501" fill="none" stroke="#1e1e1e" stroke-width="0.8" stroke-linejoin="round"/>
<path d="M433.6,410.8 Q440,407 446,413 Q455,418 459.9,422.7 Q465,432 463.4,441.8 Q464,448 459.9,451.3 Q452,450 446,446 Q438,444 436,436 Q431,428 432.4,420 Z" fill="#fff" stroke="#1e1e1e" stroke-width="1.0"/>
<path d="M436,414 Q446,416 456,424 Q462,434 460,446 Q450,446 440,440 Q434,428 436,414 Z" fill="none" stroke="#555" stroke-width="0.6"/>
<path d="M527.2,475.3 L526.2,476.5 L524.6,477.3 L522.8,477.7 L520.7,477.8 L518.6,477.6 L516.6,477.3 L514.8,476.9 L513.3,476.8 L512.0,476.8 L510.8,477.1 L509.7,477.7 L508.5,478.5 L507.0,479.4 L505.4,480.2 L503.5,480.7 L501.5,480.9 L499.5,480.6 L497.5,479.9 L495.8,478.7 L494.5,477.2 L493.5,475.4 L492.9,473.6 L492.6,471.8 L492.6,470.1 L492.5,468.6 L492.4,467.3 L492.0,466.2 L491.3,465.1 L490.3,463.9 L489.1,462.6 L487.7,461.2 L486.3,459.6 L485.2,457.8 L484.5,456.0 L484.4,454.3 L484.8,452.7 L485.8,451.5 L487.4,450.7 L489.2,450.3 L491.3,450.2 L493.4,450.4 L495.4,450.7 L497.2,451.1 L498.7,451.2 L500.0,451.2 L501.2,450.9 L502.3,450.3 L503.5,449.5 L505.0,448.6 L506.6,447.8 L508.5,447.3 L510.5,447.1 L512.5,447.4 L514.5,448.1 L516.2,449.3 L517.5,450.8 L518.5,452.6 L519.1,454.4 L519.4,456.2 L519.4,457.9 L519.5,459.4 L519.6,460.7 L520.0,461.8 L520.7,462.9 L521.7,464.1 L522.9,465.4 L524.3,466.8 L525.7,468.4 L526.8,470.2 L527.5,472.0 L527.6,473.7Z" fill="#fff" stroke="#1e1e1e" stroke-width="1.0"/>
<path d="M525.5,475.1 L524.7,476.1 L523.4,476.8 L521.8,477.1 L520.0,477.2 L518.2,477.0 L516.6,476.7 L515.1,476.4 L513.8,476.2 L512.7,476.3 L511.7,476.5 L510.7,477.0 L509.7,477.7 L508.5,478.4 L507.1,479.1 L505.5,479.5 L503.8,479.6 L502.1,479.4 L500.5,478.7 L499.0,477.7 L497.8,476.4 L497.0,475.0 L496.5,473.4 L496.2,471.9 L496.2,470.5 L496.1,469.3 L496.0,468.2 L495.7,467.2 L495.1,466.3 L494.2,465.3 L493.2,464.2 L492.0,463.0 L490.8,461.6 L489.9,460.2 L489.3,458.6 L489.1,457.2 L489.5,455.9 L490.3,454.9 L491.6,454.2 L493.2,453.9 L495.0,453.8 L496.8,454.0 L498.4,454.3 L499.9,454.6 L501.2,454.8 L502.3,454.7 L503.3,454.5 L504.3,454.0 L505.3,453.3 L506.5,452.6 L507.9,451.9 L509.5,451.5 L511.2,451.4 L512.9,451.6 L514.5,452.3 L516.0,453.3 L517.2,454.6 L518.0,456.0 L518.5,457.6 L518.8,459.1 L518.8,460.5 L518.9,461.7 L519.0,462.8 L519.3,463.8 L519.9,464.7 L520.8,465.7 L521.8,466.8 L523.0,468.0 L524.2,469.4 L525.1,470.8 L525.7,472.4 L525.9,473.8Z" fill="none" stroke="#777" stroke-width="0.6"/>
<ellipse cx="446" cy="390.5" rx="1.9" ry="2.3" fill="#fff" stroke="#1e1e1e" stroke-width="0.8"/>
<ellipse cx="479" cy="431" rx="1.9" ry="2.3" fill="#fff" stroke="#1e1e1e" stroke-width="0.8"/>
<ellipse cx="510" cy="426.3" rx="1.9" ry="2.3" fill="#fff" stroke="#1e1e1e" stroke-width="0.8"/>
<ellipse cx="421.6" cy="445.7" rx="5.5" ry="2.2" transform="rotate(30 421.6 445.7)" fill="#fff" stroke="#1e1e1e" stroke-width="0.9"/>
<ellipse cx="454.4" cy="462.8" rx="5.5" ry="3.25" transform="rotate(30 454.4 462.8)" fill="#fff" stroke="#1e1e1e" stroke-width="0.9"/>
<ellipse cx="489.4" cy="483" rx="6.0" ry="3.75" transform="rotate(30 489.4 483)" fill="#fff" stroke="#1e1e1e" stroke-width="0.9"/>
<ellipse cx="519.4" cy="502.6" rx="5.5" ry="2.0" transform="rotate(30 519.4 502.6)" fill="#fff" stroke="#1e1e1e" stroke-width="0.9"/>
<path d="M432.3,476.8 L432.1,476.8 L432.0,476.9 L431.9,476.9 L431.7,476.9 L431.6,476.9 L431.4,476.8 L431.3,476.8 L431.1,476.7 L430.9,476.6 L430.8,476.5 L430.6,476.4 L430.4,476.3 L430.3,476.2 L430.1,476.0 L430.0,475.8 L429.9,475.7 L429.7,475.5 L429.6,475.3 L429.5,475.1 L429.4,474.9 L429.3,474.7 L429.2,474.5 L429.2,474.3 L429.1,474.0 L429.1,473.8 L429.1,473.7 L429.1,473.5 L429.1,473.3 L429.1,473.1 L429.2,472.9 L429.2,472.8 L429.3,472.7 L429.4,472.5 L429.4,472.4 L429.6,472.3 L429.7,472.2 L442.7,464.7 L442.8,464.7 L442.9,464.6 L443.0,464.6 L443.2,464.6 L443.3,464.6 L443.5,464.7 L443.7,464.7 L443.8,464.8 L444.0,464.9 L444.2,465.0 L444.3,465.1 L444.5,465.2 L444.6,465.3 L444.8,465.5 L444.9,465.7 L445.1,465.8 L445.2,466.0 L445.3,466.2 L445.4,466.4 L445.5,466.6 L445.6,466.8 L445.7,467.0 L445.7,467.2 L445.8,467.5 L445.8,467.7 L445.8,467.8 L445.8,468.0 L445.8,468.2 L445.8,468.4 L445.8,468.6 L445.7,468.7 L445.6,468.8 L445.6,469.0 L445.5,469.1 L445.4,469.2 L445.3,469.3Z" fill="#f6f6f6" stroke="#1e1e1e" stroke-width="1.0" stroke-linejoin="round" />
<path d="M432.3,476.8 A2.6,1.6 60.0 1 0 429.7,472.2 A2.6,1.6 60.0 1 0 432.3,476.8Z" fill="#fff" stroke="#1e1e1e" stroke-width="1.0" stroke-linejoin="round" />
<path d="M429.8,480.5 L429.6,480.6 L429.3,480.7 L429.1,480.7 L428.8,480.7 L428.6,480.7 L428.3,480.6 L428.0,480.6 L427.7,480.4 L427.4,480.3 L427.1,480.1 L426.9,479.9 L426.6,479.7 L426.3,479.4 L426.0,479.2 L425.8,478.9 L425.5,478.6 L425.3,478.2 L425.1,477.9 L424.9,477.5 L424.7,477.2 L424.6,476.8 L424.5,476.4 L424.4,476.1 L424.3,475.7 L424.2,475.3 L424.2,475.0 L424.2,474.7 L424.2,474.3 L424.2,474.0 L424.3,473.7 L424.4,473.5 L424.5,473.2 L424.7,473.0 L424.8,472.8 L425.0,472.7 L425.2,472.5 L429.1,470.3 L429.3,470.2 L429.5,470.1 L429.8,470.0 L430.1,470.0 L430.3,470.1 L430.6,470.1 L430.9,470.2 L431.2,470.3 L431.5,470.5 L431.7,470.6 L432.0,470.8 L432.3,471.1 L432.6,471.3 L432.9,471.6 L433.1,471.9 L433.4,472.2 L433.6,472.5 L433.8,472.9 L434.0,473.2 L434.2,473.6 L434.3,473.9 L434.4,474.3 L434.5,474.7 L434.6,475.0 L434.7,475.4 L434.7,475.8 L434.7,476.1 L434.7,476.4 L434.7,476.7 L434.6,477.0 L434.5,477.3 L434.4,477.5 L434.2,477.7 L434.1,477.9 L433.9,478.1 L433.7,478.2Z" fill="#f0f0f0" stroke="#1e1e1e" stroke-width="1.0" stroke-linejoin="round" />
<polygon points="429.8,480.5 430.7,477.3 428.4,473.3 425.2,472.5 424.3,475.7 426.6,479.7" fill="#fff" stroke="#1e1e1e" stroke-width="0.9"/>
<ellipse cx="515.6" cy="372.3" rx="4.5" ry="3" fill="#ccc" stroke="#1e1e1e" stroke-width="1.0"/>
<ellipse cx="515.6" cy="372.1" rx="1.9" ry="1.1" fill="#fff" stroke="#1e1e1e" stroke-width="0.7"/>
<path d="M509.5,388 L509.5,391 Q515,395 520.5,391 L520.5,388 Z" fill="#eee" stroke="#1e1e1e" stroke-width="0.9"/>
<ellipse cx="515" cy="388" rx="5.5" ry="3.5" fill="#f4f4f4" stroke="#1e1e1e" stroke-width="0.9"/>
<path d="M511.5,387 L511.5,383.5 Q515,381 518.5,383.5 L518.5,387 Q515,389 511.5,387 Z" fill="#fff" stroke="#1e1e1e" stroke-width="0.9"/>
<ellipse cx="515" cy="383.5" rx="3.5" ry="2" fill="#fff" stroke="#1e1e1e" stroke-width="0.8"/>
<polyline points="574.3,250.8 611.8,229.0" fill="none" stroke="#333" stroke-width="0.7" stroke-linejoin="round"/>
<polyline points="618.4,239.6 619.1,239.1 619.6,238.5 620.1,237.9 620.6,237.1 620.9,236.2 621.1,235.2 621.2,234.2 621.2,233.1 621.1,231.9 621.0,230.7 620.7,229.5 620.3,228.3 619.8,227.0 619.3,225.8 618.7,224.7 617.9,223.5 617.2,222.4 616.3,221.4 615.5,220.5 614.6,219.6 613.6,218.9 612.7,218.2 611.7,217.7 610.7,217.3 609.8,217.0 608.9,216.8 608.0,216.8 607.1,216.9 606.3,217.1 605.6,217.4 604.9,217.9 604.4,218.5 603.9,219.1 603.4,219.9 603.1,220.8 602.9,221.8 602.8,222.8 602.8,223.9 602.9,225.1 603.0,226.3 603.3,227.5 603.7,228.7 604.2,230.0 604.7,231.2 605.3,232.3 606.1,233.5 606.8,234.6 607.7,235.6 608.5,236.5 609.4,237.4 610.4,238.1 611.3,238.8 612.3,239.3 613.3,239.7 614.2,240.0 615.1,240.2 616.0,240.2 616.9,240.1 617.7,239.9 618.4,239.6" fill="none" stroke="#2a3550" stroke-width="2.2" stroke-linecap="round"/>
<polyline points="618.4,239.6 619.1,239.1 619.6,238.5 620.1,237.9 620.6,237.1 620.9,236.2 621.1,235.2 621.2,234.2 621.2,233.1 621.1,231.9 621.0,230.7 620.7,229.5 620.3,228.3 619.8,227.0 619.3,225.8 618.7,224.7 617.9,223.5 617.2,222.4 616.3,221.4 615.5,220.5 614.6,219.6 613.6,218.9 612.7,218.2 611.7,217.7 610.7,217.3 609.8,217.0 608.9,216.8 608.0,216.8 607.1,216.9 606.3,217.1 605.6,217.4 604.9,217.9 604.4,218.5 603.9,219.1 603.4,219.9 603.1,220.8 602.9,221.8 602.8,222.8 602.8,223.9 602.9,225.1 603.0,226.3 603.3,227.5 603.7,228.7 604.2,230.0 604.7,231.2 605.3,232.3 606.1,233.5 606.8,234.6 607.7,235.6 608.5,236.5 609.4,237.4 610.4,238.1 611.3,238.8 612.3,239.3 613.3,239.7 614.2,240.0 615.1,240.2 616.0,240.2 616.9,240.1 617.7,239.9 618.4,239.6" fill="none" stroke="#c8d0e0" stroke-width="0.7" stroke-linecap="round"/>
<polyline points="608.3,216.8 607.7,216.8 607.1,216.9 606.6,217.0 606.1,217.2 605.6,217.4 605.2,217.7 604.7,218.1 604.4,218.5 604.0,218.9 603.7,219.4" fill="none" stroke="#111" stroke-width="2.4" stroke-linecap="round"/>
<path d="M597.7,251.8 L597.1,252.1 L596.4,252.3 L595.7,252.4 L595.0,252.4 L594.2,252.4 L593.5,252.2 L592.6,252.0 L591.8,251.6 L591.0,251.2 L590.2,250.7 L589.4,250.2 L588.6,249.5 L587.8,248.8 L587.1,248.0 L586.4,247.2 L585.7,246.3 L585.0,245.4 L584.4,244.4 L583.9,243.4 L583.4,242.4 L583.0,241.4 L582.6,240.3 L582.3,239.3 L582.1,238.2 L581.9,237.2 L581.8,236.3 L581.8,235.3 L581.9,234.4 L582.0,233.5 L582.2,232.7 L582.5,231.9 L582.8,231.3 L583.2,230.6 L583.6,230.1 L584.1,229.6 L584.7,229.2 L586.9,228.0 L587.5,227.7 L588.1,227.5 L588.8,227.4 L589.6,227.3 L590.3,227.4 L591.1,227.6 L591.9,227.8 L592.7,228.1 L593.5,228.5 L594.4,229.0 L595.2,229.6 L596.0,230.2 L596.7,231.0 L597.5,231.7 L598.2,232.6 L598.9,233.5 L599.5,234.4 L600.1,235.3 L600.7,236.3 L601.1,237.4 L601.6,238.4 L601.9,239.4 L602.2,240.5 L602.5,241.5 L602.6,242.5 L602.7,243.5 L602.7,244.5 L602.7,245.4 L602.6,246.2 L602.4,247.1 L602.1,247.8 L601.8,248.5 L601.4,249.1 L600.9,249.7 L600.4,250.1 L599.9,250.5ZM595.7,248.3 A9.0,5.4 60.0 1 0 586.7,232.7 A9.0,5.4 60.0 1 0 595.7,248.3Z" fill="#eeeeee" stroke="none" stroke-width="0" stroke-linejoin="round" fill-rule="evenodd"/>
<polyline points="586.9,228.0 587.5,227.7 588.1,227.5 588.8,227.4 589.6,227.3 590.3,227.4 591.1,227.6 591.9,227.8 592.7,228.1 593.5,228.5 594.4,229.0 595.2,229.6 596.0,230.2 596.7,231.0 597.5,231.7 598.2,232.6 598.9,233.5 599.5,234.4 600.1,235.3 600.7,236.3 601.1,237.4 601.6,238.4 601.9,239.4 602.2,240.5 602.5,241.5 602.6,242.5 602.7,243.5 602.7,244.5 602.7,245.4 602.6,246.2 602.4,247.1 602.1,247.8 601.8,248.5 601.4,249.1 600.9,249.7 600.4,250.1 599.9,250.5" fill="none" stroke="#1e1e1e" stroke-width="1.0"/>
<line x1="597.7" y1="251.8" x2="599.9" y2="250.5" stroke="#1e1e1e" stroke-width="1.0"/>
<line x1="584.7" y1="229.2" x2="586.9" y2="228.0" stroke="#1e1e1e" stroke-width="1.0"/>
<path d="M597.7,251.8 A13.0,7.8 60.0 1 0 584.7,229.2 A13.0,7.8 60.0 1 0 597.7,251.8ZM595.7,248.3 A9.0,5.4 60.0 1 0 586.7,232.7 A9.0,5.4 60.0 1 0 595.7,248.3Z" fill="#fff" stroke="#1e1e1e" stroke-width="1.1" stroke-linejoin="round" fill-rule="evenodd"/>
<path d="M595.7,248.3 A9.0,5.4 60.0 1 0 586.7,232.7 A9.0,5.4 60.0 1 0 595.7,248.3Z" fill="#fff" stroke="#1e1e1e" stroke-width="0.9" stroke-linejoin="round" />
<path d="M594.2,248.0 A8.0,4.8 60.0 1 0 586.2,234.2 A8.0,4.8 60.0 1 0 594.2,248.0Z" fill="none" stroke="#1e1e1e" stroke-width="0.7" stroke-linejoin="round" />
<path d="M592.6,247.8 A7.0,4.2 60.0 1 0 585.6,235.6 A7.0,4.2 60.0 1 0 592.6,247.8Z" fill="none" stroke="#1e1e1e" stroke-width="0.7" stroke-linejoin="round" />
<line x1="586.8" y1="243.1" x2="595.6" y2="237.9" stroke="#333" stroke-width="0.7"/>
<polyline points="675.4,373.2 687.9,383.1" fill="none" stroke="#333" stroke-width="0.7" stroke-linejoin="round"/>
<polyline points="705.0,394.0 779.0,436.0" fill="none" stroke="#333" stroke-width="0.7" stroke-linejoin="round"/>
<polygon points="589.3,333.8 590.8,345.4 595.9,346.1 599.5,340.3 615.4,351.9 621.2,354.8 628.5,352.7 634.2,346.9 632.8,339.6 627,336 614,328 614.7,321.5 611.1,322.2 590.8,331.7" fill="#f2f2f2" stroke="#1e1e1e" stroke-width="1" stroke-linejoin="round"/>
<polyline points="590.8,331.7 596.0,336.0 611.1,326.0" fill="none" stroke="#1e1e1e" stroke-width="0.8" stroke-linejoin="round"/>
<polyline points="596.0,336.0 595.9,346.1" fill="none" stroke="#1e1e1e" stroke-width="0.8" stroke-linejoin="round"/>
<polyline points="599.0,338.0 616.0,346.0 622.0,350.0" fill="none" stroke="#1e1e1e" stroke-width="0.7" stroke-linejoin="round"/>
<polyline points="602.0,342.0 614.0,349.0" fill="none" stroke="#888" stroke-width="1.4" stroke-linejoin="round"/>
<ellipse cx="626.5" cy="346" rx="7" ry="8" transform="rotate(-30 626.5 346)" fill="#fff" stroke="#1e1e1e" stroke-width="1"/>
<ellipse cx="620.5" cy="349.5" rx="6" ry="7" transform="rotate(-30 620.5 349.5)" fill="#fff" stroke="#1e1e1e" stroke-width="1"/>
<ellipse cx="620" cy="349.5" rx="3.2" ry="4.2" transform="rotate(-30 620 349.5)" fill="#fff" stroke="#1e1e1e" stroke-width="0.9"/>
<path d="M648.8,381.5 L649.8,382.0 L650.9,382.4 L652.1,382.6 L653.3,382.7 L654.5,382.7 L655.8,382.5 L657.1,382.2 L658.4,381.8 L659.7,381.2 L661.0,380.5 L662.3,379.7 L663.6,378.8 L664.8,377.7 L666.0,376.6 L667.1,375.4 L668.1,374.1 L669.1,372.7 L670.0,371.2 L670.8,369.7 L671.5,368.2 L672.1,366.6 L672.6,365.1 L673.0,363.5 L673.3,361.9 L673.5,360.3 L673.6,358.8 L673.5,357.3 L673.4,355.9 L673.1,354.6 L672.7,353.3 L672.2,352.1 L671.6,351.0 L670.9,350.0 L670.1,349.1 L669.2,348.4 L668.2,347.7 L654.4,339.7 L653.4,339.2 L652.3,338.8 L651.1,338.6 L649.9,338.5 L648.6,338.5 L647.3,338.7 L646.0,339.0 L644.7,339.4 L643.4,340.0 L642.1,340.7 L640.8,341.5 L639.6,342.4 L638.4,343.5 L637.2,344.6 L636.1,345.8 L635.0,347.1 L634.1,348.5 L633.2,350.0 L632.4,351.5 L631.6,353.0 L631.0,354.6 L630.5,356.1 L630.1,357.7 L629.8,359.3 L629.6,360.9 L629.6,362.4 L629.6,363.9 L629.8,365.3 L630.1,366.6 L630.5,367.9 L631.0,369.1 L631.6,370.2 L632.3,371.2 L633.0,372.1 L633.9,372.8 L634.9,373.5Z" fill="#f4f4f4" stroke="#1e1e1e" stroke-width="1.0" stroke-linejoin="round" />
<polyline points="645.7,379.7 644.8,379.2 644.0,378.5 643.3,377.7 642.6,376.9 642.1,375.9 641.6,374.9 641.2,373.8 640.8,372.6 640.6,371.4 640.5,370.1 640.4,368.8 640.4,367.4 640.6,366.0 640.8,364.6 641.1,363.2 641.5,361.8 642.0,360.3 642.6,358.9 643.3,357.6 644.0,356.2 644.8,354.9 645.7,353.7 646.6,352.5 647.6,351.3 648.6,350.3 649.7,349.3 650.8,348.4 651.9,347.6 653.1,346.8 654.2,346.2 655.4,345.7 656.6,345.3 657.8,345.0 658.9,344.8 660.1,344.7 661.2,344.7 662.3,344.9 663.3,345.1 664.3,345.5 665.2,346.0" fill="none" stroke="#1e1e1e" stroke-width="1.6" stroke-linecap="round"/>
<polyline points="644.4,379.0 643.5,378.4 642.7,377.7 642.0,377.0 641.3,376.1 640.8,375.2 640.3,374.1 639.9,373.0 639.5,371.9 639.3,370.6 639.2,369.4 639.1,368.0 639.1,366.7 639.3,365.3 639.5,363.9 639.8,362.4 640.2,361.0 640.7,359.6 641.3,358.2 642.0,356.8 642.7,355.5 643.5,354.2 644.4,352.9 645.3,351.7 646.3,350.6 647.3,349.5 648.4,348.5 649.5,347.6 650.6,346.8 651.8,346.1 652.9,345.5 654.1,345.0 655.3,344.5 656.5,344.2 657.6,344.0 658.8,344.0 659.9,344.0 661.0,344.1 662.0,344.4 663.0,344.7 663.9,345.2" fill="none" stroke="#1e1e1e" stroke-width="0.9" stroke-linecap="round"/>
<path d="M648.8,381.5 A19.5,13.3 120.0 1 0 668.2,347.7 A19.5,13.3 120.0 1 0 648.8,381.5Z" fill="#fff" stroke="#1e1e1e" stroke-width="1.1" stroke-linejoin="round" />
<path d="M650.0,379.3 A17.0,11.6 120.0 1 0 667.0,349.9 A17.0,11.6 120.0 1 0 650.0,379.3Z" fill="none" stroke="#999" stroke-width="0.5" stroke-linejoin="round" />
<path d="M659.8,374.2 A6.5,4.4 120.0 1 0 666.2,363.0 A6.5,4.4 120.0 1 0 659.8,374.2Z" fill="#fff" stroke="#1e1e1e" stroke-width="0.8" stroke-linejoin="round" />
<path d="M661.0,372.1 A4.0,2.7 120.0 1 0 665.0,365.1 A4.0,2.7 120.0 1 0 661.0,372.1Z" fill="#eee" stroke="#1e1e1e" stroke-width="0.9" stroke-linejoin="round" />
<path d="M662.0,370.3 A2.0,1.4 120.0 1 0 664.0,366.9 A2.0,1.4 120.0 1 0 662.0,370.3Z" fill="#fff" stroke="#1e1e1e" stroke-width="0.7" stroke-linejoin="round" />
<ellipse cx="639.5" cy="371" rx="3" ry="4" transform="rotate(-25 639.5 371)" fill="#fff" stroke="#1e1e1e" stroke-width="1"/>
<ellipse cx="640" cy="370.5" rx="1.8" ry="2.6" transform="rotate(-25 640 370.5)" fill="#ddd" stroke="#1e1e1e" stroke-width="0.6"/>
<polyline points="695.1,364.9 696.3,366.5 697.3,368.3 698.0,370.4 698.4,372.6 698.5,375.1 698.3,377.6 697.8,380.2 697.0,382.9 695.9,385.4 694.5,387.9 692.9,390.2 691.1,392.3 689.2,394.2 687.1,395.8 685.0,397.1 682.8,398.0 680.6,398.5 678.5,398.7 676.5,398.5 674.6,398.0 673.0,397.1 671.5,395.8 670.3,394.2 669.3,392.4 668.7,390.2 668.3,387.9 668.3,385.5 668.6,382.9 669.1,380.3 670.0,377.7 671.2,375.1 672.6,372.7 674.2,370.4 676.0,368.3 678.0,366.5 680.1,365.0 682.2,363.8 684.4,362.9 686.6,362.4 688.7,362.3" fill="none" stroke="#1e1e1e" stroke-width="2.0" stroke-linecap="round"/>
<polyline points="695.1,364.9 696.3,366.5 697.3,368.3 698.0,370.4 698.4,372.6 698.5,375.1 698.3,377.6 697.8,380.2 697.0,382.9 695.9,385.4 694.5,387.9 692.9,390.2 691.1,392.3 689.2,394.2 687.1,395.8 685.0,397.1 682.8,398.0 680.6,398.5 678.5,398.7 676.5,398.5 674.6,398.0 673.0,397.1 671.5,395.8 670.3,394.2 669.3,392.4 668.7,390.2 668.3,387.9 668.3,385.5 668.6,382.9 669.1,380.3 670.0,377.7 671.2,375.1 672.6,372.7 674.2,370.4 676.0,368.3 678.0,366.5 680.1,365.0 682.2,363.8 684.4,362.9 686.6,362.4 688.7,362.3" fill="none" stroke="#eee" stroke-width="0.6" stroke-linecap="round"/>
<path d="M703.2,414.8 L704.2,415.3 L705.4,415.7 L706.6,416.0 L707.8,416.1 L709.1,416.1 L710.4,415.9 L711.7,415.6 L713.1,415.1 L714.4,414.6 L715.8,413.8 L717.1,413.0 L718.4,412.0 L719.6,411.0 L720.8,409.8 L722.0,408.6 L723.0,407.2 L724.0,405.8 L724.9,404.3 L725.8,402.8 L726.5,401.2 L727.1,399.6 L727.7,398.0 L728.1,396.3 L728.4,394.7 L728.6,393.1 L728.6,391.6 L728.6,390.1 L728.4,388.6 L728.1,387.2 L727.7,385.9 L727.2,384.7 L726.6,383.5 L725.9,382.5 L725.1,381.6 L724.2,380.8 L723.2,380.2 L711.0,373.2 L710.0,372.7 L708.8,372.3 L707.7,372.0 L706.4,371.9 L705.1,371.9 L703.8,372.1 L702.5,372.4 L701.1,372.9 L699.8,373.4 L698.5,374.2 L697.1,375.0 L695.8,376.0 L694.6,377.0 L693.4,378.2 L692.3,379.4 L691.2,380.8 L690.2,382.2 L689.3,383.7 L688.4,385.2 L687.7,386.8 L687.1,388.4 L686.6,390.0 L686.1,391.7 L685.8,393.3 L685.7,394.9 L685.6,396.4 L685.6,397.9 L685.8,399.4 L686.1,400.8 L686.5,402.1 L687.0,403.3 L687.6,404.5 L688.3,405.5 L689.2,406.4 L690.1,407.2 L691.0,407.8Z" fill="#f4f4f4" stroke="#1e1e1e" stroke-width="1.0" stroke-linejoin="round" />
<polyline points="698.8,412.3 697.9,411.7 697.1,411.0 696.4,410.3 695.7,409.4 695.1,408.4 694.6,407.3 694.2,406.2 693.8,405.0 693.6,403.8 693.4,402.4 693.4,401.1 693.4,399.7 693.6,398.3 693.8,396.8 694.1,395.3 694.5,393.9 695.1,392.4 695.6,391.0 696.3,389.6 697.1,388.2 697.9,386.9 698.8,385.6 699.7,384.3 700.7,383.2 701.8,382.1 702.9,381.1 704.0,380.2 705.2,379.3 706.4,378.6 707.6,377.9 708.8,377.4 710.0,377.0 711.2,376.7 712.4,376.5 713.6,376.4 714.7,376.4 715.8,376.6 716.9,376.8 717.9,377.2 718.8,377.7" fill="none" stroke="#1e1e1e" stroke-width="0.9" stroke-linecap="round"/>
<polyline points="697.1,411.3 696.2,410.7 695.4,410.0 694.6,409.3 694.0,408.4 693.4,407.4 692.9,406.3 692.4,405.2 692.1,404.0 691.9,402.8 691.7,401.4 691.7,400.1 691.7,398.7 691.8,397.3 692.1,395.8 692.4,394.3 692.8,392.9 693.3,391.4 693.9,390.0 694.6,388.6 695.3,387.2 696.2,385.9 697.0,384.6 698.0,383.3 699.0,382.2 700.1,381.1 701.2,380.1 702.3,379.2 703.5,378.3 704.6,377.6 705.9,376.9 707.1,376.4 708.3,376.0 709.5,375.7 710.7,375.5 711.8,375.4 713.0,375.4 714.1,375.6 715.1,375.8 716.2,376.2 717.1,376.7" fill="none" stroke="#1e1e1e" stroke-width="0.7" stroke-linecap="round"/>
<polyline points="693.6,409.3 692.8,408.7 691.9,408.0 691.2,407.3 690.5,406.4 689.9,405.4 689.4,404.3 689.0,403.2 688.6,402.0 688.4,400.8 688.2,399.4 688.2,398.1 688.2,396.7 688.4,395.3 688.6,393.8 688.9,392.3 689.4,390.9 689.9,389.4 690.4,388.0 691.1,386.6 691.9,385.2 692.7,383.9 693.6,382.6 694.5,381.3 695.5,380.2 696.6,379.1 697.7,378.1 698.8,377.2 700.0,376.3 701.2,375.6 702.4,374.9 703.6,374.4 704.8,374.0 706.0,373.7 707.2,373.5 708.4,373.4 709.5,373.4 710.6,373.6 711.7,373.8 712.7,374.2 713.6,374.7" fill="none" stroke="#1e1e1e" stroke-width="0.8" stroke-linecap="round"/>
<path d="M702.8,425.5 L704.4,426.2 L706.0,426.8 L707.8,427.2 L709.6,427.3 L711.5,427.3 L713.4,427.0 L715.4,426.6 L717.4,425.9 L719.3,425.1 L721.3,424.0 L723.3,422.8 L725.1,421.4 L727.0,419.8 L728.7,418.1 L730.4,416.2 L732.0,414.3 L733.5,412.2 L734.8,410.0 L736.0,407.7 L737.1,405.4 L738.0,403.1 L738.8,400.7 L739.4,398.3 L739.8,395.9 L740.1,393.6 L740.2,391.3 L740.1,389.1 L739.9,386.9 L739.5,384.9 L738.9,382.9 L738.1,381.1 L737.2,379.5 L736.2,378.0 L735.0,376.7 L733.7,375.5 L732.2,374.5 L727.9,372.0 L726.3,371.3 L724.6,370.7 L722.9,370.3 L721.1,370.2 L719.2,370.2 L717.2,370.5 L715.3,370.9 L713.3,371.6 L711.3,372.4 L709.4,373.5 L707.4,374.7 L705.5,376.1 L703.7,377.7 L701.9,379.4 L700.3,381.3 L698.7,383.2 L697.2,385.3 L695.9,387.5 L694.6,389.8 L693.6,392.1 L692.6,394.4 L691.9,396.8 L691.3,399.2 L690.8,401.6 L690.6,403.9 L690.5,406.2 L690.5,408.4 L690.8,410.6 L691.2,412.6 L691.8,414.6 L692.5,416.4 L693.4,418.0 L694.5,419.5 L695.7,420.8 L697.0,422.0 L698.5,423.0ZM707.0,418.2 A21.0,14.3 120.0 1 0 728.0,381.8 A21.0,14.3 120.0 1 0 707.0,418.2Z" fill="#f2f2f2" stroke="none" stroke-width="0" stroke-linejoin="round" fill-rule="evenodd"/>
<polyline points="727.9,372.0 726.3,371.3 724.6,370.7 722.9,370.3 721.1,370.2 719.2,370.2 717.2,370.5 715.3,370.9 713.3,371.6 711.3,372.4 709.4,373.5 707.4,374.7 705.5,376.1 703.7,377.7 701.9,379.4 700.3,381.3 698.7,383.2 697.2,385.3 695.9,387.5 694.6,389.8 693.6,392.1 692.6,394.4 691.9,396.8 691.3,399.2 690.8,401.6 690.6,403.9 690.5,406.2 690.5,408.4 690.8,410.6 691.2,412.6 691.8,414.6 692.5,416.4 693.4,418.0 694.5,419.5 695.7,420.8 697.0,422.0 698.5,423.0" fill="none" stroke="#1e1e1e" stroke-width="1.0"/>
<line x1="702.8" y1="425.5" x2="698.5" y2="423.0" stroke="#1e1e1e" stroke-width="1.0"/>
<line x1="732.2" y1="374.5" x2="727.9" y2="372.0" stroke="#1e1e1e" stroke-width="1.0"/>
<path d="M702.8,425.5 A29.4,20.0 120.0 1 0 732.2,374.5 A29.4,20.0 120.0 1 0 702.8,425.5ZM707.0,418.2 A21.0,14.3 120.0 1 0 728.0,381.8 A21.0,14.3 120.0 1 0 707.0,418.2Z" fill="#fff" stroke="#1e1e1e" stroke-width="1.1" stroke-linejoin="round" fill-rule="evenodd"/>
<path d="M704.0,423.4 A27.0,18.4 120.0 1 0 731.0,376.6 A27.0,18.4 120.0 1 0 704.0,423.4Z" fill="none" stroke="#1e1e1e" stroke-width="0.6" stroke-linejoin="round" />
<path d="M707.0,418.2 A21.0,14.3 120.0 1 0 728.0,381.8 A21.0,14.3 120.0 1 0 707.0,418.2Z" fill="#f0f0f0" stroke="#1e1e1e" stroke-width="0" stroke-linejoin="round" />
<clipPath id="k11"><path d="M707.0,418.2 A21.0,14.3 120.0 1 0 728.0,381.8 A21.0,14.3 120.0 1 0 707.0,418.2Z"/></clipPath>
<path d="M698.3,413.2 A21.0,14.3 120.0 1 0 719.3,376.8 A21.0,14.3 120.0 1 0 698.3,413.2Z" fill="#fff" stroke="#1e1e1e" stroke-width="0.8" stroke-linejoin="round" clip-path="url(#k11)"/>
<ellipse cx="711" cy="413" rx="1.5" ry="1" fill="#555"/>
<path d="M726.2,437.2 L727.8,437.9 L729.4,438.5 L731.1,438.8 L732.8,439.0 L734.7,439.0 L736.6,438.7 L738.5,438.3 L740.4,437.6 L742.3,436.8 L744.2,435.8 L746.1,434.6 L747.9,433.2 L749.7,431.7 L751.4,430.0 L753.0,428.2 L754.6,426.3 L756.0,424.3 L757.3,422.2 L758.5,420.0 L759.5,417.8 L760.4,415.5 L761.1,413.2 L761.7,410.9 L762.2,408.6 L762.4,406.3 L762.5,404.1 L762.4,401.9 L762.2,399.8 L761.8,397.8 L761.2,396.0 L760.5,394.2 L759.6,392.6 L758.6,391.2 L757.4,389.9 L756.2,388.8 L754.8,387.8 L752.2,386.3 L750.6,385.6 L749.0,385.0 L747.3,384.7 L745.6,384.5 L743.7,384.5 L741.9,384.8 L739.9,385.2 L738.0,385.9 L736.1,386.7 L734.2,387.7 L732.3,388.9 L730.5,390.3 L728.7,391.8 L727.0,393.5 L725.4,395.3 L723.8,397.2 L722.4,399.2 L721.1,401.3 L719.9,403.5 L718.9,405.7 L718.0,408.0 L717.3,410.3 L716.7,412.6 L716.2,414.9 L716.0,417.2 L715.9,419.4 L716.0,421.6 L716.2,423.7 L716.6,425.7 L717.2,427.5 L717.9,429.3 L718.8,430.9 L719.8,432.3 L721.0,433.6 L722.2,434.7 L723.7,435.7Z" fill="#eeeeee" stroke="#1e1e1e" stroke-width="1.0" stroke-linejoin="round" />
<path d="M726.2,437.2 A28.5,19.4 120.0 1 0 754.8,387.8 A28.5,19.4 120.0 1 0 726.2,437.2Z" fill="#fff" stroke="#1e1e1e" stroke-width="1.1" stroke-linejoin="round" />
<path d="M727.8,434.6 A25.5,17.3 120.0 1 0 753.2,390.4 A25.5,17.3 120.0 1 0 727.8,434.6Z" fill="none" stroke="#1e1e1e" stroke-width="0.8" stroke-linejoin="round" />
<path d="M740.1,419.2 A4.5,3.1 120.0 1 0 744.6,411.4 A4.5,3.1 120.0 1 0 740.1,419.2Z" fill="#fff" stroke="#1e1e1e" stroke-width="0.9" stroke-linejoin="round" />
<path d="M741.2,417.3 A2.3,1.6 120.0 1 0 743.5,413.3 A2.3,1.6 120.0 1 0 741.2,417.3Z" fill="#eee" stroke="#1e1e1e" stroke-width="0.7" stroke-linejoin="round" />
<polyline points="745.0,415.3 753.0,419.7" fill="none" stroke="#333" stroke-width="0.7" stroke-linejoin="round"/>
<path d="M756.3,441.1 L757.1,441.5 L758.0,441.8 L758.9,442.0 L759.9,442.1 L760.9,442.1 L761.9,442.0 L762.9,441.7 L763.9,441.4 L765.0,440.9 L766.0,440.4 L767.0,439.7 L768.0,439.0 L769.0,438.2 L769.9,437.3 L770.8,436.3 L771.6,435.3 L772.4,434.2 L773.1,433.0 L773.7,431.9 L774.3,430.6 L774.8,429.4 L775.2,428.2 L775.5,426.9 L775.7,425.7 L775.8,424.4 L775.9,423.2 L775.9,422.1 L775.7,420.9 L775.5,419.9 L775.2,418.9 L774.8,417.9 L774.3,417.1 L773.8,416.3 L773.2,415.6 L772.5,415.0 L771.7,414.5 L770.0,413.5 L769.1,413.1 L768.3,412.8 L767.4,412.6 L766.4,412.5 L765.4,412.5 L764.4,412.6 L763.4,412.9 L762.3,413.2 L761.3,413.7 L760.3,414.2 L759.3,414.9 L758.3,415.6 L757.3,416.4 L756.4,417.3 L755.5,418.3 L754.7,419.3 L753.9,420.4 L753.2,421.6 L752.6,422.7 L752.0,424.0 L751.5,425.2 L751.1,426.4 L750.8,427.7 L750.6,428.9 L750.4,430.2 L750.4,431.4 L750.4,432.5 L750.5,433.7 L750.8,434.7 L751.1,435.7 L751.5,436.7 L751.9,437.5 L752.5,438.3 L753.1,439.0 L753.8,439.6 L754.6,440.1Z" fill="#333" stroke="#1e1e1e" stroke-width="1.0" stroke-linejoin="round" />
<path d="M756.3,441.1 A15.4,10.5 120.0 1 0 771.7,414.5 A15.4,10.5 120.0 1 0 756.3,441.1Z" fill="#fff" stroke="#1e1e1e" stroke-width="1.6" stroke-linejoin="round" />
<path d="M757.1,439.8 A13.8,9.4 120.0 1 0 770.9,415.8 A13.8,9.4 120.0 1 0 757.1,439.8Z" fill="none" stroke="#1e1e1e" stroke-width="0.6" stroke-linejoin="round" />
<path d="M758.2,431.1 A6.5,4.4 120.0 1 0 764.8,419.9 A6.5,4.4 120.0 1 0 758.2,431.1Z" fill="#e8e8e8" stroke="#1e1e1e" stroke-width="1.0" stroke-linejoin="round" />
<path d="M759.5,429.0 A4.0,2.7 120.0 1 0 763.5,422.0 A4.0,2.7 120.0 1 0 759.5,429.0Z" fill="#bbb" stroke="#1e1e1e" stroke-width="0.9" stroke-linejoin="round" />
<path d="M760.5,427.2 A2.0,1.4 120.0 1 0 762.5,423.8 A2.0,1.4 120.0 1 0 760.5,427.2Z" fill="#fff" stroke="#1e1e1e" stroke-width="0.7" stroke-linejoin="round" />
<polyline points="763.0,426.0 779.0,435.8" fill="none" stroke="#333" stroke-width="0.7" stroke-linejoin="round"/>
<path d="M786.4,443.1 L786.6,443.2 L786.8,443.2 L786.9,443.3 L787.1,443.3 L787.3,443.3 L787.6,443.2 L787.8,443.2 L788.0,443.1 L788.2,443.0 L788.4,442.9 L788.6,442.8 L788.8,442.6 L789.0,442.5 L789.2,442.3 L789.4,442.1 L789.6,441.9 L789.7,441.6 L789.9,441.4 L790.0,441.1 L790.1,440.9 L790.2,440.6 L790.3,440.4 L790.4,440.1 L790.4,439.9 L790.5,439.6 L790.5,439.4 L790.5,439.1 L790.4,438.9 L790.4,438.7 L790.3,438.4 L790.2,438.2 L790.1,438.1 L790.0,437.9 L789.9,437.8 L789.8,437.6 L789.6,437.5 L780.9,432.5 L780.8,432.4 L780.6,432.4 L780.4,432.3 L780.2,432.3 L780.0,432.3 L779.8,432.4 L779.6,432.4 L779.4,432.5 L779.1,432.6 L778.9,432.7 L778.7,432.8 L778.5,433.0 L778.3,433.1 L778.1,433.3 L777.9,433.5 L777.8,433.7 L777.6,434.0 L777.5,434.2 L777.3,434.5 L777.2,434.7 L777.1,435.0 L777.0,435.2 L777.0,435.5 L776.9,435.7 L776.9,436.0 L776.9,436.2 L776.9,436.5 L776.9,436.7 L776.9,436.9 L777.0,437.2 L777.1,437.4 L777.2,437.5 L777.3,437.7 L777.4,437.8 L777.6,438.0 L777.7,438.1Z" fill="#f2f2f2" stroke="#1e1e1e" stroke-width="1.0" stroke-linejoin="round" />
<path d="M785.2,445.1 L785.5,445.2 L785.9,445.3 L786.2,445.4 L786.5,445.4 L786.9,445.4 L787.2,445.4 L787.6,445.3 L788.0,445.2 L788.3,445.0 L788.7,444.8 L789.1,444.6 L789.4,444.3 L789.8,444.0 L790.1,443.7 L790.4,443.3 L790.7,443.0 L791.0,442.6 L791.2,442.2 L791.5,441.7 L791.7,441.3 L791.8,440.9 L792.0,440.4 L792.1,440.0 L792.2,439.5 L792.2,439.1 L792.2,438.7 L792.2,438.3 L792.2,437.9 L792.1,437.5 L792.0,437.1 L791.9,436.8 L791.7,436.5 L791.5,436.2 L791.3,435.9 L791.0,435.7 L790.8,435.5 L788.2,434.0 L787.9,433.9 L787.5,433.8 L787.2,433.7 L786.9,433.7 L786.5,433.7 L786.2,433.7 L785.8,433.8 L785.4,433.9 L785.1,434.1 L784.7,434.3 L784.3,434.5 L784.0,434.8 L783.6,435.1 L783.3,435.4 L783.0,435.8 L782.7,436.1 L782.4,436.5 L782.2,436.9 L781.9,437.4 L781.7,437.8 L781.6,438.2 L781.4,438.7 L781.3,439.1 L781.2,439.6 L781.2,440.0 L781.2,440.4 L781.2,440.8 L781.2,441.2 L781.3,441.6 L781.4,442.0 L781.5,442.3 L781.7,442.6 L781.9,442.9 L782.1,443.2 L782.4,443.4 L782.7,443.6Z" fill="#f2f2f2" stroke="#1e1e1e" stroke-width="1.0" stroke-linejoin="round" />
<path d="M785.2,445.1 A5.5,3.7 120.0 1 0 790.8,435.5 A5.5,3.7 120.0 1 0 785.2,445.1Z" fill="#fff" stroke="#1e1e1e" stroke-width="1.0" stroke-linejoin="round" />
<ellipse cx="578" cy="407" rx="3.2" ry="4.2" transform="rotate(-20 578 407)" fill="none" stroke="#1e1e1e" stroke-width="1.5"/>
<ellipse cx="626.6" cy="378.6" rx="3.2" ry="4.2" transform="rotate(-20 626.6 378.6)" fill="none" stroke="#1e1e1e" stroke-width="1.5"/>
<path d="M592.6,403.1 L592.4,403.2 L592.2,403.3 L592.0,403.3 L591.7,403.3 L591.5,403.3 L591.2,403.3 L591.0,403.2 L590.7,403.1 L590.4,403.0 L590.2,402.8 L589.9,402.6 L589.7,402.4 L589.4,402.2 L589.2,401.9 L588.9,401.7 L588.7,401.4 L588.5,401.1 L588.3,400.8 L588.1,400.4 L588.0,400.1 L587.8,399.8 L587.7,399.4 L587.6,399.1 L587.6,398.8 L587.5,398.4 L587.5,398.1 L587.5,397.8 L587.5,397.5 L587.5,397.2 L587.6,397.0 L587.7,396.7 L587.8,396.5 L587.9,396.3 L588.1,396.1 L588.2,396.0 L588.4,395.9 L615.2,380.4 L615.4,380.3 L615.7,380.2 L615.9,380.2 L616.1,380.2 L616.4,380.2 L616.6,380.2 L616.9,380.3 L617.1,380.4 L617.4,380.5 L617.7,380.7 L617.9,380.9 L618.2,381.1 L618.4,381.3 L618.7,381.6 L618.9,381.8 L619.1,382.1 L619.3,382.4 L619.5,382.7 L619.7,383.1 L619.9,383.4 L620.0,383.7 L620.1,384.1 L620.2,384.4 L620.3,384.7 L620.3,385.1 L620.4,385.4 L620.4,385.7 L620.4,386.0 L620.3,386.3 L620.3,386.5 L620.2,386.8 L620.1,387.0 L619.9,387.2 L619.8,387.4 L619.6,387.5 L619.4,387.6Z" fill="#f4f4f4" stroke="#1e1e1e" stroke-width="1.0" stroke-linejoin="round" />
<path d="M592.6,403.1 A4.2,2.5 60.0 1 0 588.4,395.9 A4.2,2.5 60.0 1 0 592.6,403.1Z" fill="#fff" stroke="#1e1e1e" stroke-width="1.0" stroke-linejoin="round" />
<path d="M591.6,401.5 A2.3,1.4 60.0 1 0 589.4,397.5 A2.3,1.4 60.0 1 0 591.6,401.5Z" fill="#fff" stroke="#1e1e1e" stroke-width="0.7" stroke-linejoin="round" />
<polyline points="539.0,19.8 550.5,19.8" fill="none" stroke="#8a8a8a" stroke-width="1.0" stroke-linejoin="round"/>
<polyline points="535.0,44.5 550.5,44.5" fill="none" stroke="#8a8a8a" stroke-width="1.0" stroke-linejoin="round"/>
<polyline points="520.0,65.0 550.5,65.0" fill="none" stroke="#8a8a8a" stroke-width="1.0" stroke-linejoin="round"/>
<polyline points="522.0,87.5 550.5,87.5" fill="none" stroke="#8a8a8a" stroke-width="1.0" stroke-linejoin="round"/>
<polyline points="522.0,105.6 550.5,105.6" fill="none" stroke="#8a8a8a" stroke-width="1.0" stroke-linejoin="round"/>
<polyline points="522.0,127.0 550.5,127.0" fill="none" stroke="#8a8a8a" stroke-width="1.0" stroke-linejoin="round"/>
<polyline points="534.0,152.7 550.5,152.7" fill="none" stroke="#8a8a8a" stroke-width="1.0" stroke-linejoin="round"/>
<polyline points="531.8,184.6 544.9,183.5 550.5,183.4" fill="none" stroke="#8a8a8a" stroke-width="1.0" stroke-linejoin="round"/>
<polyline points="511.5,195.4 524.6,195.4 544.9,183.5" fill="none" stroke="#8a8a8a" stroke-width="1.0" stroke-linejoin="round"/>
<polyline points="589.3,210.0 589.3,228.4" fill="none" stroke="#8a8a8a" stroke-width="1.0" stroke-linejoin="round"/>
<polyline points="615.4,203.0 615.4,218.8" fill="none" stroke="#8a8a8a" stroke-width="1.0" stroke-linejoin="round"/>
<polyline points="626.6,296.0 626.6,336.0" fill="none" stroke="#8a8a8a" stroke-width="1.0" stroke-linejoin="round"/>
<polyline points="655.0,313.0 655.0,342.0" fill="none" stroke="#8a8a8a" stroke-width="1.0" stroke-linejoin="round"/>
<polyline points="689.8,331.0 689.8,362.0" fill="none" stroke="#8a8a8a" stroke-width="1.0" stroke-linejoin="round"/>
<polyline points="715.0,348.0 715.0,372.8" fill="none" stroke="#8a8a8a" stroke-width="1.0" stroke-linejoin="round"/>
<polyline points="747.0,365.0 747.0,386.6" fill="none" stroke="#8a8a8a" stroke-width="1.0" stroke-linejoin="round"/>
<polyline points="772.7,382.0 772.7,412.7" fill="none" stroke="#8a8a8a" stroke-width="1.0" stroke-linejoin="round"/>
<polyline points="782.6,445.5 782.6,463.5" fill="none" stroke="#8a8a8a" stroke-width="1.0" stroke-linejoin="round"/>
<polyline points="579.5,411.0 579.5,424.5 609.3,444.5 627.5,395.4 627.5,382.5" fill="none" stroke="#8a8a8a" stroke-width="1.0" stroke-linejoin="round"/>
<polyline points="603.7,403.5 601.5,394.0" fill="none" stroke="#8a8a8a" stroke-width="1.0" stroke-linejoin="round"/>
<polyline points="521.0,372.3 539.5,372.3" fill="none" stroke="#8a8a8a" stroke-width="1.0" stroke-linejoin="round"/>
<polyline points="522.6,390.6 539.5,390.6" fill="none" stroke="#8a8a8a" stroke-width="1.0" stroke-linejoin="round"/>
<polyline points="435.9,479.5 435.9,508.7" fill="none" stroke="#8a8a8a" stroke-width="1.0" stroke-linejoin="round"/>
<polyline points="471.1,488.7 471.1,508.7" fill="none" stroke="#8a8a8a" stroke-width="1.0" stroke-linejoin="round"/>
<polyline points="381.6,515.5 381.6,443.5" fill="none" stroke="#8a8a8a" stroke-width="1.0" stroke-linejoin="round"/>
<polyline points="381.6,497.5 309.0,497.5 300.0,491.5" fill="none" stroke="#8a8a8a" stroke-width="1.0" stroke-linejoin="round"/>
<polyline points="356.1,476.5 356.1,463.0 334.1,463.0" fill="none" stroke="#8a8a8a" stroke-width="1.0" stroke-linejoin="round"/>
<polyline points="356.1,463.0 356.1,451.1" fill="none" stroke="#8a8a8a" stroke-width="1.0" stroke-linejoin="round"/>
<polyline points="256.5,445.0 256.5,493.0" fill="none" stroke="#8a8a8a" stroke-width="1.0" stroke-linejoin="round"/>
<polyline points="229.5,478.0 229.5,493.0" fill="none" stroke="#8a8a8a" stroke-width="1.0" stroke-linejoin="round"/>
<polyline points="201.0,482.5 201.0,493.8" fill="none" stroke="#8a8a8a" stroke-width="1.0" stroke-linejoin="round"/>
<polyline points="180.0,512.5 180.0,520.0" fill="none" stroke="#8a8a8a" stroke-width="1.0" stroke-linejoin="round"/>
<polyline points="147.5,532.5 147.5,545.0" fill="none" stroke="#8a8a8a" stroke-width="1.0" stroke-linejoin="round"/>
<polyline points="92.5,570.0 112.5,570.0" fill="none" stroke="#8a8a8a" stroke-width="1.0" stroke-linejoin="round"/>
<polyline points="68.8,556.0 68.8,562.5" fill="none" stroke="#8a8a8a" stroke-width="1.0" stroke-linejoin="round"/>
<polyline points="39.5,531.0 39.5,547.5" fill="none" stroke="#8a8a8a" stroke-width="1.0" stroke-linejoin="round"/>
<polyline points="60.0,490.0 60.0,500.0 63.8,512.5" fill="none" stroke="#8a8a8a" stroke-width="1.0" stroke-linejoin="round"/>
<polyline points="91.3,468.8 91.3,486.0" fill="none" stroke="#8a8a8a" stroke-width="1.0" stroke-linejoin="round"/>
<polyline points="286.6,306.0 286.6,330.0" fill="none" stroke="#8a8a8a" stroke-width="1.0" stroke-linejoin="round"/>
<polyline points="331.6,281.0 331.6,289.0" fill="none" stroke="#8a8a8a" stroke-width="1.0" stroke-linejoin="round"/>
<polyline points="367.8,328.0 367.8,340.6" fill="none" stroke="#8a8a8a" stroke-width="1.0" stroke-linejoin="round"/>
<polyline points="398.8,306.0 398.8,336.0" fill="none" stroke="#8a8a8a" stroke-width="1.0" stroke-linejoin="round"/>
<polyline points="428.8,290.6 428.8,307.8" fill="none" stroke="#8a8a8a" stroke-width="1.0" stroke-linejoin="round"/>
<polyline points="425.4,219.5 450.0,219.5 467.0,229.5" fill="none" stroke="#8a8a8a" stroke-width="1.0" stroke-linejoin="round"/>
<polyline points="364.6,116.0 364.6,137.9" fill="none" stroke="#8a8a8a" stroke-width="1.0" stroke-linejoin="round"/>
<polyline points="293.0,180.0 293.0,193.0" fill="none" stroke="#8a8a8a" stroke-width="1.0" stroke-linejoin="round"/>
<polyline points="265.0,185.0 265.0,207.7" fill="none" stroke="#8a8a8a" stroke-width="1.0" stroke-linejoin="round"/>
<polyline points="235.9,211.0 235.9,227.2" fill="none" stroke="#8a8a8a" stroke-width="1.0" stroke-linejoin="round"/>
<polyline points="206.6,220.7 206.6,246.7" fill="none" stroke="#8a8a8a" stroke-width="1.0" stroke-linejoin="round"/>
<polyline points="172.3,262.0 172.3,277.0" fill="none" stroke="#8a8a8a" stroke-width="1.0" stroke-linejoin="round"/>
<polyline points="137.8,283.9 137.8,295.3" fill="none" stroke="#8a8a8a" stroke-width="1.0" stroke-linejoin="round"/>
<polyline points="102.9,279.3 102.9,295.3" fill="none" stroke="#8a8a8a" stroke-width="1.0" stroke-linejoin="round"/>
<polyline points="94.8,213.7 94.8,226.4 111.4,235.6" fill="none" stroke="#8a8a8a" stroke-width="1.0" stroke-linejoin="round"/>
<g class="lb">
<text transform="translate(563,24.8) scale(0.765,1)">52</text>
<text transform="translate(563,49.9) scale(0.765,1)">53</text>
<text transform="translate(563,70.3) scale(0.765,1)">54</text>
<text transform="translate(563,92.3) scale(0.765,1)">55</text>
<text transform="translate(563,110.6) scale(0.765,1)">56</text>
<text transform="translate(563,132.0) scale(0.765,1)">57</text>
<text transform="translate(563,158.5) scale(0.765,1)">58</text>
<text transform="translate(563,188.2) scale(0.765,1)">59</text>
<text transform="translate(589.6,203.5) scale(0.765,1)">60</text>
<text transform="translate(615,196.6) scale(0.765,1)">61</text>
<text transform="translate(627,290.3) scale(0.765,1)">62</text>
<text transform="translate(655,307.1) scale(0.765,1)">63</text>
<text transform="translate(690,327.1) scale(0.765,1)">64</text>
<text transform="translate(715,340.9) scale(0.765,1)">65</text>
<text transform="translate(747,359.3) scale(0.765,1)">66</text>
<text transform="translate(772.5,376.3) scale(0.765,1)">67</text>
<text transform="translate(782.5,481.8) scale(0.765,1)">68</text>
<text transform="translate(609.5,468.3) scale(0.765,1)">69</text>
<text transform="translate(603.4,422.2) scale(0.765,1)">70</text>
<text transform="translate(549.4,377.2) scale(0.765,1)">71</text>
<text transform="translate(549.7,395.5) scale(0.765,1)">72</text>
<text transform="translate(471,524.9) scale(0.765,1)">73</text>
<text transform="translate(436,524.9) scale(0.765,1)">74</text>
<text transform="translate(381.7,529.3) scale(0.765,1)">75</text>
<text transform="translate(356.5,490.9) scale(0.765,1)">76</text>
<text transform="translate(256.8,508.3) scale(0.765,1)">77</text>
<text transform="translate(229.5,508.3) scale(0.765,1)">78</text>
<text transform="translate(201,507.3) scale(0.765,1)">79</text>
<text transform="translate(180,534.1) scale(0.765,1)">80</text>
<text transform="translate(147.5,559.1) scale(0.765,1)">81</text>
<text transform="translate(123.5,576.3) scale(0.765,1)">82</text>
<text transform="translate(67.5,575.3) scale(0.765,1)">83</text>
<text transform="translate(39.4,525.3) scale(0.765,1)">84</text>
<text transform="translate(60,484.1) scale(0.765,1)">85</text>
<text transform="translate(90.6,466.6) scale(0.765,1)">86</text>
<text transform="translate(286.6,300.9) scale(0.765,1)">87</text>
<text transform="translate(331.7,275.3) scale(0.765,1)">88</text>
<text transform="translate(367.6,322.3) scale(0.765,1)">89</text>
<text transform="translate(399,301.9) scale(0.765,1)">90</text>
<text transform="translate(428.6,286.3) scale(0.765,1)">91</text>
<text transform="translate(413,224.9) scale(0.765,1)">92</text>
<text transform="translate(364.4,155.3) scale(0.765,1)">93</text>
<text transform="translate(293.3,209.7) scale(0.765,1)">94</text>
<text transform="translate(265,223.6) scale(0.765,1)">95</text>
<text transform="translate(235.7,243.8) scale(0.765,1)">96</text>
<text transform="translate(206.7,264.9) scale(0.765,1)">97</text>
<text transform="translate(172.6,291.0) scale(0.765,1)">98</text>
<text transform="translate(137.9,310.6) scale(0.765,1)">99</text>
<text transform="translate(103.4,310.6) scale(0.765,1)">100</text>
<text transform="translate(96,207.1) scale(0.765,1)">101</text>
</g>
<g class="bx">
<text x="82.5" y="146.4" textLength="94" lengthAdjust="spacingAndGlyphs"><tspan font-weight="bold">Varianti / </tspan><tspan font-weight="bold" font-style="italic">Version</tspan></text>
<text x="82.7" y="163.5" textLength="140" lengthAdjust="spacingAndGlyphs">Albero Passante Femmina</text>
<text x="83.5" y="181" font-style="italic" textLength="112" lengthAdjust="spacingAndGlyphs">Throughshaft Female</text>
</g>
</svg>
</body></html>
